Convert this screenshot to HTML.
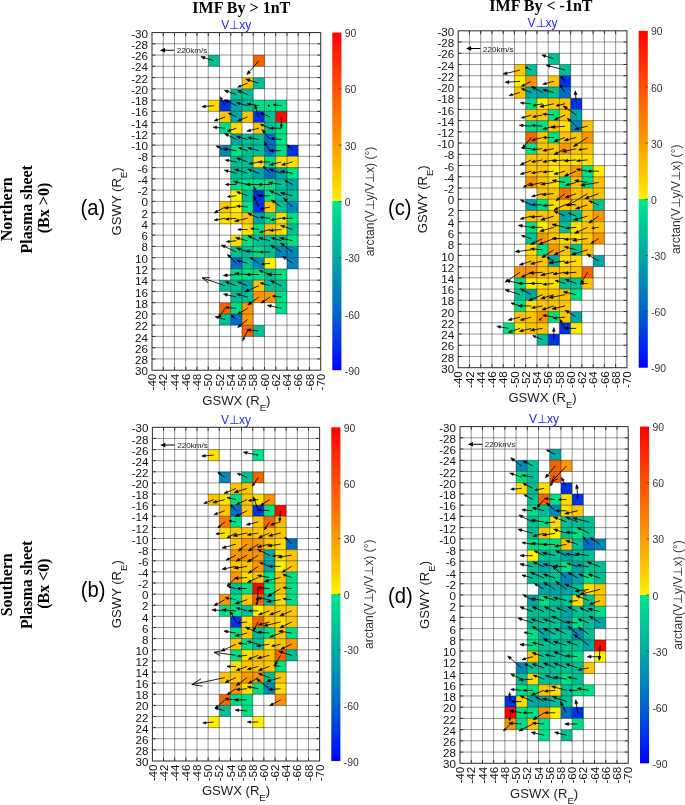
<!DOCTYPE html><html><head><meta charset="utf-8"><style>html,body{margin:0;padding:0;background:#fff;}svg{display:block;filter:blur(0.3px);}</style></head><body>
<svg width="685" height="805" viewBox="0 0 685 805" font-family='"Liberation Sans", sans-serif'>
<rect width="685" height="805" fill="#fff"/>
<rect x="208.23" y="55.06" width="11.3" height="11.3" fill="#00c196"/>
<rect x="253.22" y="55.06" width="11.3" height="11.3" fill="#f56400"/>
<rect x="241.97" y="77.57" width="11.3" height="11.3" fill="#fdc500"/>
<rect x="253.22" y="77.57" width="11.3" height="11.3" fill="#00c196"/>
<rect x="230.73" y="88.82" width="11.3" height="11.3" fill="#00c196"/>
<rect x="241.97" y="88.82" width="11.3" height="11.3" fill="#00c196"/>
<rect x="208.23" y="100.08" width="11.3" height="11.3" fill="#ffde00"/>
<rect x="219.48" y="100.08" width="11.3" height="11.3" fill="#0032e6"/>
<rect x="230.73" y="100.08" width="11.3" height="11.3" fill="#00a5a5"/>
<rect x="241.97" y="100.08" width="11.3" height="11.3" fill="#00c196"/>
<rect x="253.22" y="100.08" width="11.3" height="11.3" fill="#00e187"/>
<rect x="264.47" y="100.08" width="11.3" height="11.3" fill="#00e187"/>
<rect x="275.71" y="100.08" width="11.3" height="11.3" fill="#00e187"/>
<rect x="219.48" y="111.33" width="11.3" height="11.3" fill="#fdc500"/>
<rect x="230.73" y="111.33" width="11.3" height="11.3" fill="#00a5a5"/>
<rect x="241.97" y="111.33" width="11.3" height="11.3" fill="#fdc500"/>
<rect x="253.22" y="111.33" width="11.3" height="11.3" fill="#0032e6"/>
<rect x="264.47" y="111.33" width="11.3" height="11.3" fill="#00c196"/>
<rect x="275.71" y="111.33" width="11.3" height="11.3" fill="#fa0a00"/>
<rect x="219.48" y="122.59" width="11.3" height="11.3" fill="#00e187"/>
<rect x="230.73" y="122.59" width="11.3" height="11.3" fill="#ffde00"/>
<rect x="253.22" y="122.59" width="11.3" height="11.3" fill="#fdc500"/>
<rect x="264.47" y="122.59" width="11.3" height="11.3" fill="#00c196"/>
<rect x="275.71" y="122.59" width="11.3" height="11.3" fill="#00e187"/>
<rect x="230.73" y="133.84" width="11.3" height="11.3" fill="#00a5a5"/>
<rect x="241.97" y="133.84" width="11.3" height="11.3" fill="#00c196"/>
<rect x="253.22" y="133.84" width="11.3" height="11.3" fill="#00c196"/>
<rect x="264.47" y="133.84" width="11.3" height="11.3" fill="#006ec8"/>
<rect x="275.71" y="133.84" width="11.3" height="11.3" fill="#00e187"/>
<rect x="219.48" y="145.1" width="11.3" height="11.3" fill="#0088b8"/>
<rect x="230.73" y="145.1" width="11.3" height="11.3" fill="#00e187"/>
<rect x="241.97" y="145.1" width="11.3" height="11.3" fill="#00c196"/>
<rect x="253.22" y="145.1" width="11.3" height="11.3" fill="#00c196"/>
<rect x="264.47" y="145.1" width="11.3" height="11.3" fill="#006ec8"/>
<rect x="275.71" y="145.1" width="11.3" height="11.3" fill="#00e187"/>
<rect x="286.96" y="145.1" width="11.3" height="11.3" fill="#0032e6"/>
<rect x="230.73" y="156.35" width="11.3" height="11.3" fill="#00c196"/>
<rect x="241.97" y="156.35" width="11.3" height="11.3" fill="#00c196"/>
<rect x="253.22" y="156.35" width="11.3" height="11.3" fill="#ffde00"/>
<rect x="264.47" y="156.35" width="11.3" height="11.3" fill="#00e187"/>
<rect x="275.71" y="156.35" width="11.3" height="11.3" fill="#ffde00"/>
<rect x="286.96" y="156.35" width="11.3" height="11.3" fill="#ffde00"/>
<rect x="230.73" y="167.61" width="11.3" height="11.3" fill="#00c196"/>
<rect x="241.97" y="167.61" width="11.3" height="11.3" fill="#00c196"/>
<rect x="253.22" y="167.61" width="11.3" height="11.3" fill="#00a5a5"/>
<rect x="264.47" y="167.61" width="11.3" height="11.3" fill="#006ec8"/>
<rect x="275.71" y="167.61" width="11.3" height="11.3" fill="#00a5a5"/>
<rect x="286.96" y="167.61" width="11.3" height="11.3" fill="#00e187"/>
<rect x="230.73" y="178.87" width="11.3" height="11.3" fill="#00e187"/>
<rect x="241.97" y="178.87" width="11.3" height="11.3" fill="#00e187"/>
<rect x="253.22" y="178.87" width="11.3" height="11.3" fill="#00e187"/>
<rect x="264.47" y="178.87" width="11.3" height="11.3" fill="#00e187"/>
<rect x="275.71" y="178.87" width="11.3" height="11.3" fill="#00c196"/>
<rect x="286.96" y="178.87" width="11.3" height="11.3" fill="#00a5a5"/>
<rect x="230.73" y="190.12" width="11.3" height="11.3" fill="#fff000"/>
<rect x="241.97" y="190.12" width="11.3" height="11.3" fill="#00c196"/>
<rect x="253.22" y="190.12" width="11.3" height="11.3" fill="#0032e6"/>
<rect x="264.47" y="190.12" width="11.3" height="11.3" fill="#00e187"/>
<rect x="275.71" y="190.12" width="11.3" height="11.3" fill="#00c196"/>
<rect x="286.96" y="190.12" width="11.3" height="11.3" fill="#00c196"/>
<rect x="219.48" y="201.38" width="11.3" height="11.3" fill="#fdc500"/>
<rect x="230.73" y="201.38" width="11.3" height="11.3" fill="#fff000"/>
<rect x="241.97" y="201.38" width="11.3" height="11.3" fill="#00e187"/>
<rect x="253.22" y="201.38" width="11.3" height="11.3" fill="#0032e6"/>
<rect x="264.47" y="201.38" width="11.3" height="11.3" fill="#fdc500"/>
<rect x="275.71" y="201.38" width="11.3" height="11.3" fill="#00c196"/>
<rect x="286.96" y="201.38" width="11.3" height="11.3" fill="#0088b8"/>
<rect x="219.48" y="212.63" width="11.3" height="11.3" fill="#ffde00"/>
<rect x="230.73" y="212.63" width="11.3" height="11.3" fill="#ffde00"/>
<rect x="241.97" y="212.63" width="11.3" height="11.3" fill="#fdc500"/>
<rect x="253.22" y="212.63" width="11.3" height="11.3" fill="#00a5a5"/>
<rect x="264.47" y="212.63" width="11.3" height="11.3" fill="#00e187"/>
<rect x="275.71" y="212.63" width="11.3" height="11.3" fill="#ffde00"/>
<rect x="286.96" y="212.63" width="11.3" height="11.3" fill="#00e187"/>
<rect x="241.97" y="223.88" width="11.3" height="11.3" fill="#ffde00"/>
<rect x="253.22" y="223.88" width="11.3" height="11.3" fill="#00e187"/>
<rect x="264.47" y="223.88" width="11.3" height="11.3" fill="#fdc500"/>
<rect x="275.71" y="223.88" width="11.3" height="11.3" fill="#ffde00"/>
<rect x="286.96" y="223.88" width="11.3" height="11.3" fill="#00c196"/>
<rect x="230.73" y="235.14" width="11.3" height="11.3" fill="#ffde00"/>
<rect x="241.97" y="235.14" width="11.3" height="11.3" fill="#00e187"/>
<rect x="253.22" y="235.14" width="11.3" height="11.3" fill="#00c196"/>
<rect x="264.47" y="235.14" width="11.3" height="11.3" fill="#00c196"/>
<rect x="275.71" y="235.14" width="11.3" height="11.3" fill="#00c196"/>
<rect x="286.96" y="235.14" width="11.3" height="11.3" fill="#00e187"/>
<rect x="230.73" y="246.39" width="11.3" height="11.3" fill="#00c196"/>
<rect x="241.97" y="246.39" width="11.3" height="11.3" fill="#00c196"/>
<rect x="253.22" y="246.39" width="11.3" height="11.3" fill="#00e187"/>
<rect x="264.47" y="246.39" width="11.3" height="11.3" fill="#00c196"/>
<rect x="275.71" y="246.39" width="11.3" height="11.3" fill="#0088b8"/>
<rect x="286.96" y="246.39" width="11.3" height="11.3" fill="#0088b8"/>
<rect x="230.73" y="257.65" width="11.3" height="11.3" fill="#006ec8"/>
<rect x="241.97" y="257.65" width="11.3" height="11.3" fill="#00c196"/>
<rect x="253.22" y="257.65" width="11.3" height="11.3" fill="#0088b8"/>
<rect x="264.47" y="257.65" width="11.3" height="11.3" fill="#fff000"/>
<rect x="286.96" y="257.65" width="11.3" height="11.3" fill="#0088b8"/>
<rect x="230.73" y="268.9" width="11.3" height="11.3" fill="#00e187"/>
<rect x="241.97" y="268.9" width="11.3" height="11.3" fill="#00e187"/>
<rect x="253.22" y="268.9" width="11.3" height="11.3" fill="#00e187"/>
<rect x="264.47" y="268.9" width="11.3" height="11.3" fill="#00c196"/>
<rect x="275.71" y="268.9" width="11.3" height="11.3" fill="#00e187"/>
<rect x="219.48" y="280.16" width="11.3" height="11.3" fill="#00c196"/>
<rect x="230.73" y="280.16" width="11.3" height="11.3" fill="#00c196"/>
<rect x="241.97" y="280.16" width="11.3" height="11.3" fill="#00a5a5"/>
<rect x="253.22" y="280.16" width="11.3" height="11.3" fill="#fdc500"/>
<rect x="264.47" y="280.16" width="11.3" height="11.3" fill="#00c196"/>
<rect x="275.71" y="280.16" width="11.3" height="11.3" fill="#00c196"/>
<rect x="230.73" y="291.41" width="11.3" height="11.3" fill="#00c196"/>
<rect x="241.97" y="291.41" width="11.3" height="11.3" fill="#00c196"/>
<rect x="253.22" y="291.41" width="11.3" height="11.3" fill="#fa9600"/>
<rect x="264.47" y="291.41" width="11.3" height="11.3" fill="#fa9600"/>
<rect x="275.71" y="291.41" width="11.3" height="11.3" fill="#00e187"/>
<rect x="219.48" y="302.67" width="11.3" height="11.3" fill="#f56400"/>
<rect x="230.73" y="302.67" width="11.3" height="11.3" fill="#00e187"/>
<rect x="241.97" y="302.67" width="11.3" height="11.3" fill="#fa9600"/>
<rect x="275.71" y="302.67" width="11.3" height="11.3" fill="#00e187"/>
<rect x="219.48" y="313.93" width="11.3" height="11.3" fill="#00c196"/>
<rect x="230.73" y="313.93" width="11.3" height="11.3" fill="#006ec8"/>
<rect x="241.97" y="313.93" width="11.3" height="11.3" fill="#fa9600"/>
<rect x="241.97" y="325.18" width="11.3" height="11.3" fill="#f56400"/>
<rect x="253.22" y="325.18" width="11.3" height="11.3" fill="#00c196"/>
<path d="M163.25 32.55V370.2M174.49 32.55V370.2M185.74 32.55V370.2M196.99 32.55V370.2M208.23 32.55V370.2M219.48 32.55V370.2M230.73 32.55V370.2M241.97 32.55V370.2M253.22 32.55V370.2M264.47 32.55V370.2M275.71 32.55V370.2M286.96 32.55V370.2M298.21 32.55V370.2M309.45 32.55V370.2M152 43.8H320.7M152 55.06H320.7M152 66.31H320.7M152 77.57H320.7M152 88.82H320.7M152 100.08H320.7M152 111.33H320.7M152 122.59H320.7M152 133.84H320.7M152 145.1H320.7M152 156.35H320.7M152 167.61H320.7M152 178.87H320.7M152 190.12H320.7M152 201.38H320.7M152 212.63H320.7M152 223.88H320.7M152 235.14H320.7M152 246.39H320.7M152 257.65H320.7M152 268.9H320.7M152 280.16H320.7M152 291.41H320.7M152 302.67H320.7M152 313.93H320.7M152 325.18H320.7M152 336.44H320.7M152 347.69H320.7M152 358.94H320.7" stroke="rgba(0,0,0,0.42)" stroke-width="1" fill="none"/>
<path d="M163.25 370.2v-3.4M163.25 32.55v3.4M174.49 370.2v-3.4M174.49 32.55v3.4M185.74 370.2v-3.4M185.74 32.55v3.4M196.99 370.2v-3.4M196.99 32.55v3.4M208.23 370.2v-3.4M208.23 32.55v3.4M219.48 370.2v-3.4M219.48 32.55v3.4M230.73 370.2v-3.4M230.73 32.55v3.4M241.97 370.2v-3.4M241.97 32.55v3.4M253.22 370.2v-3.4M253.22 32.55v3.4M264.47 370.2v-3.4M264.47 32.55v3.4M275.71 370.2v-3.4M275.71 32.55v3.4M286.96 370.2v-3.4M286.96 32.55v3.4M298.21 370.2v-3.4M298.21 32.55v3.4M309.45 370.2v-3.4M309.45 32.55v3.4M152 43.8h3.4M320.7 43.8h-3.4M152 55.06h3.4M320.7 55.06h-3.4M152 66.31h3.4M320.7 66.31h-3.4M152 77.57h3.4M320.7 77.57h-3.4M152 88.82h3.4M320.7 88.82h-3.4M152 100.08h3.4M320.7 100.08h-3.4M152 111.33h3.4M320.7 111.33h-3.4M152 122.59h3.4M320.7 122.59h-3.4M152 133.84h3.4M320.7 133.84h-3.4M152 145.1h3.4M320.7 145.1h-3.4M152 156.35h3.4M320.7 156.35h-3.4M152 167.61h3.4M320.7 167.61h-3.4M152 178.87h3.4M320.7 178.87h-3.4M152 190.12h3.4M320.7 190.12h-3.4M152 201.38h3.4M320.7 201.38h-3.4M152 212.63h3.4M320.7 212.63h-3.4M152 223.88h3.4M320.7 223.88h-3.4M152 235.14h3.4M320.7 235.14h-3.4M152 246.39h3.4M320.7 246.39h-3.4M152 257.65h3.4M320.7 257.65h-3.4M152 268.9h3.4M320.7 268.9h-3.4M152 280.16h3.4M320.7 280.16h-3.4M152 291.41h3.4M320.7 291.41h-3.4M152 302.67h3.4M320.7 302.67h-3.4M152 313.93h3.4M320.7 313.93h-3.4M152 325.18h3.4M320.7 325.18h-3.4M152 336.44h3.4M320.7 336.44h-3.4M152 347.69h3.4M320.7 347.69h-3.4M152 358.94h3.4M320.7 358.94h-3.4" stroke="#333" stroke-width="1" fill="none"/>
<rect x="152" y="32.55" width="168.7" height="337.65" fill="none" stroke="#333" stroke-width="1.05"/>
<path d="M213.86 60.69L204.58 57.83" stroke="#000" stroke-width="0.85"/>
<path d="M205.01 56.45L200.86 56.69L204.16 59.22Z" stroke="#000" stroke-width="0.6" fill="#000" stroke-linejoin="round"/>
<path d="M258.84 60.69L249.38 71.73" stroke="#000" stroke-width="0.85"/>
<path d="M248.28 70.78L246.84 74.69L250.48 72.67Z" stroke="#000" stroke-width="0.6" fill="#000" stroke-linejoin="round"/>
<path d="M247.6 83.2L240.6 86" stroke="#000" stroke-width="0.85"/>
<path d="M240.16 84.9L237.6 87.2L241.04 87.1Z" stroke="#000" stroke-width="0.6" fill="#000" stroke-linejoin="round"/>
<path d="M258.84 83.2L249.57 80.34" stroke="#000" stroke-width="0.85"/>
<path d="M250 78.96L245.84 79.2L249.14 81.73Z" stroke="#000" stroke-width="0.6" fill="#000" stroke-linejoin="round"/>
<path d="M236.35 94.45L227.95 91.65" stroke="#000" stroke-width="0.85"/>
<path d="M228.39 90.33L224.35 90.45L227.51 92.97Z" stroke="#000" stroke-width="0.6" fill="#000" stroke-linejoin="round"/>
<path d="M247.6 94.45L240.6 91.65" stroke="#000" stroke-width="0.85"/>
<path d="M241.04 90.55L237.6 90.45L240.16 92.75Z" stroke="#000" stroke-width="0.6" fill="#000" stroke-linejoin="round"/>
<path d="M213.86 105.71L205.46 106.41" stroke="#000" stroke-width="0.85"/>
<path d="M205.35 105.09L201.86 106.71L205.57 107.73Z" stroke="#000" stroke-width="0.6" fill="#000" stroke-linejoin="round"/>
<path d="M225.1 105.71L221.6 99.41" stroke="#000" stroke-width="0.85"/>
<path d="M222.59 98.86L220.1 96.71L220.61 99.96Z" stroke="#000" stroke-width="0.6" fill="#000" stroke-linejoin="round"/>
<path d="M236.35 105.71L227.84 101.45" stroke="#000" stroke-width="0.85"/>
<path d="M228.49 100.15L224.35 99.71L227.19 102.75Z" stroke="#000" stroke-width="0.6" fill="#000" stroke-linejoin="round"/>
<path d="M247.6 105.71L239.9 103.61" stroke="#000" stroke-width="0.85"/>
<path d="M240.23 102.4L236.6 102.71L239.57 104.82Z" stroke="#000" stroke-width="0.6" fill="#000" stroke-linejoin="round"/>
<path d="M258.84 105.71L250.44 104.31" stroke="#000" stroke-width="0.85"/>
<path d="M250.66 102.99L246.84 103.71L250.22 105.63Z" stroke="#000" stroke-width="0.6" fill="#000" stroke-linejoin="round"/>
<path d="M270.09 105.71L268.69 105.71" stroke="#000" stroke-width="0.85"/>
<path d="M268.69 104.61L268.09 105.71L268.69 106.81Z" stroke="#000" stroke-width="0.6" fill="#000" stroke-linejoin="round"/>
<path d="M281.34 105.71L275.74 105.01" stroke="#000" stroke-width="0.85"/>
<path d="M275.87 103.92L273.34 104.71L275.6 106.1Z" stroke="#000" stroke-width="0.6" fill="#000" stroke-linejoin="round"/>
<path d="M225.1 116.96L217.4 119.76" stroke="#000" stroke-width="0.85"/>
<path d="M216.96 118.55L214.1 120.96L217.84 120.97Z" stroke="#000" stroke-width="0.6" fill="#000" stroke-linejoin="round"/>
<path d="M236.35 116.96L230.75 114.16" stroke="#000" stroke-width="0.85"/>
<path d="M231.24 113.18L228.35 112.96L230.26 115.15Z" stroke="#000" stroke-width="0.6" fill="#000" stroke-linejoin="round"/>
<path d="M247.6 116.96L240.6 119.76" stroke="#000" stroke-width="0.85"/>
<path d="M240.16 118.66L237.6 120.96L241.04 120.86Z" stroke="#000" stroke-width="0.6" fill="#000" stroke-linejoin="round"/>
<path d="M258.84 116.96L256.04 108.56" stroke="#000" stroke-width="0.85"/>
<path d="M257.36 108.12L254.84 104.96L254.72 109Z" stroke="#000" stroke-width="0.6" fill="#000" stroke-linejoin="round"/>
<path d="M270.09 116.96L263.09 114.16" stroke="#000" stroke-width="0.85"/>
<path d="M263.53 113.06L260.09 112.96L262.65 115.26Z" stroke="#000" stroke-width="0.6" fill="#000" stroke-linejoin="round"/>
<path d="M281.34 116.96L281.34 124.66" stroke="#000" stroke-width="0.85"/>
<path d="M280.13 124.66L281.34 127.96L282.55 124.66Z" stroke="#000" stroke-width="0.6" fill="#000" stroke-linejoin="round"/>
<path d="M225.1 128.22L216.7 127.52" stroke="#000" stroke-width="0.85"/>
<path d="M216.81 126.2L213.1 127.22L216.59 128.84Z" stroke="#000" stroke-width="0.6" fill="#000" stroke-linejoin="round"/>
<path d="M236.35 128.22L230.05 130.32" stroke="#000" stroke-width="0.85"/>
<path d="M229.7 129.27L227.35 131.22L230.4 131.36Z" stroke="#000" stroke-width="0.6" fill="#000" stroke-linejoin="round"/>
<path d="M258.84 128.22L250.44 130.32" stroke="#000" stroke-width="0.85"/>
<path d="M250.11 129L246.84 131.22L250.77 131.64Z" stroke="#000" stroke-width="0.6" fill="#000" stroke-linejoin="round"/>
<path d="M270.09 128.22L263.09 125.42" stroke="#000" stroke-width="0.85"/>
<path d="M263.53 124.32L260.09 124.22L262.65 126.52Z" stroke="#000" stroke-width="0.6" fill="#000" stroke-linejoin="round"/>
<path d="M281.34 128.22L272.94 128.22" stroke="#000" stroke-width="0.85"/>
<path d="M272.94 126.9L269.34 128.22L272.94 129.54Z" stroke="#000" stroke-width="0.6" fill="#000" stroke-linejoin="round"/>
<path d="M236.35 139.47L227.84 135.22" stroke="#000" stroke-width="0.85"/>
<path d="M228.49 133.92L224.35 133.47L227.19 136.51Z" stroke="#000" stroke-width="0.6" fill="#000" stroke-linejoin="round"/>
<path d="M247.6 139.47L239.9 137.37" stroke="#000" stroke-width="0.85"/>
<path d="M240.23 136.16L236.6 136.47L239.57 138.58Z" stroke="#000" stroke-width="0.6" fill="#000" stroke-linejoin="round"/>
<path d="M258.84 139.47L251.14 138.07" stroke="#000" stroke-width="0.85"/>
<path d="M251.36 136.86L247.84 137.47L250.92 139.28Z" stroke="#000" stroke-width="0.6" fill="#000" stroke-linejoin="round"/>
<path d="M270.09 139.47L264.49 132.47" stroke="#000" stroke-width="0.85"/>
<path d="M265.59 131.59L262.09 129.47L263.39 133.35Z" stroke="#000" stroke-width="0.6" fill="#000" stroke-linejoin="round"/>
<path d="M281.34 139.47L273.64 138.77" stroke="#000" stroke-width="0.85"/>
<path d="M273.75 137.56L270.34 138.47L273.53 139.98Z" stroke="#000" stroke-width="0.6" fill="#000" stroke-linejoin="round"/>
<path d="M225.1 150.73L218.8 147.23" stroke="#000" stroke-width="0.85"/>
<path d="M219.35 146.24L216.1 145.73L218.25 148.22Z" stroke="#000" stroke-width="0.6" fill="#000" stroke-linejoin="round"/>
<path d="M236.35 150.73L227.2 149.32" stroke="#000" stroke-width="0.85"/>
<path d="M227.42 147.89L223.35 148.73L226.98 150.75Z" stroke="#000" stroke-width="0.6" fill="#000" stroke-linejoin="round"/>
<path d="M247.6 150.73L241.3 148.63" stroke="#000" stroke-width="0.85"/>
<path d="M241.64 147.58L238.6 147.73L240.95 149.67Z" stroke="#000" stroke-width="0.6" fill="#000" stroke-linejoin="round"/>
<path d="M258.84 150.73L251.14 148.63" stroke="#000" stroke-width="0.85"/>
<path d="M251.47 147.42L247.84 147.73L250.81 149.84Z" stroke="#000" stroke-width="0.6" fill="#000" stroke-linejoin="round"/>
<path d="M270.09 150.73L265.89 144.43" stroke="#000" stroke-width="0.85"/>
<path d="M266.88 143.77L264.09 141.73L264.9 145.09Z" stroke="#000" stroke-width="0.6" fill="#000" stroke-linejoin="round"/>
<path d="M281.34 150.73L272.94 150.73" stroke="#000" stroke-width="0.85"/>
<path d="M272.94 149.41L269.34 150.73L272.94 152.05Z" stroke="#000" stroke-width="0.6" fill="#000" stroke-linejoin="round"/>
<path d="M292.58 150.73L289.08 146.53" stroke="#000" stroke-width="0.85"/>
<path d="M289.93 145.82L287.58 144.73L288.24 147.23Z" stroke="#000" stroke-width="0.6" fill="#000" stroke-linejoin="round"/>
<path d="M236.35 161.98L228.65 160.58" stroke="#000" stroke-width="0.85"/>
<path d="M228.87 159.37L225.35 159.98L228.43 161.79Z" stroke="#000" stroke-width="0.6" fill="#000" stroke-linejoin="round"/>
<path d="M247.6 161.98L239.9 159.18" stroke="#000" stroke-width="0.85"/>
<path d="M240.34 157.97L236.6 157.98L239.46 160.39Z" stroke="#000" stroke-width="0.6" fill="#000" stroke-linejoin="round"/>
<path d="M258.84 161.98L251.84 163.38" stroke="#000" stroke-width="0.85"/>
<path d="M251.62 162.28L248.84 163.98L252.06 164.48Z" stroke="#000" stroke-width="0.6" fill="#000" stroke-linejoin="round"/>
<path d="M270.09 161.98L261.69 161.98" stroke="#000" stroke-width="0.85"/>
<path d="M261.69 160.66L258.09 161.98L261.69 163.3Z" stroke="#000" stroke-width="0.6" fill="#000" stroke-linejoin="round"/>
<path d="M281.34 161.98L272.94 164.08" stroke="#000" stroke-width="0.85"/>
<path d="M272.61 162.76L269.34 164.98L273.27 165.4Z" stroke="#000" stroke-width="0.6" fill="#000" stroke-linejoin="round"/>
<path d="M292.58 161.98L284.88 164.08" stroke="#000" stroke-width="0.85"/>
<path d="M284.55 162.87L281.58 164.98L285.21 165.29Z" stroke="#000" stroke-width="0.6" fill="#000" stroke-linejoin="round"/>
<path d="M236.35 173.24L227.95 171.14" stroke="#000" stroke-width="0.85"/>
<path d="M228.28 169.82L224.35 170.24L227.62 172.46Z" stroke="#000" stroke-width="0.6" fill="#000" stroke-linejoin="round"/>
<path d="M247.6 173.24L238.32 170.38" stroke="#000" stroke-width="0.85"/>
<path d="M238.75 169L234.6 169.24L237.9 171.77Z" stroke="#000" stroke-width="0.6" fill="#000" stroke-linejoin="round"/>
<path d="M258.84 173.24L251.14 170.44" stroke="#000" stroke-width="0.85"/>
<path d="M251.58 169.23L247.84 169.24L250.7 171.65Z" stroke="#000" stroke-width="0.6" fill="#000" stroke-linejoin="round"/>
<path d="M270.09 173.24L265.19 168.34" stroke="#000" stroke-width="0.85"/>
<path d="M265.97 167.56L263.09 166.24L264.41 169.12Z" stroke="#000" stroke-width="0.6" fill="#000" stroke-linejoin="round"/>
<path d="M281.34 173.24L272.94 170.44" stroke="#000" stroke-width="0.85"/>
<path d="M273.38 169.12L269.34 169.24L272.5 171.76Z" stroke="#000" stroke-width="0.6" fill="#000" stroke-linejoin="round"/>
<path d="M292.58 173.24L284.18 171.84" stroke="#000" stroke-width="0.85"/>
<path d="M284.4 170.52L280.58 171.24L283.96 173.16Z" stroke="#000" stroke-width="0.6" fill="#000" stroke-linejoin="round"/>
<path d="M236.35 184.49L228.65 184.49" stroke="#000" stroke-width="0.85"/>
<path d="M228.65 183.28L225.35 184.49L228.65 185.7Z" stroke="#000" stroke-width="0.6" fill="#000" stroke-linejoin="round"/>
<path d="M247.6 184.49L237.41 182.31" stroke="#000" stroke-width="0.85"/>
<path d="M237.71 180.89L233.6 181.49L237.11 183.73Z" stroke="#000" stroke-width="0.6" fill="#000" stroke-linejoin="round"/>
<path d="M258.84 184.49L249.74 184.49" stroke="#000" stroke-width="0.85"/>
<path d="M249.74 183.06L245.84 184.49L249.74 185.92Z" stroke="#000" stroke-width="0.6" fill="#000" stroke-linejoin="round"/>
<path d="M270.09 184.49L261.69 184.49" stroke="#000" stroke-width="0.85"/>
<path d="M261.69 183.17L258.09 184.49L261.69 185.81Z" stroke="#000" stroke-width="0.6" fill="#000" stroke-linejoin="round"/>
<path d="M281.34 184.49L272.19 183.09" stroke="#000" stroke-width="0.85"/>
<path d="M272.41 181.66L268.34 182.49L271.97 184.52Z" stroke="#000" stroke-width="0.6" fill="#000" stroke-linejoin="round"/>
<path d="M292.58 184.49L286.98 181.69" stroke="#000" stroke-width="0.85"/>
<path d="M287.48 180.71L284.58 180.49L286.49 182.68Z" stroke="#000" stroke-width="0.6" fill="#000" stroke-linejoin="round"/>
<path d="M236.35 195.75L230.05 196.45" stroke="#000" stroke-width="0.85"/>
<path d="M229.93 195.35L227.35 196.75L230.17 197.54Z" stroke="#000" stroke-width="0.6" fill="#000" stroke-linejoin="round"/>
<path d="M247.6 195.75L239.9 192.95" stroke="#000" stroke-width="0.85"/>
<path d="M240.34 191.74L236.6 191.75L239.46 194.16Z" stroke="#000" stroke-width="0.6" fill="#000" stroke-linejoin="round"/>
<path d="M258.84 195.75L255.34 189.45" stroke="#000" stroke-width="0.85"/>
<path d="M256.33 188.9L253.84 186.75L254.35 190Z" stroke="#000" stroke-width="0.6" fill="#000" stroke-linejoin="round"/>
<path d="M270.09 195.75L261.69 195.75" stroke="#000" stroke-width="0.85"/>
<path d="M261.69 194.43L258.09 195.75L261.69 197.07Z" stroke="#000" stroke-width="0.6" fill="#000" stroke-linejoin="round"/>
<path d="M281.34 195.75L272.94 192.25" stroke="#000" stroke-width="0.85"/>
<path d="M273.49 190.93L269.34 190.75L272.39 193.57Z" stroke="#000" stroke-width="0.6" fill="#000" stroke-linejoin="round"/>
<path d="M292.58 195.75L284.18 193.65" stroke="#000" stroke-width="0.85"/>
<path d="M284.51 192.33L280.58 192.75L283.85 194.97Z" stroke="#000" stroke-width="0.6" fill="#000" stroke-linejoin="round"/>
<path d="M225.1 207L217.4 211.2" stroke="#000" stroke-width="0.85"/>
<path d="M216.74 209.99L214.1 213L218.06 212.41Z" stroke="#000" stroke-width="0.6" fill="#000" stroke-linejoin="round"/>
<path d="M236.35 207L227.95 207.7" stroke="#000" stroke-width="0.85"/>
<path d="M227.84 206.38L224.35 208L228.06 209.02Z" stroke="#000" stroke-width="0.6" fill="#000" stroke-linejoin="round"/>
<path d="M247.6 207L239.9 206.3" stroke="#000" stroke-width="0.85"/>
<path d="M240.01 205.09L236.6 206L239.79 207.51Z" stroke="#000" stroke-width="0.6" fill="#000" stroke-linejoin="round"/>
<path d="M258.84 207L255.34 199.3" stroke="#000" stroke-width="0.85"/>
<path d="M256.55 198.75L253.84 196L254.13 199.85Z" stroke="#000" stroke-width="0.6" fill="#000" stroke-linejoin="round"/>
<path d="M270.09 207L263.09 208.4" stroke="#000" stroke-width="0.85"/>
<path d="M262.87 207.3L260.09 209L263.31 209.5Z" stroke="#000" stroke-width="0.6" fill="#000" stroke-linejoin="round"/>
<path d="M281.34 207L274.34 202.1" stroke="#000" stroke-width="0.85"/>
<path d="M275.11 201L271.34 200L273.57 203.2Z" stroke="#000" stroke-width="0.6" fill="#000" stroke-linejoin="round"/>
<path d="M292.58 207L286.28 200.7" stroke="#000" stroke-width="0.85"/>
<path d="M287.27 199.71L283.58 198L285.29 201.69Z" stroke="#000" stroke-width="0.6" fill="#000" stroke-linejoin="round"/>
<path d="M225.1 218.26L217.4 219.66" stroke="#000" stroke-width="0.85"/>
<path d="M217.18 218.45L214.1 220.26L217.62 220.87Z" stroke="#000" stroke-width="0.6" fill="#000" stroke-linejoin="round"/>
<path d="M236.35 218.26L228.65 218.96" stroke="#000" stroke-width="0.85"/>
<path d="M228.54 217.75L225.35 219.26L228.76 220.17Z" stroke="#000" stroke-width="0.6" fill="#000" stroke-linejoin="round"/>
<path d="M247.6 218.26L238.4 220.38" stroke="#000" stroke-width="0.85"/>
<path d="M238.07 218.97L234.6 221.26L238.72 221.79Z" stroke="#000" stroke-width="0.6" fill="#000" stroke-linejoin="round"/>
<path d="M258.84 218.26L251.14 214.76" stroke="#000" stroke-width="0.85"/>
<path d="M251.69 213.55L247.84 213.26L250.59 215.97Z" stroke="#000" stroke-width="0.6" fill="#000" stroke-linejoin="round"/>
<path d="M270.09 218.26L263.09 217.56" stroke="#000" stroke-width="0.85"/>
<path d="M263.2 216.46L260.09 217.26L262.98 218.66Z" stroke="#000" stroke-width="0.6" fill="#000" stroke-linejoin="round"/>
<path d="M281.34 218.26L273.64 219.66" stroke="#000" stroke-width="0.85"/>
<path d="M273.42 218.45L270.34 220.26L273.86 220.87Z" stroke="#000" stroke-width="0.6" fill="#000" stroke-linejoin="round"/>
<path d="M292.58 218.26L284.88 218.26" stroke="#000" stroke-width="0.85"/>
<path d="M284.88 217.05L281.58 218.26L284.88 219.47Z" stroke="#000" stroke-width="0.6" fill="#000" stroke-linejoin="round"/>
<path d="M247.6 229.51L240.6 229.51" stroke="#000" stroke-width="0.85"/>
<path d="M240.6 228.41L237.6 229.51L240.6 230.61Z" stroke="#000" stroke-width="0.6" fill="#000" stroke-linejoin="round"/>
<path d="M258.84 229.51L253.24 228.81" stroke="#000" stroke-width="0.85"/>
<path d="M253.38 227.72L250.84 228.51L253.11 229.9Z" stroke="#000" stroke-width="0.6" fill="#000" stroke-linejoin="round"/>
<path d="M270.09 229.51L262.39 231.61" stroke="#000" stroke-width="0.85"/>
<path d="M262.06 230.4L259.09 232.51L262.72 232.82Z" stroke="#000" stroke-width="0.6" fill="#000" stroke-linejoin="round"/>
<path d="M281.34 229.51L272.94 230.21" stroke="#000" stroke-width="0.85"/>
<path d="M272.83 228.89L269.34 230.51L273.05 231.53Z" stroke="#000" stroke-width="0.6" fill="#000" stroke-linejoin="round"/>
<path d="M292.58 229.51L284.18 226.71" stroke="#000" stroke-width="0.85"/>
<path d="M284.62 225.39L280.58 225.51L283.74 228.03Z" stroke="#000" stroke-width="0.6" fill="#000" stroke-linejoin="round"/>
<path d="M236.35 240.77L229.35 241.47" stroke="#000" stroke-width="0.85"/>
<path d="M229.24 240.37L226.35 241.77L229.46 242.57Z" stroke="#000" stroke-width="0.6" fill="#000" stroke-linejoin="round"/>
<path d="M247.6 240.77L239.2 238.67" stroke="#000" stroke-width="0.85"/>
<path d="M239.53 237.35L235.6 237.77L238.87 239.99Z" stroke="#000" stroke-width="0.6" fill="#000" stroke-linejoin="round"/>
<path d="M258.84 240.77L251.14 237.27" stroke="#000" stroke-width="0.85"/>
<path d="M251.69 236.06L247.84 235.77L250.59 238.48Z" stroke="#000" stroke-width="0.6" fill="#000" stroke-linejoin="round"/>
<path d="M270.09 240.77L262.39 238.67" stroke="#000" stroke-width="0.85"/>
<path d="M262.72 237.46L259.09 237.77L262.06 239.88Z" stroke="#000" stroke-width="0.6" fill="#000" stroke-linejoin="round"/>
<path d="M281.34 240.77L274.34 238.67" stroke="#000" stroke-width="0.85"/>
<path d="M274.67 237.57L271.34 237.77L274.01 239.77Z" stroke="#000" stroke-width="0.6" fill="#000" stroke-linejoin="round"/>
<path d="M292.58 240.77L283.38 238.64" stroke="#000" stroke-width="0.85"/>
<path d="M283.71 237.23L279.58 237.77L283.06 240.06Z" stroke="#000" stroke-width="0.6" fill="#000" stroke-linejoin="round"/>
<path d="M236.35 252.02L224.88 246.67" stroke="#000" stroke-width="0.85"/>
<path d="M225.5 245.36L221.35 245.02L224.27 247.99Z" stroke="#000" stroke-width="0.6" fill="#000" stroke-linejoin="round"/>
<path d="M247.6 252.02L239.9 249.22" stroke="#000" stroke-width="0.85"/>
<path d="M240.34 248.01L236.6 248.02L239.46 250.43Z" stroke="#000" stroke-width="0.6" fill="#000" stroke-linejoin="round"/>
<path d="M258.84 252.02L249.73 251.32" stroke="#000" stroke-width="0.85"/>
<path d="M249.84 249.89L245.84 251.02L249.62 252.75Z" stroke="#000" stroke-width="0.6" fill="#000" stroke-linejoin="round"/>
<path d="M270.09 252.02L262.39 252.02" stroke="#000" stroke-width="0.85"/>
<path d="M262.39 250.81L259.09 252.02L262.39 253.23Z" stroke="#000" stroke-width="0.6" fill="#000" stroke-linejoin="round"/>
<path d="M281.34 252.02L273.63 247.12" stroke="#000" stroke-width="0.85"/>
<path d="M274.4 245.91L270.34 245.02L272.86 248.33Z" stroke="#000" stroke-width="0.6" fill="#000" stroke-linejoin="round"/>
<path d="M292.58 252.02L283.7 245.36" stroke="#000" stroke-width="0.85"/>
<path d="M284.57 244.2L280.58 243.02L282.83 246.52Z" stroke="#000" stroke-width="0.6" fill="#000" stroke-linejoin="round"/>
<path d="M236.35 263.28L230.05 256.98" stroke="#000" stroke-width="0.85"/>
<path d="M231.04 255.99L227.35 254.28L229.06 257.97Z" stroke="#000" stroke-width="0.6" fill="#000" stroke-linejoin="round"/>
<path d="M247.6 263.28L239.9 261.18" stroke="#000" stroke-width="0.85"/>
<path d="M240.23 259.97L236.6 260.28L239.57 262.39Z" stroke="#000" stroke-width="0.6" fill="#000" stroke-linejoin="round"/>
<path d="M258.84 263.28L252.54 259.08" stroke="#000" stroke-width="0.85"/>
<path d="M253.2 258.09L249.84 257.28L251.88 260.07Z" stroke="#000" stroke-width="0.6" fill="#000" stroke-linejoin="round"/>
<path d="M270.09 263.28L263.79 263.98" stroke="#000" stroke-width="0.85"/>
<path d="M263.67 262.88L261.09 264.28L263.91 265.07Z" stroke="#000" stroke-width="0.6" fill="#000" stroke-linejoin="round"/>
<path d="M292.58 263.28L285.58 258.38" stroke="#000" stroke-width="0.85"/>
<path d="M286.35 257.28L282.58 256.28L284.81 259.48Z" stroke="#000" stroke-width="0.6" fill="#000" stroke-linejoin="round"/>
<path d="M236.35 274.53L227.24 275.23" stroke="#000" stroke-width="0.85"/>
<path d="M227.13 273.8L223.35 275.53L227.35 276.66Z" stroke="#000" stroke-width="0.6" fill="#000" stroke-linejoin="round"/>
<path d="M247.6 274.53L238.49 273.83" stroke="#000" stroke-width="0.85"/>
<path d="M238.6 272.4L234.6 273.53L238.38 275.26Z" stroke="#000" stroke-width="0.6" fill="#000" stroke-linejoin="round"/>
<path d="M258.84 274.53L249.74 274.53" stroke="#000" stroke-width="0.85"/>
<path d="M249.74 273.1L245.84 274.53L249.74 275.96Z" stroke="#000" stroke-width="0.6" fill="#000" stroke-linejoin="round"/>
<path d="M270.09 274.53L262.39 271.73" stroke="#000" stroke-width="0.85"/>
<path d="M262.83 270.52L259.09 270.53L261.95 272.94Z" stroke="#000" stroke-width="0.6" fill="#000" stroke-linejoin="round"/>
<path d="M281.34 274.53L271.24 274.53" stroke="#000" stroke-width="0.85"/>
<path d="M271.24 273.08L267.34 274.53L271.24 275.98Z" stroke="#000" stroke-width="0.6" fill="#000" stroke-linejoin="round"/>
<path d="M225.1 285.79L202.1 277.79M209.88 277.66L202.1 277.79L208.12 282.72" stroke="#000" stroke-width="0.85" fill="none"/>
<path d="M236.35 285.79L228.65 282.99" stroke="#000" stroke-width="0.85"/>
<path d="M229.09 281.78L225.35 281.79L228.21 284.2Z" stroke="#000" stroke-width="0.6" fill="#000" stroke-linejoin="round"/>
<path d="M247.6 285.79L240.6 282.99" stroke="#000" stroke-width="0.85"/>
<path d="M241.04 281.89L237.6 281.79L240.16 284.09Z" stroke="#000" stroke-width="0.6" fill="#000" stroke-linejoin="round"/>
<path d="M258.84 285.79L248.43 290.25" stroke="#000" stroke-width="0.85"/>
<path d="M247.86 288.92L244.84 291.79L249 291.58Z" stroke="#000" stroke-width="0.6" fill="#000" stroke-linejoin="round"/>
<path d="M270.09 285.79L263.09 283.69" stroke="#000" stroke-width="0.85"/>
<path d="M263.42 282.59L260.09 282.79L262.76 284.79Z" stroke="#000" stroke-width="0.6" fill="#000" stroke-linejoin="round"/>
<path d="M281.34 285.79L273.64 282.29" stroke="#000" stroke-width="0.85"/>
<path d="M274.19 281.08L270.34 280.79L273.09 283.5Z" stroke="#000" stroke-width="0.6" fill="#000" stroke-linejoin="round"/>
<path d="M236.35 297.04L227.15 294.92" stroke="#000" stroke-width="0.85"/>
<path d="M227.48 293.51L223.35 294.04L226.82 296.33Z" stroke="#000" stroke-width="0.6" fill="#000" stroke-linejoin="round"/>
<path d="M247.6 297.04L239.9 294.94" stroke="#000" stroke-width="0.85"/>
<path d="M240.23 293.73L236.6 294.04L239.57 296.15Z" stroke="#000" stroke-width="0.6" fill="#000" stroke-linejoin="round"/>
<path d="M258.84 297.04L251 302.75" stroke="#000" stroke-width="0.85"/>
<path d="M250.14 301.58L247.84 305.04L251.85 303.92Z" stroke="#000" stroke-width="0.6" fill="#000" stroke-linejoin="round"/>
<path d="M270.09 297.04L263.79 301.24" stroke="#000" stroke-width="0.85"/>
<path d="M263.13 300.25L261.09 303.04L264.45 302.23Z" stroke="#000" stroke-width="0.6" fill="#000" stroke-linejoin="round"/>
<path d="M281.34 297.04L275.04 296.34" stroke="#000" stroke-width="0.85"/>
<path d="M275.16 295.25L272.34 296.04L274.92 297.44Z" stroke="#000" stroke-width="0.6" fill="#000" stroke-linejoin="round"/>
<path d="M225.1 308.3L220.2 315.3" stroke="#000" stroke-width="0.85"/>
<path d="M219.1 314.53L218.1 318.3L221.3 316.07Z" stroke="#000" stroke-width="0.6" fill="#000" stroke-linejoin="round"/>
<path d="M236.35 308.3L228.65 307.6" stroke="#000" stroke-width="0.85"/>
<path d="M228.76 306.39L225.35 307.3L228.54 308.81Z" stroke="#000" stroke-width="0.6" fill="#000" stroke-linejoin="round"/>
<path d="M247.6 308.3L240.6 312.5" stroke="#000" stroke-width="0.85"/>
<path d="M239.94 311.4L237.6 314.3L241.26 313.6Z" stroke="#000" stroke-width="0.6" fill="#000" stroke-linejoin="round"/>
<path d="M281.34 308.3L271.15 306.11" stroke="#000" stroke-width="0.85"/>
<path d="M271.45 304.7L267.34 305.3L270.85 307.53Z" stroke="#000" stroke-width="0.6" fill="#000" stroke-linejoin="round"/>
<path d="M225.1 319.55L218.1 317.45" stroke="#000" stroke-width="0.85"/>
<path d="M218.43 316.35L215.1 316.55L217.77 318.55Z" stroke="#000" stroke-width="0.6" fill="#000" stroke-linejoin="round"/>
<path d="M236.35 319.55L232.85 316.75" stroke="#000" stroke-width="0.85"/>
<path d="M233.54 315.89L231.35 315.55L232.16 317.61Z" stroke="#000" stroke-width="0.6" fill="#000" stroke-linejoin="round"/>
<path d="M247.6 319.55L240.6 325.15" stroke="#000" stroke-width="0.85"/>
<path d="M239.72 324.05L237.6 327.55L241.48 326.25Z" stroke="#000" stroke-width="0.6" fill="#000" stroke-linejoin="round"/>
<path d="M247.6 330.81L244.1 337.81" stroke="#000" stroke-width="0.85"/>
<path d="M243 337.26L242.6 340.81L245.2 338.36Z" stroke="#000" stroke-width="0.6" fill="#000" stroke-linejoin="round"/>
<path d="M258.84 330.81L250.44 330.11" stroke="#000" stroke-width="0.85"/>
<path d="M250.55 328.79L246.84 329.81L250.33 331.43Z" stroke="#000" stroke-width="0.6" fill="#000" stroke-linejoin="round"/>
<line x1="164" y1="50.25" x2="174.2" y2="50.25" stroke="#000" stroke-width="1"/>
<polygon points="159.8,50.25 165,48.05 165,52.45" fill="#000"/>
<text x="176.8" y="53.25" font-size="8.1" fill="#222">220km/s</text>
<text x="148" y="37.65" font-size="11.6" text-anchor="end" fill="#111">-30</text>
<text x="148" y="48.9" font-size="11.6" text-anchor="end" fill="#111">-28</text>
<text x="148" y="60.16" font-size="11.6" text-anchor="end" fill="#111">-26</text>
<text x="148" y="71.41" font-size="11.6" text-anchor="end" fill="#111">-24</text>
<text x="148" y="82.67" font-size="11.6" text-anchor="end" fill="#111">-22</text>
<text x="148" y="93.92" font-size="11.6" text-anchor="end" fill="#111">-20</text>
<text x="148" y="105.18" font-size="11.6" text-anchor="end" fill="#111">-18</text>
<text x="148" y="116.43" font-size="11.6" text-anchor="end" fill="#111">-16</text>
<text x="148" y="127.69" font-size="11.6" text-anchor="end" fill="#111">-14</text>
<text x="148" y="138.94" font-size="11.6" text-anchor="end" fill="#111">-12</text>
<text x="148" y="150.2" font-size="11.6" text-anchor="end" fill="#111">-10</text>
<text x="148" y="161.45" font-size="11.6" text-anchor="end" fill="#111">-8</text>
<text x="148" y="172.71" font-size="11.6" text-anchor="end" fill="#111">-6</text>
<text x="148" y="183.97" font-size="11.6" text-anchor="end" fill="#111">-4</text>
<text x="148" y="195.22" font-size="11.6" text-anchor="end" fill="#111">-2</text>
<text x="148" y="206.47" font-size="11.6" text-anchor="end" fill="#111">0</text>
<text x="148" y="217.73" font-size="11.6" text-anchor="end" fill="#111">2</text>
<text x="148" y="228.98" font-size="11.6" text-anchor="end" fill="#111">4</text>
<text x="148" y="240.24" font-size="11.6" text-anchor="end" fill="#111">6</text>
<text x="148" y="251.49" font-size="11.6" text-anchor="end" fill="#111">8</text>
<text x="148" y="262.75" font-size="11.6" text-anchor="end" fill="#111">10</text>
<text x="148" y="274" font-size="11.6" text-anchor="end" fill="#111">12</text>
<text x="148" y="285.26" font-size="11.6" text-anchor="end" fill="#111">14</text>
<text x="148" y="296.51" font-size="11.6" text-anchor="end" fill="#111">16</text>
<text x="148" y="307.77" font-size="11.6" text-anchor="end" fill="#111">18</text>
<text x="148" y="319.03" font-size="11.6" text-anchor="end" fill="#111">20</text>
<text x="148" y="330.28" font-size="11.6" text-anchor="end" fill="#111">22</text>
<text x="148" y="341.54" font-size="11.6" text-anchor="end" fill="#111">24</text>
<text x="148" y="352.79" font-size="11.6" text-anchor="end" fill="#111">26</text>
<text x="148" y="364.05" font-size="11.6" text-anchor="end" fill="#111">28</text>
<text x="148" y="375.3" font-size="11.6" text-anchor="end" fill="#111">30</text>
<text transform="translate(156.1,373.7) rotate(-90)" font-size="11.6" text-anchor="end" fill="#111">-40</text>
<text transform="translate(167.35,373.7) rotate(-90)" font-size="11.6" text-anchor="end" fill="#111">-42</text>
<text transform="translate(178.59,373.7) rotate(-90)" font-size="11.6" text-anchor="end" fill="#111">-44</text>
<text transform="translate(189.84,373.7) rotate(-90)" font-size="11.6" text-anchor="end" fill="#111">-46</text>
<text transform="translate(201.09,373.7) rotate(-90)" font-size="11.6" text-anchor="end" fill="#111">-48</text>
<text transform="translate(212.33,373.7) rotate(-90)" font-size="11.6" text-anchor="end" fill="#111">-50</text>
<text transform="translate(223.58,373.7) rotate(-90)" font-size="11.6" text-anchor="end" fill="#111">-52</text>
<text transform="translate(234.83,373.7) rotate(-90)" font-size="11.6" text-anchor="end" fill="#111">-54</text>
<text transform="translate(246.07,373.7) rotate(-90)" font-size="11.6" text-anchor="end" fill="#111">-56</text>
<text transform="translate(257.32,373.7) rotate(-90)" font-size="11.6" text-anchor="end" fill="#111">-58</text>
<text transform="translate(268.57,373.7) rotate(-90)" font-size="11.6" text-anchor="end" fill="#111">-60</text>
<text transform="translate(279.81,373.7) rotate(-90)" font-size="11.6" text-anchor="end" fill="#111">-62</text>
<text transform="translate(291.06,373.7) rotate(-90)" font-size="11.6" text-anchor="end" fill="#111">-64</text>
<text transform="translate(302.31,373.7) rotate(-90)" font-size="11.6" text-anchor="end" fill="#111">-66</text>
<text transform="translate(313.55,373.7) rotate(-90)" font-size="11.6" text-anchor="end" fill="#111">-68</text>
<text transform="translate(324.8,373.7) rotate(-90)" font-size="11.6" text-anchor="end" fill="#111">-70</text>
<text x="236.35" y="404.6" font-size="13.1" text-anchor="middle" fill="#1a1a1a">GSWX (R<tspan font-size="9.6" dy="6">E</tspan><tspan dy="-6">)</tspan></text>
<text transform="translate(121,201.38) rotate(-90)" font-size="13.1" text-anchor="middle" fill="#1a1a1a">GSWY (R<tspan font-size="9.6" dy="6">E</tspan><tspan dy="-6">)</tspan></text>
<linearGradient id="cga" x1="0" y1="0" x2="0" y2="1">
<stop offset="0" stop-color="#ff0000"/>
<stop offset="0.17" stop-color="#ff5200"/>
<stop offset="0.33" stop-color="#fa9c00"/>
<stop offset="0.44" stop-color="#fdd000"/>
<stop offset="0.4999" stop-color="#fff200"/>
<stop offset="0.5001" stop-color="#00e68a"/>
<stop offset="0.67" stop-color="#00a8a4"/>
<stop offset="0.83" stop-color="#0066cc"/>
<stop offset="1" stop-color="#0000ff"/>
</linearGradient>
<rect x="332.3" y="32.55" width="9.1" height="337.65" fill="url(#cga)"/>
<text x="344.7" y="37.15" font-size="10.4" fill="#333">90</text>
<line x1="338.9" y1="88.82" x2="341.4" y2="88.82" stroke="#444" stroke-width="0.8"/>
<text x="344.7" y="93.42" font-size="10.4" fill="#333">60</text>
<line x1="338.9" y1="145.1" x2="341.4" y2="145.1" stroke="#444" stroke-width="0.8"/>
<text x="344.7" y="149.7" font-size="10.4" fill="#333">30</text>
<line x1="338.9" y1="201.38" x2="341.4" y2="201.38" stroke="#444" stroke-width="0.8"/>
<text x="344.7" y="205.97" font-size="10.4" fill="#333">0</text>
<line x1="338.9" y1="257.65" x2="341.4" y2="257.65" stroke="#444" stroke-width="0.8"/>
<text x="344.7" y="262.25" font-size="10.4" fill="#333">-30</text>
<line x1="338.9" y1="313.93" x2="341.4" y2="313.93" stroke="#444" stroke-width="0.8"/>
<text x="344.7" y="318.53" font-size="10.4" fill="#333">-60</text>
<text x="344.7" y="374.8" font-size="10.4" fill="#333">-90</text>
<text transform="translate(373.9,201.38) rotate(-90)" font-size="12.1" text-anchor="middle" fill="#333">arctan(V⊥y/V⊥x) (°)</text>
<text x="236.35" y="28.95" font-size="12" text-anchor="middle" fill="#1e1eff">V⊥xy</text>
<rect x="548.17" y="53.26" width="11.3" height="11.28" fill="#00c196"/>
<rect x="514.43" y="64.49" width="11.3" height="11.28" fill="#fdc500"/>
<rect x="525.68" y="64.49" width="11.3" height="11.28" fill="#00c196"/>
<rect x="559.42" y="64.49" width="11.3" height="11.28" fill="#00c196"/>
<rect x="514.43" y="75.72" width="11.3" height="11.28" fill="#fff000"/>
<rect x="525.68" y="75.72" width="11.3" height="11.28" fill="#fa9600"/>
<rect x="548.17" y="75.72" width="11.3" height="11.28" fill="#fdc500"/>
<rect x="559.42" y="75.72" width="11.3" height="11.28" fill="#0032e6"/>
<rect x="514.43" y="86.95" width="11.3" height="11.28" fill="#fdc500"/>
<rect x="525.68" y="86.95" width="11.3" height="11.28" fill="#00a5a5"/>
<rect x="536.93" y="86.95" width="11.3" height="11.28" fill="#00a5a5"/>
<rect x="548.17" y="86.95" width="11.3" height="11.28" fill="#00c196"/>
<rect x="559.42" y="86.95" width="11.3" height="11.28" fill="#006ec8"/>
<rect x="525.68" y="98.18" width="11.3" height="11.28" fill="#00e187"/>
<rect x="536.93" y="98.18" width="11.3" height="11.28" fill="#fff000"/>
<rect x="548.17" y="98.18" width="11.3" height="11.28" fill="#fdc500"/>
<rect x="559.42" y="98.18" width="11.3" height="11.28" fill="#fdc500"/>
<rect x="570.67" y="98.18" width="11.3" height="11.28" fill="#0032e6"/>
<rect x="525.68" y="109.41" width="11.3" height="11.28" fill="#fdc500"/>
<rect x="536.93" y="109.41" width="11.3" height="11.28" fill="#fdc500"/>
<rect x="548.17" y="109.41" width="11.3" height="11.28" fill="#00e187"/>
<rect x="559.42" y="109.41" width="11.3" height="11.28" fill="#fdc500"/>
<rect x="570.67" y="109.41" width="11.3" height="11.28" fill="#00a5a5"/>
<rect x="525.68" y="120.64" width="11.3" height="11.28" fill="#00e187"/>
<rect x="536.93" y="120.64" width="11.3" height="11.28" fill="#00e187"/>
<rect x="548.17" y="120.64" width="11.3" height="11.28" fill="#fdc500"/>
<rect x="559.42" y="120.64" width="11.3" height="11.28" fill="#ffde00"/>
<rect x="570.67" y="120.64" width="11.3" height="11.28" fill="#0088b8"/>
<rect x="581.91" y="120.64" width="11.3" height="11.28" fill="#fdc500"/>
<rect x="525.68" y="131.87" width="11.3" height="11.28" fill="#f56400"/>
<rect x="536.93" y="131.87" width="11.3" height="11.28" fill="#fdc500"/>
<rect x="548.17" y="131.87" width="11.3" height="11.28" fill="#00e187"/>
<rect x="559.42" y="131.87" width="11.3" height="11.28" fill="#fdc500"/>
<rect x="570.67" y="131.87" width="11.3" height="11.28" fill="#fdc500"/>
<rect x="581.91" y="131.87" width="11.3" height="11.28" fill="#fa9600"/>
<rect x="525.68" y="143.1" width="11.3" height="11.28" fill="#00e187"/>
<rect x="536.93" y="143.1" width="11.3" height="11.28" fill="#fdc500"/>
<rect x="548.17" y="143.1" width="11.3" height="11.28" fill="#fdc500"/>
<rect x="559.42" y="143.1" width="11.3" height="11.28" fill="#fa9600"/>
<rect x="570.67" y="143.1" width="11.3" height="11.28" fill="#fdc500"/>
<rect x="581.91" y="143.1" width="11.3" height="11.28" fill="#fdc500"/>
<rect x="525.68" y="154.33" width="11.3" height="11.28" fill="#fdc500"/>
<rect x="536.93" y="154.33" width="11.3" height="11.28" fill="#fdc500"/>
<rect x="548.17" y="154.33" width="11.3" height="11.28" fill="#ffde00"/>
<rect x="559.42" y="154.33" width="11.3" height="11.28" fill="#ffde00"/>
<rect x="570.67" y="154.33" width="11.3" height="11.28" fill="#ffde00"/>
<rect x="581.91" y="154.33" width="11.3" height="11.28" fill="#ffde00"/>
<rect x="525.68" y="165.56" width="11.3" height="11.28" fill="#fdc500"/>
<rect x="536.93" y="165.56" width="11.3" height="11.28" fill="#fdc500"/>
<rect x="548.17" y="165.56" width="11.3" height="11.28" fill="#fff000"/>
<rect x="559.42" y="165.56" width="11.3" height="11.28" fill="#fdc500"/>
<rect x="570.67" y="165.56" width="11.3" height="11.28" fill="#fa9600"/>
<rect x="581.91" y="165.56" width="11.3" height="11.28" fill="#00e187"/>
<rect x="593.16" y="165.56" width="11.3" height="11.28" fill="#fff000"/>
<rect x="525.68" y="176.79" width="11.3" height="11.28" fill="#fa9600"/>
<rect x="536.93" y="176.79" width="11.3" height="11.28" fill="#fdc500"/>
<rect x="548.17" y="176.79" width="11.3" height="11.28" fill="#ffde00"/>
<rect x="559.42" y="176.79" width="11.3" height="11.28" fill="#00e187"/>
<rect x="570.67" y="176.79" width="11.3" height="11.28" fill="#fdc500"/>
<rect x="581.91" y="176.79" width="11.3" height="11.28" fill="#00e187"/>
<rect x="593.16" y="176.79" width="11.3" height="11.28" fill="#fdc500"/>
<rect x="536.93" y="188.02" width="11.3" height="11.28" fill="#fdc500"/>
<rect x="548.17" y="188.02" width="11.3" height="11.28" fill="#fdc500"/>
<rect x="559.42" y="188.02" width="11.3" height="11.28" fill="#f57800"/>
<rect x="570.67" y="188.02" width="11.3" height="11.28" fill="#fdc500"/>
<rect x="581.91" y="188.02" width="11.3" height="11.28" fill="#fdc500"/>
<rect x="593.16" y="188.02" width="11.3" height="11.28" fill="#fdc500"/>
<rect x="525.68" y="199.25" width="11.3" height="11.28" fill="#00a5a5"/>
<rect x="536.93" y="199.25" width="11.3" height="11.28" fill="#00e187"/>
<rect x="548.17" y="199.25" width="11.3" height="11.28" fill="#ffde00"/>
<rect x="559.42" y="199.25" width="11.3" height="11.28" fill="#fdc500"/>
<rect x="570.67" y="199.25" width="11.3" height="11.28" fill="#fdc500"/>
<rect x="581.91" y="199.25" width="11.3" height="11.28" fill="#fdc500"/>
<rect x="593.16" y="199.25" width="11.3" height="11.28" fill="#00c196"/>
<rect x="525.68" y="210.48" width="11.3" height="11.28" fill="#fdc500"/>
<rect x="536.93" y="210.48" width="11.3" height="11.28" fill="#fdc500"/>
<rect x="548.17" y="210.48" width="11.3" height="11.28" fill="#fdc500"/>
<rect x="559.42" y="210.48" width="11.3" height="11.28" fill="#00a5a5"/>
<rect x="570.67" y="210.48" width="11.3" height="11.28" fill="#00c196"/>
<rect x="581.91" y="210.48" width="11.3" height="11.28" fill="#fdc500"/>
<rect x="593.16" y="210.48" width="11.3" height="11.28" fill="#fa9600"/>
<rect x="525.68" y="221.71" width="11.3" height="11.28" fill="#00e187"/>
<rect x="536.93" y="221.71" width="11.3" height="11.28" fill="#fff000"/>
<rect x="548.17" y="221.71" width="11.3" height="11.28" fill="#fdc500"/>
<rect x="559.42" y="221.71" width="11.3" height="11.28" fill="#00c196"/>
<rect x="570.67" y="221.71" width="11.3" height="11.28" fill="#ffde00"/>
<rect x="581.91" y="221.71" width="11.3" height="11.28" fill="#fdc500"/>
<rect x="593.16" y="221.71" width="11.3" height="11.28" fill="#fdc500"/>
<rect x="525.68" y="232.94" width="11.3" height="11.28" fill="#00c196"/>
<rect x="536.93" y="232.94" width="11.3" height="11.28" fill="#fa9600"/>
<rect x="548.17" y="232.94" width="11.3" height="11.28" fill="#fdc500"/>
<rect x="559.42" y="232.94" width="11.3" height="11.28" fill="#ffde00"/>
<rect x="570.67" y="232.94" width="11.3" height="11.28" fill="#ffde00"/>
<rect x="581.91" y="232.94" width="11.3" height="11.28" fill="#fdc500"/>
<rect x="593.16" y="232.94" width="11.3" height="11.28" fill="#fa9600"/>
<rect x="525.68" y="244.17" width="11.3" height="11.28" fill="#ffde00"/>
<rect x="536.93" y="244.17" width="11.3" height="11.28" fill="#00e187"/>
<rect x="548.17" y="244.17" width="11.3" height="11.28" fill="#fa9600"/>
<rect x="559.42" y="244.17" width="11.3" height="11.28" fill="#fdc500"/>
<rect x="570.67" y="244.17" width="11.3" height="11.28" fill="#00c196"/>
<rect x="581.91" y="244.17" width="11.3" height="11.28" fill="#fdc500"/>
<rect x="525.68" y="255.4" width="11.3" height="11.28" fill="#fdc500"/>
<rect x="536.93" y="255.4" width="11.3" height="11.28" fill="#fdc500"/>
<rect x="548.17" y="255.4" width="11.3" height="11.28" fill="#00a5a5"/>
<rect x="559.42" y="255.4" width="11.3" height="11.28" fill="#ffde00"/>
<rect x="570.67" y="255.4" width="11.3" height="11.28" fill="#ffde00"/>
<rect x="593.16" y="255.4" width="11.3" height="11.28" fill="#00a5a5"/>
<rect x="514.43" y="266.63" width="11.3" height="11.28" fill="#fa9600"/>
<rect x="525.68" y="266.63" width="11.3" height="11.28" fill="#fa9600"/>
<rect x="536.93" y="266.63" width="11.3" height="11.28" fill="#fdc500"/>
<rect x="548.17" y="266.63" width="11.3" height="11.28" fill="#fdc500"/>
<rect x="559.42" y="266.63" width="11.3" height="11.28" fill="#fdc500"/>
<rect x="570.67" y="266.63" width="11.3" height="11.28" fill="#fdc500"/>
<rect x="581.91" y="266.63" width="11.3" height="11.28" fill="#f56400"/>
<rect x="514.43" y="277.86" width="11.3" height="11.28" fill="#00e187"/>
<rect x="525.68" y="277.86" width="11.3" height="11.28" fill="#fff000"/>
<rect x="536.93" y="277.86" width="11.3" height="11.28" fill="#ffde00"/>
<rect x="548.17" y="277.86" width="11.3" height="11.28" fill="#ffde00"/>
<rect x="559.42" y="277.86" width="11.3" height="11.28" fill="#00c196"/>
<rect x="570.67" y="277.86" width="11.3" height="11.28" fill="#00c196"/>
<rect x="581.91" y="277.86" width="11.3" height="11.28" fill="#fdc500"/>
<rect x="514.43" y="289.09" width="11.3" height="11.28" fill="#00c196"/>
<rect x="525.68" y="289.09" width="11.3" height="11.28" fill="#00a5a5"/>
<rect x="536.93" y="289.09" width="11.3" height="11.28" fill="#fdc500"/>
<rect x="548.17" y="289.09" width="11.3" height="11.28" fill="#fdc500"/>
<rect x="559.42" y="289.09" width="11.3" height="11.28" fill="#fdc500"/>
<rect x="570.67" y="289.09" width="11.3" height="11.28" fill="#00e187"/>
<rect x="514.43" y="300.32" width="11.3" height="11.28" fill="#00e187"/>
<rect x="525.68" y="300.32" width="11.3" height="11.28" fill="#ffde00"/>
<rect x="536.93" y="300.32" width="11.3" height="11.28" fill="#fdc500"/>
<rect x="548.17" y="300.32" width="11.3" height="11.28" fill="#fdc500"/>
<rect x="559.42" y="300.32" width="11.3" height="11.28" fill="#fdc500"/>
<rect x="514.43" y="311.55" width="11.3" height="11.28" fill="#fdc500"/>
<rect x="525.68" y="311.55" width="11.3" height="11.28" fill="#fdc500"/>
<rect x="536.93" y="311.55" width="11.3" height="11.28" fill="#fa9600"/>
<rect x="548.17" y="311.55" width="11.3" height="11.28" fill="#00e187"/>
<rect x="559.42" y="311.55" width="11.3" height="11.28" fill="#fdc500"/>
<rect x="570.67" y="311.55" width="11.3" height="11.28" fill="#00a5a5"/>
<rect x="503.19" y="322.78" width="11.3" height="11.28" fill="#00e187"/>
<rect x="514.43" y="322.78" width="11.3" height="11.28" fill="#ffde00"/>
<rect x="525.68" y="322.78" width="11.3" height="11.28" fill="#fdc500"/>
<rect x="536.93" y="322.78" width="11.3" height="11.28" fill="#fdc500"/>
<rect x="559.42" y="322.78" width="11.3" height="11.28" fill="#0032e6"/>
<rect x="570.67" y="322.78" width="11.3" height="11.28" fill="#fff000"/>
<rect x="536.93" y="334.01" width="11.3" height="11.28" fill="#00c196"/>
<rect x="548.17" y="334.01" width="11.3" height="11.28" fill="#0032e6"/>
<path d="M469.45 30.8V367.7M480.69 30.8V367.7M491.94 30.8V367.7M503.19 30.8V367.7M514.43 30.8V367.7M525.68 30.8V367.7M536.93 30.8V367.7M548.17 30.8V367.7M559.42 30.8V367.7M570.67 30.8V367.7M581.91 30.8V367.7M593.16 30.8V367.7M604.41 30.8V367.7M615.65 30.8V367.7M458.2 42.03H626.9M458.2 53.26H626.9M458.2 64.49H626.9M458.2 75.72H626.9M458.2 86.95H626.9M458.2 98.18H626.9M458.2 109.41H626.9M458.2 120.64H626.9M458.2 131.87H626.9M458.2 143.1H626.9M458.2 154.33H626.9M458.2 165.56H626.9M458.2 176.79H626.9M458.2 188.02H626.9M458.2 199.25H626.9M458.2 210.48H626.9M458.2 221.71H626.9M458.2 232.94H626.9M458.2 244.17H626.9M458.2 255.4H626.9M458.2 266.63H626.9M458.2 277.86H626.9M458.2 289.09H626.9M458.2 300.32H626.9M458.2 311.55H626.9M458.2 322.78H626.9M458.2 334.01H626.9M458.2 345.24H626.9M458.2 356.47H626.9" stroke="rgba(0,0,0,0.42)" stroke-width="1" fill="none"/>
<path d="M469.45 367.7v-3.4M469.45 30.8v3.4M480.69 367.7v-3.4M480.69 30.8v3.4M491.94 367.7v-3.4M491.94 30.8v3.4M503.19 367.7v-3.4M503.19 30.8v3.4M514.43 367.7v-3.4M514.43 30.8v3.4M525.68 367.7v-3.4M525.68 30.8v3.4M536.93 367.7v-3.4M536.93 30.8v3.4M548.17 367.7v-3.4M548.17 30.8v3.4M559.42 367.7v-3.4M559.42 30.8v3.4M570.67 367.7v-3.4M570.67 30.8v3.4M581.91 367.7v-3.4M581.91 30.8v3.4M593.16 367.7v-3.4M593.16 30.8v3.4M604.41 367.7v-3.4M604.41 30.8v3.4M615.65 367.7v-3.4M615.65 30.8v3.4M458.2 42.03h3.4M626.9 42.03h-3.4M458.2 53.26h3.4M626.9 53.26h-3.4M458.2 64.49h3.4M626.9 64.49h-3.4M458.2 75.72h3.4M626.9 75.72h-3.4M458.2 86.95h3.4M626.9 86.95h-3.4M458.2 98.18h3.4M626.9 98.18h-3.4M458.2 109.41h3.4M626.9 109.41h-3.4M458.2 120.64h3.4M626.9 120.64h-3.4M458.2 131.87h3.4M626.9 131.87h-3.4M458.2 143.1h3.4M626.9 143.1h-3.4M458.2 154.33h3.4M626.9 154.33h-3.4M458.2 165.56h3.4M626.9 165.56h-3.4M458.2 176.79h3.4M626.9 176.79h-3.4M458.2 188.02h3.4M626.9 188.02h-3.4M458.2 199.25h3.4M626.9 199.25h-3.4M458.2 210.48h3.4M626.9 210.48h-3.4M458.2 221.71h3.4M626.9 221.71h-3.4M458.2 232.94h3.4M626.9 232.94h-3.4M458.2 244.17h3.4M626.9 244.17h-3.4M458.2 255.4h3.4M626.9 255.4h-3.4M458.2 266.63h3.4M626.9 266.63h-3.4M458.2 277.86h3.4M626.9 277.86h-3.4M458.2 289.09h3.4M626.9 289.09h-3.4M458.2 300.32h3.4M626.9 300.32h-3.4M458.2 311.55h3.4M626.9 311.55h-3.4M458.2 322.78h3.4M626.9 322.78h-3.4M458.2 334.01h3.4M626.9 334.01h-3.4M458.2 345.24h3.4M626.9 345.24h-3.4M458.2 356.47h3.4M626.9 356.47h-3.4" stroke="#333" stroke-width="1" fill="none"/>
<rect x="458.2" y="30.8" width="168.7" height="336.9" fill="none" stroke="#333" stroke-width="1.05"/>
<path d="M553.8 58.88L545.4 56.08" stroke="#000" stroke-width="0.85"/>
<path d="M545.84 54.76L541.8 54.88L544.96 57.4Z" stroke="#000" stroke-width="0.6" fill="#000" stroke-linejoin="round"/>
<path d="M520.06 70.1L506.85 73.21" stroke="#000" stroke-width="0.85"/>
<path d="M506.52 71.8L503.06 74.1L507.19 74.62Z" stroke="#000" stroke-width="0.6" fill="#000" stroke-linejoin="round"/>
<path d="M531.3 70.1L527.1 68" stroke="#000" stroke-width="0.85"/>
<path d="M527.6 67.02L525.3 67.1L526.61 68.99Z" stroke="#000" stroke-width="0.6" fill="#000" stroke-linejoin="round"/>
<path d="M565.04 70.1L549.81 66.1" stroke="#000" stroke-width="0.85"/>
<path d="M550.18 64.7L546.04 65.1L549.45 67.5Z" stroke="#000" stroke-width="0.6" fill="#000" stroke-linejoin="round"/>
<path d="M520.06 81.33L508.95 82.08" stroke="#000" stroke-width="0.85"/>
<path d="M508.85 80.63L505.06 82.33L509.04 83.52Z" stroke="#000" stroke-width="0.6" fill="#000" stroke-linejoin="round"/>
<path d="M531.3 81.33L524.3 84.83" stroke="#000" stroke-width="0.85"/>
<path d="M523.75 83.73L521.3 86.33L524.85 85.93Z" stroke="#000" stroke-width="0.6" fill="#000" stroke-linejoin="round"/>
<path d="M553.8 81.33L546.1 83.43" stroke="#000" stroke-width="0.85"/>
<path d="M545.77 82.22L542.8 84.33L546.43 84.64Z" stroke="#000" stroke-width="0.6" fill="#000" stroke-linejoin="round"/>
<path d="M565.04 81.33L562.24 77.83" stroke="#000" stroke-width="0.85"/>
<path d="M563.1 77.15L561.04 76.33L561.38 78.52Z" stroke="#000" stroke-width="0.6" fill="#000" stroke-linejoin="round"/>
<path d="M520.06 92.56L512.36 94.66" stroke="#000" stroke-width="0.85"/>
<path d="M512.03 93.45L509.06 95.56L512.69 95.87Z" stroke="#000" stroke-width="0.6" fill="#000" stroke-linejoin="round"/>
<path d="M531.3 92.56L524.3 89.77" stroke="#000" stroke-width="0.85"/>
<path d="M524.74 88.67L521.3 88.56L523.86 90.86Z" stroke="#000" stroke-width="0.6" fill="#000" stroke-linejoin="round"/>
<path d="M542.55 92.56L534.85 88.36" stroke="#000" stroke-width="0.85"/>
<path d="M535.51 87.16L531.55 86.56L534.19 89.57Z" stroke="#000" stroke-width="0.6" fill="#000" stroke-linejoin="round"/>
<path d="M553.8 92.56L546.1 90.47" stroke="#000" stroke-width="0.85"/>
<path d="M546.43 89.26L542.8 89.56L545.77 91.67Z" stroke="#000" stroke-width="0.6" fill="#000" stroke-linejoin="round"/>
<path d="M565.04 92.56L561.54 86.97" stroke="#000" stroke-width="0.85"/>
<path d="M562.48 86.38L560.04 84.56L560.61 87.55Z" stroke="#000" stroke-width="0.6" fill="#000" stroke-linejoin="round"/>
<path d="M531.3 103.79L523.6 103.09" stroke="#000" stroke-width="0.85"/>
<path d="M523.71 101.88L520.3 102.79L523.49 104.3Z" stroke="#000" stroke-width="0.6" fill="#000" stroke-linejoin="round"/>
<path d="M542.55 103.79L535.55 105.19" stroke="#000" stroke-width="0.85"/>
<path d="M535.33 104.09L532.55 105.79L535.77 106.29Z" stroke="#000" stroke-width="0.6" fill="#000" stroke-linejoin="round"/>
<path d="M553.8 103.79L543.61 105.98" stroke="#000" stroke-width="0.85"/>
<path d="M543.31 104.56L539.8 106.79L543.91 107.4Z" stroke="#000" stroke-width="0.6" fill="#000" stroke-linejoin="round"/>
<path d="M565.04 103.79L558.74 105.19" stroke="#000" stroke-width="0.85"/>
<path d="M558.5 104.12L556.04 105.79L558.98 106.27Z" stroke="#000" stroke-width="0.6" fill="#000" stroke-linejoin="round"/>
<path d="M576.29 103.79L575.59 94.68" stroke="#000" stroke-width="0.85"/>
<path d="M577.02 94.57L575.29 90.79L574.16 94.79Z" stroke="#000" stroke-width="0.6" fill="#000" stroke-linejoin="round"/>
<path d="M531.3 115.02L524.3 117.12" stroke="#000" stroke-width="0.85"/>
<path d="M523.97 116.02L521.3 118.02L524.63 118.22Z" stroke="#000" stroke-width="0.6" fill="#000" stroke-linejoin="round"/>
<path d="M542.55 115.02L535.55 116.42" stroke="#000" stroke-width="0.85"/>
<path d="M535.33 115.33L532.55 117.02L535.77 117.52Z" stroke="#000" stroke-width="0.6" fill="#000" stroke-linejoin="round"/>
<path d="M553.8 115.02L546.1 114.32" stroke="#000" stroke-width="0.85"/>
<path d="M546.21 113.11L542.8 114.02L545.99 115.53Z" stroke="#000" stroke-width="0.6" fill="#000" stroke-linejoin="round"/>
<path d="M565.04 115.02L557.34 118.52" stroke="#000" stroke-width="0.85"/>
<path d="M556.79 117.31L554.04 120.02L557.89 119.73Z" stroke="#000" stroke-width="0.6" fill="#000" stroke-linejoin="round"/>
<path d="M576.29 115.02L566.5 108.24" stroke="#000" stroke-width="0.85"/>
<path d="M567.32 107.05L563.29 106.02L565.67 109.44Z" stroke="#000" stroke-width="0.6" fill="#000" stroke-linejoin="round"/>
<path d="M531.3 126.25L522.9 125.55" stroke="#000" stroke-width="0.85"/>
<path d="M523.01 124.23L519.3 125.25L522.79 126.87Z" stroke="#000" stroke-width="0.6" fill="#000" stroke-linejoin="round"/>
<path d="M542.55 126.25L534.85 125.55" stroke="#000" stroke-width="0.85"/>
<path d="M534.96 124.34L531.55 125.25L534.74 126.76Z" stroke="#000" stroke-width="0.6" fill="#000" stroke-linejoin="round"/>
<path d="M553.8 126.25L546.1 128.35" stroke="#000" stroke-width="0.85"/>
<path d="M545.77 127.14L542.8 129.25L546.43 129.56Z" stroke="#000" stroke-width="0.6" fill="#000" stroke-linejoin="round"/>
<path d="M565.04 126.25L554.93 126.98" stroke="#000" stroke-width="0.85"/>
<path d="M554.83 125.53L551.04 127.25L555.04 128.42Z" stroke="#000" stroke-width="0.6" fill="#000" stroke-linejoin="round"/>
<path d="M576.29 126.25L569.99 120.65" stroke="#000" stroke-width="0.85"/>
<path d="M570.87 119.66L567.29 118.25L569.11 121.64Z" stroke="#000" stroke-width="0.6" fill="#000" stroke-linejoin="round"/>
<path d="M587.54 126.25L578.34 128.38" stroke="#000" stroke-width="0.85"/>
<path d="M578.01 126.97L574.54 129.25L578.66 129.79Z" stroke="#000" stroke-width="0.6" fill="#000" stroke-linejoin="round"/>
<path d="M531.3 137.48L524.77 145.47" stroke="#000" stroke-width="0.85"/>
<path d="M523.65 144.55L522.3 148.48L525.9 146.38Z" stroke="#000" stroke-width="0.6" fill="#000" stroke-linejoin="round"/>
<path d="M542.55 137.48L534.85 139.58" stroke="#000" stroke-width="0.85"/>
<path d="M534.52 138.37L531.55 140.48L535.18 140.79Z" stroke="#000" stroke-width="0.6" fill="#000" stroke-linejoin="round"/>
<path d="M553.8 137.48L546.1 137.48" stroke="#000" stroke-width="0.85"/>
<path d="M546.1 136.27L542.8 137.48L546.1 138.69Z" stroke="#000" stroke-width="0.6" fill="#000" stroke-linejoin="round"/>
<path d="M565.04 137.48L557.34 140.28" stroke="#000" stroke-width="0.85"/>
<path d="M556.9 139.07L554.04 141.48L557.78 141.5Z" stroke="#000" stroke-width="0.6" fill="#000" stroke-linejoin="round"/>
<path d="M576.29 137.48L567.89 139.58" stroke="#000" stroke-width="0.85"/>
<path d="M567.56 138.26L564.29 140.48L568.22 140.9Z" stroke="#000" stroke-width="0.6" fill="#000" stroke-linejoin="round"/>
<path d="M587.54 137.48L576.82 144.38" stroke="#000" stroke-width="0.85"/>
<path d="M576.03 143.16L573.54 146.48L577.6 145.6Z" stroke="#000" stroke-width="0.6" fill="#000" stroke-linejoin="round"/>
<path d="M531.3 148.72L524.3 148.02" stroke="#000" stroke-width="0.85"/>
<path d="M524.41 146.92L521.3 147.72L524.19 149.12Z" stroke="#000" stroke-width="0.6" fill="#000" stroke-linejoin="round"/>
<path d="M542.55 148.72L534.85 149.41" stroke="#000" stroke-width="0.85"/>
<path d="M534.74 148.2L531.55 149.72L534.96 150.62Z" stroke="#000" stroke-width="0.6" fill="#000" stroke-linejoin="round"/>
<path d="M553.8 148.72L546.1 150.12" stroke="#000" stroke-width="0.85"/>
<path d="M545.88 148.91L542.8 150.72L546.32 151.33Z" stroke="#000" stroke-width="0.6" fill="#000" stroke-linejoin="round"/>
<path d="M565.04 148.72L557.34 152.91" stroke="#000" stroke-width="0.85"/>
<path d="M556.68 151.7L554.04 154.72L558 154.12Z" stroke="#000" stroke-width="0.6" fill="#000" stroke-linejoin="round"/>
<path d="M576.29 148.72L566.1 150.9" stroke="#000" stroke-width="0.85"/>
<path d="M565.8 149.48L562.29 151.72L566.41 152.32Z" stroke="#000" stroke-width="0.6" fill="#000" stroke-linejoin="round"/>
<path d="M587.54 148.72L581.24 149.41" stroke="#000" stroke-width="0.85"/>
<path d="M581.12 148.32L578.54 149.72L581.36 150.51Z" stroke="#000" stroke-width="0.6" fill="#000" stroke-linejoin="round"/>
<path d="M531.3 159.94L523.6 163.44" stroke="#000" stroke-width="0.85"/>
<path d="M523.05 162.23L520.3 164.94L524.15 164.66Z" stroke="#000" stroke-width="0.6" fill="#000" stroke-linejoin="round"/>
<path d="M542.55 159.94L534.85 161.34" stroke="#000" stroke-width="0.85"/>
<path d="M534.63 160.13L531.55 161.94L535.07 162.56Z" stroke="#000" stroke-width="0.6" fill="#000" stroke-linejoin="round"/>
<path d="M553.8 159.94L546.1 161.34" stroke="#000" stroke-width="0.85"/>
<path d="M545.88 160.13L542.8 161.94L546.32 162.56Z" stroke="#000" stroke-width="0.6" fill="#000" stroke-linejoin="round"/>
<path d="M565.04 159.94L555.93 160.65" stroke="#000" stroke-width="0.85"/>
<path d="M555.82 159.22L552.04 160.94L556.04 162.08Z" stroke="#000" stroke-width="0.6" fill="#000" stroke-linejoin="round"/>
<path d="M576.29 159.94L567.89 160.64" stroke="#000" stroke-width="0.85"/>
<path d="M567.78 159.32L564.29 160.94L568 161.96Z" stroke="#000" stroke-width="0.6" fill="#000" stroke-linejoin="round"/>
<path d="M587.54 159.94L579.84 160.64" stroke="#000" stroke-width="0.85"/>
<path d="M579.73 159.43L576.54 160.94L579.95 161.85Z" stroke="#000" stroke-width="0.6" fill="#000" stroke-linejoin="round"/>
<path d="M531.3 171.17L523.6 173.27" stroke="#000" stroke-width="0.85"/>
<path d="M523.27 172.06L520.3 174.17L523.93 174.48Z" stroke="#000" stroke-width="0.6" fill="#000" stroke-linejoin="round"/>
<path d="M542.55 171.17L534.85 172.57" stroke="#000" stroke-width="0.85"/>
<path d="M534.63 171.36L531.55 173.17L535.07 173.78Z" stroke="#000" stroke-width="0.6" fill="#000" stroke-linejoin="round"/>
<path d="M553.8 171.17L546.1 171.87" stroke="#000" stroke-width="0.85"/>
<path d="M545.99 170.66L542.8 172.17L546.21 173.08Z" stroke="#000" stroke-width="0.6" fill="#000" stroke-linejoin="round"/>
<path d="M565.04 171.17L557.34 173.27" stroke="#000" stroke-width="0.85"/>
<path d="M557.01 172.06L554.04 174.17L557.67 174.48Z" stroke="#000" stroke-width="0.6" fill="#000" stroke-linejoin="round"/>
<path d="M576.29 171.17L567.89 174.67" stroke="#000" stroke-width="0.85"/>
<path d="M567.34 173.35L564.29 176.17L568.44 175.99Z" stroke="#000" stroke-width="0.6" fill="#000" stroke-linejoin="round"/>
<path d="M587.54 171.17L579.84 169.77" stroke="#000" stroke-width="0.85"/>
<path d="M580.06 168.56L576.54 169.17L579.62 170.98Z" stroke="#000" stroke-width="0.6" fill="#000" stroke-linejoin="round"/>
<path d="M598.78 171.17L591.08 171.17" stroke="#000" stroke-width="0.85"/>
<path d="M591.08 169.96L587.78 171.17L591.08 172.38Z" stroke="#000" stroke-width="0.6" fill="#000" stroke-linejoin="round"/>
<path d="M531.3 182.41L525.7 185.91" stroke="#000" stroke-width="0.85"/>
<path d="M525.12 184.97L523.3 187.41L526.29 186.84Z" stroke="#000" stroke-width="0.6" fill="#000" stroke-linejoin="round"/>
<path d="M542.55 182.41L532.36 184.59" stroke="#000" stroke-width="0.85"/>
<path d="M532.06 183.17L528.55 185.41L532.67 186.01Z" stroke="#000" stroke-width="0.6" fill="#000" stroke-linejoin="round"/>
<path d="M553.8 182.41L544.65 183.81" stroke="#000" stroke-width="0.85"/>
<path d="M544.43 182.38L540.8 184.41L544.87 185.24Z" stroke="#000" stroke-width="0.6" fill="#000" stroke-linejoin="round"/>
<path d="M565.04 182.41L555.9 181" stroke="#000" stroke-width="0.85"/>
<path d="M556.12 179.57L552.04 180.41L555.68 182.43Z" stroke="#000" stroke-width="0.6" fill="#000" stroke-linejoin="round"/>
<path d="M576.29 182.41L568.59 184.5" stroke="#000" stroke-width="0.85"/>
<path d="M568.26 183.29L565.29 185.41L568.92 185.72Z" stroke="#000" stroke-width="0.6" fill="#000" stroke-linejoin="round"/>
<path d="M587.54 182.41L578.39 181" stroke="#000" stroke-width="0.85"/>
<path d="M578.61 179.57L574.54 180.41L578.17 182.43Z" stroke="#000" stroke-width="0.6" fill="#000" stroke-linejoin="round"/>
<path d="M598.78 182.41L584.63 184.76" stroke="#000" stroke-width="0.85"/>
<path d="M584.39 183.33L580.78 185.41L584.87 186.19Z" stroke="#000" stroke-width="0.6" fill="#000" stroke-linejoin="round"/>
<path d="M542.55 193.63L534.85 195.73" stroke="#000" stroke-width="0.85"/>
<path d="M534.52 194.52L531.55 196.63L535.18 196.94Z" stroke="#000" stroke-width="0.6" fill="#000" stroke-linejoin="round"/>
<path d="M553.8 193.63L545.4 194.33" stroke="#000" stroke-width="0.85"/>
<path d="M545.29 193.01L541.8 194.63L545.51 195.65Z" stroke="#000" stroke-width="0.6" fill="#000" stroke-linejoin="round"/>
<path d="M565.04 193.63L558.74 198.53" stroke="#000" stroke-width="0.85"/>
<path d="M557.97 197.54L556.04 200.63L559.51 199.53Z" stroke="#000" stroke-width="0.6" fill="#000" stroke-linejoin="round"/>
<path d="M576.29 193.63L568.59 196.44" stroke="#000" stroke-width="0.85"/>
<path d="M568.15 195.22L565.29 197.63L569.03 197.65Z" stroke="#000" stroke-width="0.6" fill="#000" stroke-linejoin="round"/>
<path d="M587.54 193.63L567.54 205.63M572.22 199.84L567.54 205.63L574.86 204.23" stroke="#000" stroke-width="0.85" fill="none"/>
<path d="M598.78 193.63L588.46 197.32" stroke="#000" stroke-width="0.85"/>
<path d="M587.97 195.96L584.78 198.63L588.94 198.69Z" stroke="#000" stroke-width="0.6" fill="#000" stroke-linejoin="round"/>
<path d="M531.3 204.86L523.6 201.36" stroke="#000" stroke-width="0.85"/>
<path d="M524.15 200.15L520.3 199.86L523.05 202.57Z" stroke="#000" stroke-width="0.6" fill="#000" stroke-linejoin="round"/>
<path d="M542.55 204.86L534.85 204.86" stroke="#000" stroke-width="0.85"/>
<path d="M534.85 203.65L531.55 204.86L534.85 206.07Z" stroke="#000" stroke-width="0.6" fill="#000" stroke-linejoin="round"/>
<path d="M553.8 204.86L546.1 205.56" stroke="#000" stroke-width="0.85"/>
<path d="M545.99 204.35L542.8 205.86L546.21 206.77Z" stroke="#000" stroke-width="0.6" fill="#000" stroke-linejoin="round"/>
<path d="M565.04 204.86L557.34 208.36" stroke="#000" stroke-width="0.85"/>
<path d="M556.79 207.15L554.04 209.86L557.89 209.57Z" stroke="#000" stroke-width="0.6" fill="#000" stroke-linejoin="round"/>
<path d="M576.29 204.86L568.59 204.86" stroke="#000" stroke-width="0.85"/>
<path d="M568.59 203.65L565.29 204.86L568.59 206.07Z" stroke="#000" stroke-width="0.6" fill="#000" stroke-linejoin="round"/>
<path d="M587.54 204.86L579.14 207.66" stroke="#000" stroke-width="0.85"/>
<path d="M578.7 206.34L575.54 208.86L579.58 208.98Z" stroke="#000" stroke-width="0.6" fill="#000" stroke-linejoin="round"/>
<path d="M598.78 204.86L591.78 202.06" stroke="#000" stroke-width="0.85"/>
<path d="M592.22 200.96L588.78 200.86L591.34 203.16Z" stroke="#000" stroke-width="0.6" fill="#000" stroke-linejoin="round"/>
<path d="M531.3 216.09L523.6 218.19" stroke="#000" stroke-width="0.85"/>
<path d="M523.27 216.98L520.3 219.09L523.93 219.41Z" stroke="#000" stroke-width="0.6" fill="#000" stroke-linejoin="round"/>
<path d="M542.55 216.09L534.15 216.79" stroke="#000" stroke-width="0.85"/>
<path d="M534.04 215.47L530.55 217.09L534.26 218.11Z" stroke="#000" stroke-width="0.6" fill="#000" stroke-linejoin="round"/>
<path d="M553.8 216.09L544.52 218.95" stroke="#000" stroke-width="0.85"/>
<path d="M544.1 217.56L540.8 220.09L544.95 220.33Z" stroke="#000" stroke-width="0.6" fill="#000" stroke-linejoin="round"/>
<path d="M565.04 216.09L557.34 212.59" stroke="#000" stroke-width="0.85"/>
<path d="M557.89 211.38L554.04 211.09L556.79 213.81Z" stroke="#000" stroke-width="0.6" fill="#000" stroke-linejoin="round"/>
<path d="M576.29 216.09L570.69 214" stroke="#000" stroke-width="0.85"/>
<path d="M571.08 212.97L568.29 213.09L570.3 215.02Z" stroke="#000" stroke-width="0.6" fill="#000" stroke-linejoin="round"/>
<path d="M587.54 216.09L577.29 219.02" stroke="#000" stroke-width="0.85"/>
<path d="M576.89 217.63L573.54 220.09L577.68 220.42Z" stroke="#000" stroke-width="0.6" fill="#000" stroke-linejoin="round"/>
<path d="M598.78 216.09L591.78 221" stroke="#000" stroke-width="0.85"/>
<path d="M591.01 219.9L588.78 223.09L592.55 222.09Z" stroke="#000" stroke-width="0.6" fill="#000" stroke-linejoin="round"/>
<path d="M531.3 227.32L522.16 225.92" stroke="#000" stroke-width="0.85"/>
<path d="M522.38 224.49L518.3 225.32L521.94 227.35Z" stroke="#000" stroke-width="0.6" fill="#000" stroke-linejoin="round"/>
<path d="M542.55 227.32L534.15 227.32" stroke="#000" stroke-width="0.85"/>
<path d="M534.15 226L530.55 227.32L534.15 228.64Z" stroke="#000" stroke-width="0.6" fill="#000" stroke-linejoin="round"/>
<path d="M553.8 227.32L543.55 230.25" stroke="#000" stroke-width="0.85"/>
<path d="M543.15 228.86L539.8 231.32L543.94 231.65Z" stroke="#000" stroke-width="0.6" fill="#000" stroke-linejoin="round"/>
<path d="M565.04 227.32L555.84 225.2" stroke="#000" stroke-width="0.85"/>
<path d="M556.17 223.79L552.04 224.32L555.52 226.61Z" stroke="#000" stroke-width="0.6" fill="#000" stroke-linejoin="round"/>
<path d="M576.29 227.32L568.59 228.02" stroke="#000" stroke-width="0.85"/>
<path d="M568.48 226.81L565.29 228.32L568.7 229.23Z" stroke="#000" stroke-width="0.6" fill="#000" stroke-linejoin="round"/>
<path d="M587.54 227.32L578.08 231.69" stroke="#000" stroke-width="0.85"/>
<path d="M577.47 230.37L574.54 233.32L578.69 233.01Z" stroke="#000" stroke-width="0.6" fill="#000" stroke-linejoin="round"/>
<path d="M598.78 227.32L593.88 228.02" stroke="#000" stroke-width="0.85"/>
<path d="M593.73 226.94L591.78 228.32L594.04 229.11Z" stroke="#000" stroke-width="0.6" fill="#000" stroke-linejoin="round"/>
<path d="M531.3 238.55L524.3 236.45" stroke="#000" stroke-width="0.85"/>
<path d="M524.63 235.35L521.3 235.55L523.97 237.55Z" stroke="#000" stroke-width="0.6" fill="#000" stroke-linejoin="round"/>
<path d="M542.55 238.55L534.04 242.81" stroke="#000" stroke-width="0.85"/>
<path d="M533.39 241.51L530.55 244.55L534.69 244.11Z" stroke="#000" stroke-width="0.6" fill="#000" stroke-linejoin="round"/>
<path d="M553.8 238.55L542.42 243.11" stroke="#000" stroke-width="0.85"/>
<path d="M541.88 241.76L538.8 244.55L542.96 244.45Z" stroke="#000" stroke-width="0.6" fill="#000" stroke-linejoin="round"/>
<path d="M565.04 238.55L555.94 238.55" stroke="#000" stroke-width="0.85"/>
<path d="M555.94 237.12L552.04 238.55L555.94 239.98Z" stroke="#000" stroke-width="0.6" fill="#000" stroke-linejoin="round"/>
<path d="M576.29 238.55L567.89 239.25" stroke="#000" stroke-width="0.85"/>
<path d="M567.78 237.93L564.29 239.55L568 240.57Z" stroke="#000" stroke-width="0.6" fill="#000" stroke-linejoin="round"/>
<path d="M587.54 238.55L576.4 240.04" stroke="#000" stroke-width="0.85"/>
<path d="M576.21 238.6L572.54 240.55L576.59 241.48Z" stroke="#000" stroke-width="0.6" fill="#000" stroke-linejoin="round"/>
<path d="M598.78 238.55L593.18 242.05" stroke="#000" stroke-width="0.85"/>
<path d="M592.6 241.12L590.78 243.55L593.77 242.99Z" stroke="#000" stroke-width="0.6" fill="#000" stroke-linejoin="round"/>
<path d="M531.3 249.78L519.17 251.3" stroke="#000" stroke-width="0.85"/>
<path d="M518.99 249.86L515.3 251.78L519.35 252.74Z" stroke="#000" stroke-width="0.6" fill="#000" stroke-linejoin="round"/>
<path d="M542.55 249.78L534.15 249.09" stroke="#000" stroke-width="0.85"/>
<path d="M534.26 247.77L530.55 248.78L534.04 250.41Z" stroke="#000" stroke-width="0.6" fill="#000" stroke-linejoin="round"/>
<path d="M553.8 249.78L545.04 255.62" stroke="#000" stroke-width="0.85"/>
<path d="M544.24 254.42L541.8 257.78L545.85 256.83Z" stroke="#000" stroke-width="0.6" fill="#000" stroke-linejoin="round"/>
<path d="M565.04 249.78L557.34 253.28" stroke="#000" stroke-width="0.85"/>
<path d="M556.79 252.07L554.04 254.78L557.89 254.5Z" stroke="#000" stroke-width="0.6" fill="#000" stroke-linejoin="round"/>
<path d="M576.29 249.78L567.89 247.69" stroke="#000" stroke-width="0.85"/>
<path d="M568.22 246.37L564.29 246.78L567.56 249Z" stroke="#000" stroke-width="0.6" fill="#000" stroke-linejoin="round"/>
<path d="M587.54 249.78L575.26 253.62" stroke="#000" stroke-width="0.85"/>
<path d="M574.83 252.24L571.54 254.78L575.69 255.01Z" stroke="#000" stroke-width="0.6" fill="#000" stroke-linejoin="round"/>
<path d="M531.3 261.01L522.9 263.81" stroke="#000" stroke-width="0.85"/>
<path d="M522.46 262.5L519.3 265.01L523.34 265.13Z" stroke="#000" stroke-width="0.6" fill="#000" stroke-linejoin="round"/>
<path d="M542.55 261.01L534.15 263.12" stroke="#000" stroke-width="0.85"/>
<path d="M533.82 261.8L530.55 264.01L534.48 264.44Z" stroke="#000" stroke-width="0.6" fill="#000" stroke-linejoin="round"/>
<path d="M553.8 261.01L548.9 258.21" stroke="#000" stroke-width="0.85"/>
<path d="M549.44 257.26L546.8 257.01L548.35 259.17Z" stroke="#000" stroke-width="0.6" fill="#000" stroke-linejoin="round"/>
<path d="M565.04 261.01L552.91 262.53" stroke="#000" stroke-width="0.85"/>
<path d="M552.73 261.09L549.04 263.01L553.09 263.97Z" stroke="#000" stroke-width="0.6" fill="#000" stroke-linejoin="round"/>
<path d="M576.29 261.01L567.89 262.41" stroke="#000" stroke-width="0.85"/>
<path d="M567.67 261.09L564.29 263.01L568.11 263.73Z" stroke="#000" stroke-width="0.6" fill="#000" stroke-linejoin="round"/>
<path d="M598.78 261.01L590.15 255.98" stroke="#000" stroke-width="0.85"/>
<path d="M590.88 254.73L586.78 254.01L589.42 257.23Z" stroke="#000" stroke-width="0.6" fill="#000" stroke-linejoin="round"/>
<path d="M520.06 272.24L508.3 280.08" stroke="#000" stroke-width="0.85"/>
<path d="M507.5 278.88L505.06 282.24L509.11 281.29Z" stroke="#000" stroke-width="0.6" fill="#000" stroke-linejoin="round"/>
<path d="M531.3 272.24L524.3 275.74" stroke="#000" stroke-width="0.85"/>
<path d="M523.75 274.64L521.3 277.24L524.85 276.84Z" stroke="#000" stroke-width="0.6" fill="#000" stroke-linejoin="round"/>
<path d="M542.55 272.24L533.44 272.95" stroke="#000" stroke-width="0.85"/>
<path d="M533.33 271.52L529.55 273.24L533.55 274.38Z" stroke="#000" stroke-width="0.6" fill="#000" stroke-linejoin="round"/>
<path d="M553.8 272.24L544.6 274.37" stroke="#000" stroke-width="0.85"/>
<path d="M544.27 272.96L540.8 275.24L544.92 275.78Z" stroke="#000" stroke-width="0.6" fill="#000" stroke-linejoin="round"/>
<path d="M565.04 272.24L556.64 273.64" stroke="#000" stroke-width="0.85"/>
<path d="M556.42 272.32L553.04 274.24L556.86 274.96Z" stroke="#000" stroke-width="0.6" fill="#000" stroke-linejoin="round"/>
<path d="M576.29 272.24L567.89 272.94" stroke="#000" stroke-width="0.85"/>
<path d="M567.78 271.62L564.29 273.24L568 274.26Z" stroke="#000" stroke-width="0.6" fill="#000" stroke-linejoin="round"/>
<path d="M587.54 272.24L582.5 280.88" stroke="#000" stroke-width="0.85"/>
<path d="M581.25 280.15L580.54 284.24L583.75 281.61Z" stroke="#000" stroke-width="0.6" fill="#000" stroke-linejoin="round"/>
<path d="M520.06 283.47L509.87 281.29" stroke="#000" stroke-width="0.85"/>
<path d="M510.17 279.87L506.06 280.47L509.57 282.71Z" stroke="#000" stroke-width="0.6" fill="#000" stroke-linejoin="round"/>
<path d="M531.3 283.47L522.2 283.47" stroke="#000" stroke-width="0.85"/>
<path d="M522.2 282.04L518.3 283.47L522.2 284.9Z" stroke="#000" stroke-width="0.6" fill="#000" stroke-linejoin="round"/>
<path d="M542.55 283.47L534.15 283.47" stroke="#000" stroke-width="0.85"/>
<path d="M534.15 282.15L530.55 283.47L534.15 284.79Z" stroke="#000" stroke-width="0.6" fill="#000" stroke-linejoin="round"/>
<path d="M553.8 283.47L546.1 284.17" stroke="#000" stroke-width="0.85"/>
<path d="M545.99 282.96L542.8 284.47L546.21 285.38Z" stroke="#000" stroke-width="0.6" fill="#000" stroke-linejoin="round"/>
<path d="M565.04 283.47L558.04 281.37" stroke="#000" stroke-width="0.85"/>
<path d="M558.37 280.27L555.04 280.47L557.71 282.47Z" stroke="#000" stroke-width="0.6" fill="#000" stroke-linejoin="round"/>
<path d="M576.29 283.47L568.59 280.67" stroke="#000" stroke-width="0.85"/>
<path d="M569.03 279.46L565.29 279.47L568.15 281.88Z" stroke="#000" stroke-width="0.6" fill="#000" stroke-linejoin="round"/>
<path d="M587.54 283.47L583.34 283.47" stroke="#000" stroke-width="0.85"/>
<path d="M583.34 282.37L581.54 283.47L583.34 284.57Z" stroke="#000" stroke-width="0.6" fill="#000" stroke-linejoin="round"/>
<path d="M520.06 294.7L508.76 290.94" stroke="#000" stroke-width="0.85"/>
<path d="M509.22 289.56L505.06 289.7L508.3 292.31Z" stroke="#000" stroke-width="0.6" fill="#000" stroke-linejoin="round"/>
<path d="M531.3 294.7L523.6 290.5" stroke="#000" stroke-width="0.85"/>
<path d="M524.26 289.3L520.3 288.7L522.94 291.71Z" stroke="#000" stroke-width="0.6" fill="#000" stroke-linejoin="round"/>
<path d="M542.55 294.7L532.13 299.17" stroke="#000" stroke-width="0.85"/>
<path d="M531.56 297.84L528.55 300.7L532.71 300.5Z" stroke="#000" stroke-width="0.6" fill="#000" stroke-linejoin="round"/>
<path d="M553.8 294.7L544.52 297.56" stroke="#000" stroke-width="0.85"/>
<path d="M544.1 296.17L540.8 298.7L544.95 298.94Z" stroke="#000" stroke-width="0.6" fill="#000" stroke-linejoin="round"/>
<path d="M565.04 294.7L552.88 296.99" stroke="#000" stroke-width="0.85"/>
<path d="M552.61 295.56L549.04 297.7L553.14 298.41Z" stroke="#000" stroke-width="0.6" fill="#000" stroke-linejoin="round"/>
<path d="M576.29 294.7L567.09 292.58" stroke="#000" stroke-width="0.85"/>
<path d="M567.42 291.17L563.29 291.7L566.76 293.99Z" stroke="#000" stroke-width="0.6" fill="#000" stroke-linejoin="round"/>
<path d="M520.06 305.94L513.76 303.83" stroke="#000" stroke-width="0.85"/>
<path d="M514.1 302.79L511.06 302.94L513.41 304.88Z" stroke="#000" stroke-width="0.6" fill="#000" stroke-linejoin="round"/>
<path d="M531.3 305.94L522.2 305.94" stroke="#000" stroke-width="0.85"/>
<path d="M522.2 304.5L518.3 305.94L522.2 307.37Z" stroke="#000" stroke-width="0.6" fill="#000" stroke-linejoin="round"/>
<path d="M542.55 305.94L534.85 307.33" stroke="#000" stroke-width="0.85"/>
<path d="M534.63 306.12L531.55 307.94L535.07 308.54Z" stroke="#000" stroke-width="0.6" fill="#000" stroke-linejoin="round"/>
<path d="M553.8 305.94L545.4 308.74" stroke="#000" stroke-width="0.85"/>
<path d="M544.96 307.42L541.8 309.94L545.84 310.06Z" stroke="#000" stroke-width="0.6" fill="#000" stroke-linejoin="round"/>
<path d="M565.04 305.94L555.84 308.06" stroke="#000" stroke-width="0.85"/>
<path d="M555.52 306.65L552.04 308.94L556.17 309.47Z" stroke="#000" stroke-width="0.6" fill="#000" stroke-linejoin="round"/>
<path d="M520.06 317.16L511.66 319.26" stroke="#000" stroke-width="0.85"/>
<path d="M511.33 317.94L508.06 320.16L511.99 320.58Z" stroke="#000" stroke-width="0.6" fill="#000" stroke-linejoin="round"/>
<path d="M531.3 317.16L523.6 319.26" stroke="#000" stroke-width="0.85"/>
<path d="M523.27 318.06L520.3 320.16L523.93 320.47Z" stroke="#000" stroke-width="0.6" fill="#000" stroke-linejoin="round"/>
<path d="M542.55 317.16L540.45 319.26" stroke="#000" stroke-width="0.85"/>
<path d="M539.67 318.49L539.55 320.16L541.23 320.04Z" stroke="#000" stroke-width="0.6" fill="#000" stroke-linejoin="round"/>
<path d="M553.8 317.16L546.1 315.76" stroke="#000" stroke-width="0.85"/>
<path d="M546.32 314.56L542.8 315.16L545.88 316.97Z" stroke="#000" stroke-width="0.6" fill="#000" stroke-linejoin="round"/>
<path d="M565.04 317.16L556.64 317.86" stroke="#000" stroke-width="0.85"/>
<path d="M556.53 316.54L553.04 318.16L556.75 319.18Z" stroke="#000" stroke-width="0.6" fill="#000" stroke-linejoin="round"/>
<path d="M576.29 317.16L568.58 312.26" stroke="#000" stroke-width="0.85"/>
<path d="M569.35 311.05L565.29 310.16L567.81 313.47Z" stroke="#000" stroke-width="0.6" fill="#000" stroke-linejoin="round"/>
<path d="M508.81 328.39L500.41 327" stroke="#000" stroke-width="0.85"/>
<path d="M500.63 325.68L496.81 326.39L500.19 328.31Z" stroke="#000" stroke-width="0.6" fill="#000" stroke-linejoin="round"/>
<path d="M520.06 328.39L511.66 331.19" stroke="#000" stroke-width="0.85"/>
<path d="M511.22 329.88L508.06 332.39L512.1 332.51Z" stroke="#000" stroke-width="0.6" fill="#000" stroke-linejoin="round"/>
<path d="M531.3 328.39L522.9 330.5" stroke="#000" stroke-width="0.85"/>
<path d="M522.57 329.18L519.3 331.39L523.23 331.81Z" stroke="#000" stroke-width="0.6" fill="#000" stroke-linejoin="round"/>
<path d="M542.55 328.39L534.15 329.79" stroke="#000" stroke-width="0.85"/>
<path d="M533.93 328.47L530.55 330.39L534.37 331.11Z" stroke="#000" stroke-width="0.6" fill="#000" stroke-linejoin="round"/>
<path d="M565.04 328.39L561.54 322.09" stroke="#000" stroke-width="0.85"/>
<path d="M562.53 321.54L560.04 319.39L560.55 322.64Z" stroke="#000" stroke-width="0.6" fill="#000" stroke-linejoin="round"/>
<path d="M576.29 328.39L567.89 328.39" stroke="#000" stroke-width="0.85"/>
<path d="M567.89 327.07L564.29 328.39L567.89 329.71Z" stroke="#000" stroke-width="0.6" fill="#000" stroke-linejoin="round"/>
<path d="M542.55 339.62L535.55 336.82" stroke="#000" stroke-width="0.85"/>
<path d="M535.99 335.72L532.55 335.62L535.11 337.93Z" stroke="#000" stroke-width="0.6" fill="#000" stroke-linejoin="round"/>
<path d="M553.8 339.62L553.8 331.23" stroke="#000" stroke-width="0.85"/>
<path d="M555.12 331.23L553.8 327.62L552.48 331.23Z" stroke="#000" stroke-width="0.6" fill="#000" stroke-linejoin="round"/>
<line x1="470.2" y1="48.5" x2="480.4" y2="48.5" stroke="#000" stroke-width="1"/>
<polygon points="466,48.5 471.2,46.3 471.2,50.7" fill="#000"/>
<text x="483" y="51.5" font-size="8.1" fill="#222">220km/s</text>
<text x="454.2" y="35.9" font-size="11.6" text-anchor="end" fill="#111">-30</text>
<text x="454.2" y="47.13" font-size="11.6" text-anchor="end" fill="#111">-28</text>
<text x="454.2" y="58.36" font-size="11.6" text-anchor="end" fill="#111">-26</text>
<text x="454.2" y="69.59" font-size="11.6" text-anchor="end" fill="#111">-24</text>
<text x="454.2" y="80.82" font-size="11.6" text-anchor="end" fill="#111">-22</text>
<text x="454.2" y="92.05" font-size="11.6" text-anchor="end" fill="#111">-20</text>
<text x="454.2" y="103.28" font-size="11.6" text-anchor="end" fill="#111">-18</text>
<text x="454.2" y="114.51" font-size="11.6" text-anchor="end" fill="#111">-16</text>
<text x="454.2" y="125.74" font-size="11.6" text-anchor="end" fill="#111">-14</text>
<text x="454.2" y="136.97" font-size="11.6" text-anchor="end" fill="#111">-12</text>
<text x="454.2" y="148.2" font-size="11.6" text-anchor="end" fill="#111">-10</text>
<text x="454.2" y="159.43" font-size="11.6" text-anchor="end" fill="#111">-8</text>
<text x="454.2" y="170.66" font-size="11.6" text-anchor="end" fill="#111">-6</text>
<text x="454.2" y="181.89" font-size="11.6" text-anchor="end" fill="#111">-4</text>
<text x="454.2" y="193.12" font-size="11.6" text-anchor="end" fill="#111">-2</text>
<text x="454.2" y="204.35" font-size="11.6" text-anchor="end" fill="#111">0</text>
<text x="454.2" y="215.58" font-size="11.6" text-anchor="end" fill="#111">2</text>
<text x="454.2" y="226.81" font-size="11.6" text-anchor="end" fill="#111">4</text>
<text x="454.2" y="238.04" font-size="11.6" text-anchor="end" fill="#111">6</text>
<text x="454.2" y="249.27" font-size="11.6" text-anchor="end" fill="#111">8</text>
<text x="454.2" y="260.5" font-size="11.6" text-anchor="end" fill="#111">10</text>
<text x="454.2" y="271.73" font-size="11.6" text-anchor="end" fill="#111">12</text>
<text x="454.2" y="282.96" font-size="11.6" text-anchor="end" fill="#111">14</text>
<text x="454.2" y="294.19" font-size="11.6" text-anchor="end" fill="#111">16</text>
<text x="454.2" y="305.42" font-size="11.6" text-anchor="end" fill="#111">18</text>
<text x="454.2" y="316.65" font-size="11.6" text-anchor="end" fill="#111">20</text>
<text x="454.2" y="327.88" font-size="11.6" text-anchor="end" fill="#111">22</text>
<text x="454.2" y="339.11" font-size="11.6" text-anchor="end" fill="#111">24</text>
<text x="454.2" y="350.34" font-size="11.6" text-anchor="end" fill="#111">26</text>
<text x="454.2" y="361.57" font-size="11.6" text-anchor="end" fill="#111">28</text>
<text x="454.2" y="372.8" font-size="11.6" text-anchor="end" fill="#111">30</text>
<text transform="translate(462.3,371.2) rotate(-90)" font-size="11.6" text-anchor="end" fill="#111">-40</text>
<text transform="translate(473.55,371.2) rotate(-90)" font-size="11.6" text-anchor="end" fill="#111">-42</text>
<text transform="translate(484.79,371.2) rotate(-90)" font-size="11.6" text-anchor="end" fill="#111">-44</text>
<text transform="translate(496.04,371.2) rotate(-90)" font-size="11.6" text-anchor="end" fill="#111">-46</text>
<text transform="translate(507.29,371.2) rotate(-90)" font-size="11.6" text-anchor="end" fill="#111">-48</text>
<text transform="translate(518.53,371.2) rotate(-90)" font-size="11.6" text-anchor="end" fill="#111">-50</text>
<text transform="translate(529.78,371.2) rotate(-90)" font-size="11.6" text-anchor="end" fill="#111">-52</text>
<text transform="translate(541.03,371.2) rotate(-90)" font-size="11.6" text-anchor="end" fill="#111">-54</text>
<text transform="translate(552.27,371.2) rotate(-90)" font-size="11.6" text-anchor="end" fill="#111">-56</text>
<text transform="translate(563.52,371.2) rotate(-90)" font-size="11.6" text-anchor="end" fill="#111">-58</text>
<text transform="translate(574.77,371.2) rotate(-90)" font-size="11.6" text-anchor="end" fill="#111">-60</text>
<text transform="translate(586.01,371.2) rotate(-90)" font-size="11.6" text-anchor="end" fill="#111">-62</text>
<text transform="translate(597.26,371.2) rotate(-90)" font-size="11.6" text-anchor="end" fill="#111">-64</text>
<text transform="translate(608.51,371.2) rotate(-90)" font-size="11.6" text-anchor="end" fill="#111">-66</text>
<text transform="translate(619.75,371.2) rotate(-90)" font-size="11.6" text-anchor="end" fill="#111">-68</text>
<text transform="translate(631,371.2) rotate(-90)" font-size="11.6" text-anchor="end" fill="#111">-70</text>
<text x="542.55" y="402.1" font-size="13.1" text-anchor="middle" fill="#1a1a1a">GSWX (R<tspan font-size="9.6" dy="6">E</tspan><tspan dy="-6">)</tspan></text>
<text transform="translate(427.2,199.25) rotate(-90)" font-size="13.1" text-anchor="middle" fill="#1a1a1a">GSWY (R<tspan font-size="9.6" dy="6">E</tspan><tspan dy="-6">)</tspan></text>
<linearGradient id="cgc" x1="0" y1="0" x2="0" y2="1">
<stop offset="0" stop-color="#ff0000"/>
<stop offset="0.17" stop-color="#ff5200"/>
<stop offset="0.33" stop-color="#fa9c00"/>
<stop offset="0.44" stop-color="#fdd000"/>
<stop offset="0.4999" stop-color="#fff200"/>
<stop offset="0.5001" stop-color="#00e68a"/>
<stop offset="0.67" stop-color="#00a8a4"/>
<stop offset="0.83" stop-color="#0066cc"/>
<stop offset="1" stop-color="#0000ff"/>
</linearGradient>
<rect x="638.7" y="30.8" width="9.1" height="336.9" fill="url(#cgc)"/>
<text x="651.1" y="35.4" font-size="10.4" fill="#333">90</text>
<line x1="645.3" y1="86.95" x2="647.8" y2="86.95" stroke="#444" stroke-width="0.8"/>
<text x="651.1" y="91.55" font-size="10.4" fill="#333">60</text>
<line x1="645.3" y1="143.1" x2="647.8" y2="143.1" stroke="#444" stroke-width="0.8"/>
<text x="651.1" y="147.7" font-size="10.4" fill="#333">30</text>
<line x1="645.3" y1="199.25" x2="647.8" y2="199.25" stroke="#444" stroke-width="0.8"/>
<text x="651.1" y="203.85" font-size="10.4" fill="#333">0</text>
<line x1="645.3" y1="255.4" x2="647.8" y2="255.4" stroke="#444" stroke-width="0.8"/>
<text x="651.1" y="260" font-size="10.4" fill="#333">-30</text>
<line x1="645.3" y1="311.55" x2="647.8" y2="311.55" stroke="#444" stroke-width="0.8"/>
<text x="651.1" y="316.15" font-size="10.4" fill="#333">-60</text>
<text x="651.1" y="372.3" font-size="10.4" fill="#333">-90</text>
<text transform="translate(680.3,199.25) rotate(-90)" font-size="12.1" text-anchor="middle" fill="#333">arctan(V⊥y/V⊥x) (°)</text>
<text x="542.55" y="27.2" font-size="12" text-anchor="middle" fill="#1e1eff">V⊥xy</text>
<rect x="208.13" y="449.55" width="11.2" height="11.17" fill="#ffde00"/>
<rect x="252.72" y="449.55" width="11.2" height="11.17" fill="#00e187"/>
<rect x="219.28" y="471.79" width="11.2" height="11.17" fill="#0088b8"/>
<rect x="241.57" y="471.79" width="11.2" height="11.17" fill="#00c196"/>
<rect x="252.72" y="471.79" width="11.2" height="11.17" fill="#f56400"/>
<rect x="230.43" y="482.92" width="11.2" height="11.17" fill="#fdc500"/>
<rect x="241.57" y="482.92" width="11.2" height="11.17" fill="#fdc500"/>
<rect x="208.13" y="494.04" width="11.2" height="11.17" fill="#fdc500"/>
<rect x="219.28" y="494.04" width="11.2" height="11.17" fill="#ffde00"/>
<rect x="230.43" y="494.04" width="11.2" height="11.17" fill="#00e187"/>
<rect x="241.57" y="494.04" width="11.2" height="11.17" fill="#fdc500"/>
<rect x="252.72" y="494.04" width="11.2" height="11.17" fill="#ffde00"/>
<rect x="263.87" y="494.04" width="11.2" height="11.17" fill="#fa9600"/>
<rect x="219.28" y="505.16" width="11.2" height="11.17" fill="#fdc500"/>
<rect x="230.43" y="505.16" width="11.2" height="11.17" fill="#006ec8"/>
<rect x="241.57" y="505.16" width="11.2" height="11.17" fill="#fdc500"/>
<rect x="252.72" y="505.16" width="11.2" height="11.17" fill="#0032e6"/>
<rect x="263.87" y="505.16" width="11.2" height="11.17" fill="#00e187"/>
<rect x="275.01" y="505.16" width="11.2" height="11.17" fill="#fa0a00"/>
<rect x="219.28" y="516.29" width="11.2" height="11.17" fill="#f57800"/>
<rect x="230.43" y="516.29" width="11.2" height="11.17" fill="#00e187"/>
<rect x="252.72" y="516.29" width="11.2" height="11.17" fill="#fdc500"/>
<rect x="263.87" y="516.29" width="11.2" height="11.17" fill="#f56400"/>
<rect x="275.01" y="516.29" width="11.2" height="11.17" fill="#fdc500"/>
<rect x="219.28" y="527.41" width="11.2" height="11.17" fill="#ffde00"/>
<rect x="230.43" y="527.41" width="11.2" height="11.17" fill="#fdc500"/>
<rect x="241.57" y="527.41" width="11.2" height="11.17" fill="#fdc500"/>
<rect x="252.72" y="527.41" width="11.2" height="11.17" fill="#fdc500"/>
<rect x="263.87" y="527.41" width="11.2" height="11.17" fill="#fdc500"/>
<rect x="275.01" y="527.41" width="11.2" height="11.17" fill="#fdc500"/>
<rect x="230.43" y="538.53" width="11.2" height="11.17" fill="#fdc500"/>
<rect x="241.57" y="538.53" width="11.2" height="11.17" fill="#fa9600"/>
<rect x="252.72" y="538.53" width="11.2" height="11.17" fill="#fa9600"/>
<rect x="263.87" y="538.53" width="11.2" height="11.17" fill="#fdc500"/>
<rect x="275.01" y="538.53" width="11.2" height="11.17" fill="#ffde00"/>
<rect x="286.16" y="538.53" width="11.2" height="11.17" fill="#006ec8"/>
<rect x="230.43" y="549.66" width="11.2" height="11.17" fill="#fa9600"/>
<rect x="241.57" y="549.66" width="11.2" height="11.17" fill="#fa9600"/>
<rect x="252.72" y="549.66" width="11.2" height="11.17" fill="#fa9600"/>
<rect x="263.87" y="549.66" width="11.2" height="11.17" fill="#00a5a5"/>
<rect x="275.01" y="549.66" width="11.2" height="11.17" fill="#ffde00"/>
<rect x="286.16" y="549.66" width="11.2" height="11.17" fill="#fdc500"/>
<rect x="230.43" y="560.78" width="11.2" height="11.17" fill="#fdc500"/>
<rect x="241.57" y="560.78" width="11.2" height="11.17" fill="#fdc500"/>
<rect x="252.72" y="560.78" width="11.2" height="11.17" fill="#fa9600"/>
<rect x="263.87" y="560.78" width="11.2" height="11.17" fill="#00a5a5"/>
<rect x="275.01" y="560.78" width="11.2" height="11.17" fill="#fff000"/>
<rect x="286.16" y="560.78" width="11.2" height="11.17" fill="#fdc500"/>
<rect x="230.43" y="571.9" width="11.2" height="11.17" fill="#fa9600"/>
<rect x="241.57" y="571.9" width="11.2" height="11.17" fill="#ffde00"/>
<rect x="252.72" y="571.9" width="11.2" height="11.17" fill="#fdc500"/>
<rect x="263.87" y="571.9" width="11.2" height="11.17" fill="#00e187"/>
<rect x="275.01" y="571.9" width="11.2" height="11.17" fill="#fdc500"/>
<rect x="286.16" y="571.9" width="11.2" height="11.17" fill="#00e187"/>
<rect x="230.43" y="583.03" width="11.2" height="11.17" fill="#00c196"/>
<rect x="241.57" y="583.03" width="11.2" height="11.17" fill="#00e187"/>
<rect x="252.72" y="583.03" width="11.2" height="11.17" fill="#fa0a00"/>
<rect x="263.87" y="583.03" width="11.2" height="11.17" fill="#00e187"/>
<rect x="275.01" y="583.03" width="11.2" height="11.17" fill="#fdc500"/>
<rect x="286.16" y="583.03" width="11.2" height="11.17" fill="#00e187"/>
<rect x="219.28" y="594.15" width="11.2" height="11.17" fill="#fa9600"/>
<rect x="230.43" y="594.15" width="11.2" height="11.17" fill="#00e187"/>
<rect x="241.57" y="594.15" width="11.2" height="11.17" fill="#fdc500"/>
<rect x="252.72" y="594.15" width="11.2" height="11.17" fill="#f56400"/>
<rect x="263.87" y="594.15" width="11.2" height="11.17" fill="#00c196"/>
<rect x="275.01" y="594.15" width="11.2" height="11.17" fill="#ffde00"/>
<rect x="286.16" y="594.15" width="11.2" height="11.17" fill="#00e187"/>
<rect x="219.28" y="605.27" width="11.2" height="11.17" fill="#00e187"/>
<rect x="230.43" y="605.27" width="11.2" height="11.17" fill="#00e187"/>
<rect x="241.57" y="605.27" width="11.2" height="11.17" fill="#00c196"/>
<rect x="252.72" y="605.27" width="11.2" height="11.17" fill="#fff000"/>
<rect x="263.87" y="605.27" width="11.2" height="11.17" fill="#fdc500"/>
<rect x="275.01" y="605.27" width="11.2" height="11.17" fill="#fdc500"/>
<rect x="286.16" y="605.27" width="11.2" height="11.17" fill="#fdc500"/>
<rect x="230.43" y="616.4" width="11.2" height="11.17" fill="#0032e6"/>
<rect x="241.57" y="616.4" width="11.2" height="11.17" fill="#ffde00"/>
<rect x="252.72" y="616.4" width="11.2" height="11.17" fill="#f56400"/>
<rect x="263.87" y="616.4" width="11.2" height="11.17" fill="#fdc500"/>
<rect x="275.01" y="616.4" width="11.2" height="11.17" fill="#ffde00"/>
<rect x="286.16" y="616.4" width="11.2" height="11.17" fill="#fdc500"/>
<rect x="230.43" y="627.52" width="11.2" height="11.17" fill="#00e187"/>
<rect x="241.57" y="627.52" width="11.2" height="11.17" fill="#fdc500"/>
<rect x="252.72" y="627.52" width="11.2" height="11.17" fill="#00c196"/>
<rect x="263.87" y="627.52" width="11.2" height="11.17" fill="#00e187"/>
<rect x="275.01" y="627.52" width="11.2" height="11.17" fill="#fdc500"/>
<rect x="286.16" y="627.52" width="11.2" height="11.17" fill="#00e187"/>
<rect x="230.43" y="638.64" width="11.2" height="11.17" fill="#fdc500"/>
<rect x="241.57" y="638.64" width="11.2" height="11.17" fill="#00e187"/>
<rect x="252.72" y="638.64" width="11.2" height="11.17" fill="#00c196"/>
<rect x="263.87" y="638.64" width="11.2" height="11.17" fill="#ffde00"/>
<rect x="275.01" y="638.64" width="11.2" height="11.17" fill="#fdc500"/>
<rect x="286.16" y="638.64" width="11.2" height="11.17" fill="#fa9600"/>
<rect x="230.43" y="649.77" width="11.2" height="11.17" fill="#00e187"/>
<rect x="241.57" y="649.77" width="11.2" height="11.17" fill="#ffde00"/>
<rect x="252.72" y="649.77" width="11.2" height="11.17" fill="#fdc500"/>
<rect x="263.87" y="649.77" width="11.2" height="11.17" fill="#fdc500"/>
<rect x="275.01" y="649.77" width="11.2" height="11.17" fill="#f56400"/>
<rect x="286.16" y="649.77" width="11.2" height="11.17" fill="#00c196"/>
<rect x="230.43" y="660.89" width="11.2" height="11.17" fill="#ffde00"/>
<rect x="241.57" y="660.89" width="11.2" height="11.17" fill="#fdc500"/>
<rect x="252.72" y="660.89" width="11.2" height="11.17" fill="#fdc500"/>
<rect x="263.87" y="660.89" width="11.2" height="11.17" fill="#fdc500"/>
<rect x="275.01" y="660.89" width="11.2" height="11.17" fill="#00e187"/>
<rect x="219.28" y="672.01" width="11.2" height="11.17" fill="#fdc500"/>
<rect x="230.43" y="672.01" width="11.2" height="11.17" fill="#fdc500"/>
<rect x="241.57" y="672.01" width="11.2" height="11.17" fill="#fa9600"/>
<rect x="252.72" y="672.01" width="11.2" height="11.17" fill="#fa9600"/>
<rect x="263.87" y="672.01" width="11.2" height="11.17" fill="#00c196"/>
<rect x="275.01" y="672.01" width="11.2" height="11.17" fill="#fdc500"/>
<rect x="230.43" y="683.14" width="11.2" height="11.17" fill="#fa9600"/>
<rect x="241.57" y="683.14" width="11.2" height="11.17" fill="#ffde00"/>
<rect x="252.72" y="683.14" width="11.2" height="11.17" fill="#00e187"/>
<rect x="263.87" y="683.14" width="11.2" height="11.17" fill="#0088b8"/>
<rect x="275.01" y="683.14" width="11.2" height="11.17" fill="#ffde00"/>
<rect x="219.28" y="694.26" width="11.2" height="11.17" fill="#f56400"/>
<rect x="230.43" y="694.26" width="11.2" height="11.17" fill="#00e187"/>
<rect x="241.57" y="694.26" width="11.2" height="11.17" fill="#00e187"/>
<rect x="275.01" y="694.26" width="11.2" height="11.17" fill="#fa9600"/>
<rect x="219.28" y="705.38" width="11.2" height="11.17" fill="#00c196"/>
<rect x="241.57" y="705.38" width="11.2" height="11.17" fill="#00e187"/>
<rect x="208.13" y="716.51" width="11.2" height="11.17" fill="#fff000"/>
<rect x="252.72" y="716.51" width="11.2" height="11.17" fill="#fff000"/>
<path d="M163.55 427.3V761M174.69 427.3V761M185.84 427.3V761M196.99 427.3V761M208.13 427.3V761M219.28 427.3V761M230.43 427.3V761M241.57 427.3V761M252.72 427.3V761M263.87 427.3V761M275.01 427.3V761M286.16 427.3V761M297.31 427.3V761M308.45 427.3V761M152.4 438.42H319.6M152.4 449.55H319.6M152.4 460.67H319.6M152.4 471.79H319.6M152.4 482.92H319.6M152.4 494.04H319.6M152.4 505.16H319.6M152.4 516.29H319.6M152.4 527.41H319.6M152.4 538.53H319.6M152.4 549.66H319.6M152.4 560.78H319.6M152.4 571.9H319.6M152.4 583.03H319.6M152.4 594.15H319.6M152.4 605.27H319.6M152.4 616.4H319.6M152.4 627.52H319.6M152.4 638.64H319.6M152.4 649.77H319.6M152.4 660.89H319.6M152.4 672.01H319.6M152.4 683.14H319.6M152.4 694.26H319.6M152.4 705.38H319.6M152.4 716.51H319.6M152.4 727.63H319.6M152.4 738.75H319.6M152.4 749.88H319.6" stroke="rgba(0,0,0,0.42)" stroke-width="1" fill="none"/>
<path d="M163.55 761v-3.4M163.55 427.3v3.4M174.69 761v-3.4M174.69 427.3v3.4M185.84 761v-3.4M185.84 427.3v3.4M196.99 761v-3.4M196.99 427.3v3.4M208.13 761v-3.4M208.13 427.3v3.4M219.28 761v-3.4M219.28 427.3v3.4M230.43 761v-3.4M230.43 427.3v3.4M241.57 761v-3.4M241.57 427.3v3.4M252.72 761v-3.4M252.72 427.3v3.4M263.87 761v-3.4M263.87 427.3v3.4M275.01 761v-3.4M275.01 427.3v3.4M286.16 761v-3.4M286.16 427.3v3.4M297.31 761v-3.4M297.31 427.3v3.4M308.45 761v-3.4M308.45 427.3v3.4M152.4 438.42h3.4M319.6 438.42h-3.4M152.4 449.55h3.4M319.6 449.55h-3.4M152.4 460.67h3.4M319.6 460.67h-3.4M152.4 471.79h3.4M319.6 471.79h-3.4M152.4 482.92h3.4M319.6 482.92h-3.4M152.4 494.04h3.4M319.6 494.04h-3.4M152.4 505.16h3.4M319.6 505.16h-3.4M152.4 516.29h3.4M319.6 516.29h-3.4M152.4 527.41h3.4M319.6 527.41h-3.4M152.4 538.53h3.4M319.6 538.53h-3.4M152.4 549.66h3.4M319.6 549.66h-3.4M152.4 560.78h3.4M319.6 560.78h-3.4M152.4 571.9h3.4M319.6 571.9h-3.4M152.4 583.03h3.4M319.6 583.03h-3.4M152.4 594.15h3.4M319.6 594.15h-3.4M152.4 605.27h3.4M319.6 605.27h-3.4M152.4 616.4h3.4M319.6 616.4h-3.4M152.4 627.52h3.4M319.6 627.52h-3.4M152.4 638.64h3.4M319.6 638.64h-3.4M152.4 649.77h3.4M319.6 649.77h-3.4M152.4 660.89h3.4M319.6 660.89h-3.4M152.4 672.01h3.4M319.6 672.01h-3.4M152.4 683.14h3.4M319.6 683.14h-3.4M152.4 694.26h3.4M319.6 694.26h-3.4M152.4 705.38h3.4M319.6 705.38h-3.4M152.4 716.51h3.4M319.6 716.51h-3.4M152.4 727.63h3.4M319.6 727.63h-3.4M152.4 738.75h3.4M319.6 738.75h-3.4M152.4 749.88h3.4M319.6 749.88h-3.4" stroke="#333" stroke-width="1" fill="none"/>
<rect x="152.4" y="427.3" width="167.2" height="333.7" fill="none" stroke="#333" stroke-width="1.05"/>
<path d="M213.71 455.11L205.31 455.81" stroke="#000" stroke-width="0.85"/>
<path d="M205.2 454.49L201.71 456.11L205.42 457.13Z" stroke="#000" stroke-width="0.6" fill="#000" stroke-linejoin="round"/>
<path d="M258.29 455.11L247.12 452.87" stroke="#000" stroke-width="0.85"/>
<path d="M247.4 451.45L243.29 452.11L246.83 454.3Z" stroke="#000" stroke-width="0.6" fill="#000" stroke-linejoin="round"/>
<path d="M224.85 477.36L219.95 473.86" stroke="#000" stroke-width="0.85"/>
<path d="M220.59 472.96L217.85 472.36L219.31 474.75Z" stroke="#000" stroke-width="0.6" fill="#000" stroke-linejoin="round"/>
<path d="M247.15 477.36L240.15 474.56" stroke="#000" stroke-width="0.85"/>
<path d="M240.59 473.45L237.15 473.36L239.71 475.66Z" stroke="#000" stroke-width="0.6" fill="#000" stroke-linejoin="round"/>
<path d="M258.29 477.36L254.09 483.66" stroke="#000" stroke-width="0.85"/>
<path d="M253.1 483L252.29 486.36L255.08 484.32Z" stroke="#000" stroke-width="0.6" fill="#000" stroke-linejoin="round"/>
<path d="M236 488.48L227.6 491.98" stroke="#000" stroke-width="0.85"/>
<path d="M227.05 490.66L224 493.48L228.15 493.3Z" stroke="#000" stroke-width="0.6" fill="#000" stroke-linejoin="round"/>
<path d="M247.15 488.48L237.87 491.33" stroke="#000" stroke-width="0.85"/>
<path d="M237.45 489.95L234.15 492.48L238.3 492.72Z" stroke="#000" stroke-width="0.6" fill="#000" stroke-linejoin="round"/>
<path d="M213.71 499.6L206.71 502.4" stroke="#000" stroke-width="0.85"/>
<path d="M206.27 501.3L203.71 503.6L207.15 503.5Z" stroke="#000" stroke-width="0.6" fill="#000" stroke-linejoin="round"/>
<path d="M224.85 499.6L216.45 501.7" stroke="#000" stroke-width="0.85"/>
<path d="M216.12 500.38L212.85 502.6L216.78 503.02Z" stroke="#000" stroke-width="0.6" fill="#000" stroke-linejoin="round"/>
<path d="M236 499.6L229.7 498.2" stroke="#000" stroke-width="0.85"/>
<path d="M229.94 497.13L227 497.6L229.46 499.28Z" stroke="#000" stroke-width="0.6" fill="#000" stroke-linejoin="round"/>
<path d="M247.15 499.6L239.45 503.1" stroke="#000" stroke-width="0.85"/>
<path d="M238.9 501.89L236.15 504.6L240 504.31Z" stroke="#000" stroke-width="0.6" fill="#000" stroke-linejoin="round"/>
<path d="M258.29 499.6L251.29 500.3" stroke="#000" stroke-width="0.85"/>
<path d="M251.18 499.2L248.29 500.6L251.4 501.4Z" stroke="#000" stroke-width="0.6" fill="#000" stroke-linejoin="round"/>
<path d="M269.44 499.6L263.14 503.8" stroke="#000" stroke-width="0.85"/>
<path d="M262.48 502.81L260.44 505.6L263.8 504.79Z" stroke="#000" stroke-width="0.6" fill="#000" stroke-linejoin="round"/>
<path d="M224.85 510.73L217.15 513.52" stroke="#000" stroke-width="0.85"/>
<path d="M216.71 512.31L213.85 514.73L217.59 514.74Z" stroke="#000" stroke-width="0.6" fill="#000" stroke-linejoin="round"/>
<path d="M236 510.73L232.5 506.53" stroke="#000" stroke-width="0.85"/>
<path d="M233.35 505.82L231 504.73L231.65 507.23Z" stroke="#000" stroke-width="0.6" fill="#000" stroke-linejoin="round"/>
<path d="M247.15 510.73L238.63 514.98" stroke="#000" stroke-width="0.85"/>
<path d="M237.99 513.68L235.15 516.73L239.28 516.28Z" stroke="#000" stroke-width="0.6" fill="#000" stroke-linejoin="round"/>
<path d="M258.29 510.73L254.61 500.4" stroke="#000" stroke-width="0.85"/>
<path d="M255.97 499.91L253.29 496.73L253.24 500.89Z" stroke="#000" stroke-width="0.6" fill="#000" stroke-linejoin="round"/>
<path d="M269.44 510.73L261.04 510.03" stroke="#000" stroke-width="0.85"/>
<path d="M261.15 508.71L257.44 509.73L260.93 511.35Z" stroke="#000" stroke-width="0.6" fill="#000" stroke-linejoin="round"/>
<path d="M280.59 510.73L279.89 518.43" stroke="#000" stroke-width="0.85"/>
<path d="M278.68 518.32L279.59 521.73L281.1 518.54Z" stroke="#000" stroke-width="0.6" fill="#000" stroke-linejoin="round"/>
<path d="M224.85 521.85L219.95 526.05" stroke="#000" stroke-width="0.85"/>
<path d="M219.24 525.21L217.85 527.85L220.67 526.88Z" stroke="#000" stroke-width="0.6" fill="#000" stroke-linejoin="round"/>
<path d="M236 521.85L231.1 521.15" stroke="#000" stroke-width="0.85"/>
<path d="M231.26 520.06L229 520.85L230.94 522.24Z" stroke="#000" stroke-width="0.6" fill="#000" stroke-linejoin="round"/>
<path d="M258.29 521.85L249.89 523.95" stroke="#000" stroke-width="0.85"/>
<path d="M249.56 522.63L246.29 524.85L250.22 525.27Z" stroke="#000" stroke-width="0.6" fill="#000" stroke-linejoin="round"/>
<path d="M269.44 521.85L265.94 527.45" stroke="#000" stroke-width="0.85"/>
<path d="M265.01 526.87L264.44 529.85L266.87 528.03Z" stroke="#000" stroke-width="0.6" fill="#000" stroke-linejoin="round"/>
<path d="M280.59 521.85L273.59 523.95" stroke="#000" stroke-width="0.85"/>
<path d="M273.26 522.85L270.59 524.85L273.92 525.05Z" stroke="#000" stroke-width="0.6" fill="#000" stroke-linejoin="round"/>
<path d="M224.85 532.97L218.55 533.67" stroke="#000" stroke-width="0.85"/>
<path d="M218.43 532.58L215.85 533.97L218.67 534.76Z" stroke="#000" stroke-width="0.6" fill="#000" stroke-linejoin="round"/>
<path d="M236 532.97L229.7 536.47" stroke="#000" stroke-width="0.85"/>
<path d="M229.15 535.48L227 537.97L230.25 537.46Z" stroke="#000" stroke-width="0.6" fill="#000" stroke-linejoin="round"/>
<path d="M247.15 532.97L236.96 535.15" stroke="#000" stroke-width="0.85"/>
<path d="M236.66 533.74L233.15 535.97L237.26 536.57Z" stroke="#000" stroke-width="0.6" fill="#000" stroke-linejoin="round"/>
<path d="M258.29 532.97L250.59 534.37" stroke="#000" stroke-width="0.85"/>
<path d="M250.37 533.16L247.29 534.97L250.81 535.58Z" stroke="#000" stroke-width="0.6" fill="#000" stroke-linejoin="round"/>
<path d="M269.44 532.97L261.74 536.47" stroke="#000" stroke-width="0.85"/>
<path d="M261.19 535.26L258.44 537.97L262.29 537.68Z" stroke="#000" stroke-width="0.6" fill="#000" stroke-linejoin="round"/>
<path d="M280.59 532.97L272.19 535.07" stroke="#000" stroke-width="0.85"/>
<path d="M271.86 533.75L268.59 535.97L272.52 536.39Z" stroke="#000" stroke-width="0.6" fill="#000" stroke-linejoin="round"/>
<path d="M236 544.1L225.75 547.02" stroke="#000" stroke-width="0.85"/>
<path d="M225.35 545.63L222 548.1L226.15 548.42Z" stroke="#000" stroke-width="0.6" fill="#000" stroke-linejoin="round"/>
<path d="M247.15 544.1L240.85 549" stroke="#000" stroke-width="0.85"/>
<path d="M240.08 548L238.15 551.1L241.62 549.99Z" stroke="#000" stroke-width="0.6" fill="#000" stroke-linejoin="round"/>
<path d="M258.29 544.1L251.29 549" stroke="#000" stroke-width="0.85"/>
<path d="M250.52 547.89L248.29 551.1L252.06 550.1Z" stroke="#000" stroke-width="0.6" fill="#000" stroke-linejoin="round"/>
<path d="M269.44 544.1L261.04 546.2" stroke="#000" stroke-width="0.85"/>
<path d="M260.71 544.88L257.44 547.1L261.37 547.52Z" stroke="#000" stroke-width="0.6" fill="#000" stroke-linejoin="round"/>
<path d="M280.59 544.1L271.44 545.5" stroke="#000" stroke-width="0.85"/>
<path d="M271.22 544.07L267.59 546.1L271.66 546.93Z" stroke="#000" stroke-width="0.6" fill="#000" stroke-linejoin="round"/>
<path d="M291.73 544.1L286.83 539.2" stroke="#000" stroke-width="0.85"/>
<path d="M287.61 538.42L284.73 537.1L286.06 539.97Z" stroke="#000" stroke-width="0.6" fill="#000" stroke-linejoin="round"/>
<path d="M236 555.22L229 558.72" stroke="#000" stroke-width="0.85"/>
<path d="M228.45 557.62L226 560.22L229.55 559.82Z" stroke="#000" stroke-width="0.6" fill="#000" stroke-linejoin="round"/>
<path d="M247.15 555.22L239.45 559.42" stroke="#000" stroke-width="0.85"/>
<path d="M238.79 558.21L236.15 561.22L240.11 560.63Z" stroke="#000" stroke-width="0.6" fill="#000" stroke-linejoin="round"/>
<path d="M258.29 555.22L250.58 560.12" stroke="#000" stroke-width="0.85"/>
<path d="M249.81 558.91L247.29 562.22L251.35 561.33Z" stroke="#000" stroke-width="0.6" fill="#000" stroke-linejoin="round"/>
<path d="M269.44 555.22L260.93 550.96" stroke="#000" stroke-width="0.85"/>
<path d="M261.58 549.67L257.44 549.22L260.28 552.26Z" stroke="#000" stroke-width="0.6" fill="#000" stroke-linejoin="round"/>
<path d="M280.59 555.22L274.99 555.92" stroke="#000" stroke-width="0.85"/>
<path d="M274.85 554.83L272.59 556.22L275.12 557.01Z" stroke="#000" stroke-width="0.6" fill="#000" stroke-linejoin="round"/>
<path d="M291.73 555.22L281.59 556.67" stroke="#000" stroke-width="0.85"/>
<path d="M281.39 555.23L277.73 557.22L281.8 558.1Z" stroke="#000" stroke-width="0.6" fill="#000" stroke-linejoin="round"/>
<path d="M236 566.34L225.81 568.52" stroke="#000" stroke-width="0.85"/>
<path d="M225.51 567.11L222 569.34L226.12 569.94Z" stroke="#000" stroke-width="0.6" fill="#000" stroke-linejoin="round"/>
<path d="M247.15 566.34L238 567.75" stroke="#000" stroke-width="0.85"/>
<path d="M237.78 566.32L234.15 568.34L238.22 569.18Z" stroke="#000" stroke-width="0.6" fill="#000" stroke-linejoin="round"/>
<path d="M258.29 566.34L251.29 571.24" stroke="#000" stroke-width="0.85"/>
<path d="M250.52 570.14L248.29 573.34L252.06 572.34Z" stroke="#000" stroke-width="0.6" fill="#000" stroke-linejoin="round"/>
<path d="M269.44 566.34L262.44 563.54" stroke="#000" stroke-width="0.85"/>
<path d="M262.88 562.44L259.44 562.34L262 564.64Z" stroke="#000" stroke-width="0.6" fill="#000" stroke-linejoin="round"/>
<path d="M280.59 566.34L272.19 566.34" stroke="#000" stroke-width="0.85"/>
<path d="M272.19 565.02L268.59 566.34L272.19 567.66Z" stroke="#000" stroke-width="0.6" fill="#000" stroke-linejoin="round"/>
<path d="M291.73 566.34L284.73 570.54" stroke="#000" stroke-width="0.85"/>
<path d="M284.07 569.44L281.73 572.34L285.39 571.64Z" stroke="#000" stroke-width="0.6" fill="#000" stroke-linejoin="round"/>
<path d="M236 577.47L229.7 583.76" stroke="#000" stroke-width="0.85"/>
<path d="M228.71 582.77L227 586.47L230.69 584.75Z" stroke="#000" stroke-width="0.6" fill="#000" stroke-linejoin="round"/>
<path d="M247.15 577.47L238.04 578.17" stroke="#000" stroke-width="0.85"/>
<path d="M237.93 576.74L234.15 578.47L238.15 579.6Z" stroke="#000" stroke-width="0.6" fill="#000" stroke-linejoin="round"/>
<path d="M258.29 577.47L250.59 580.97" stroke="#000" stroke-width="0.85"/>
<path d="M250.04 579.75L247.29 582.47L251.14 582.18Z" stroke="#000" stroke-width="0.6" fill="#000" stroke-linejoin="round"/>
<path d="M269.44 577.47L261.04 576.07" stroke="#000" stroke-width="0.85"/>
<path d="M261.26 574.75L257.44 575.47L260.82 577.39Z" stroke="#000" stroke-width="0.6" fill="#000" stroke-linejoin="round"/>
<path d="M280.59 577.47L268.37 580.52" stroke="#000" stroke-width="0.85"/>
<path d="M268.02 579.11L264.59 581.47L268.72 581.93Z" stroke="#000" stroke-width="0.6" fill="#000" stroke-linejoin="round"/>
<path d="M291.73 577.47L285.43 575.37" stroke="#000" stroke-width="0.85"/>
<path d="M285.78 574.32L282.73 574.47L285.09 576.41Z" stroke="#000" stroke-width="0.6" fill="#000" stroke-linejoin="round"/>
<path d="M236 588.59L230.4 587.19" stroke="#000" stroke-width="0.85"/>
<path d="M230.67 586.12L228 586.59L230.13 588.26Z" stroke="#000" stroke-width="0.6" fill="#000" stroke-linejoin="round"/>
<path d="M247.15 588.59L240.15 588.59" stroke="#000" stroke-width="0.85"/>
<path d="M240.15 587.49L237.15 588.59L240.15 589.69Z" stroke="#000" stroke-width="0.6" fill="#000" stroke-linejoin="round"/>
<path d="M258.29 588.59L257.57 598.7" stroke="#000" stroke-width="0.85"/>
<path d="M256.12 598.59L257.29 602.59L259.02 598.8Z" stroke="#000" stroke-width="0.6" fill="#000" stroke-linejoin="round"/>
<path d="M269.44 588.59L261.04 587.89" stroke="#000" stroke-width="0.85"/>
<path d="M261.15 586.57L257.44 587.59L260.93 589.21Z" stroke="#000" stroke-width="0.6" fill="#000" stroke-linejoin="round"/>
<path d="M280.59 588.59L270.91 594.54" stroke="#000" stroke-width="0.85"/>
<path d="M270.15 593.31L267.59 596.59L271.67 595.78Z" stroke="#000" stroke-width="0.6" fill="#000" stroke-linejoin="round"/>
<path d="M291.73 588.59L285.43 587.89" stroke="#000" stroke-width="0.85"/>
<path d="M285.55 586.8L282.73 587.59L285.31 588.98Z" stroke="#000" stroke-width="0.6" fill="#000" stroke-linejoin="round"/>
<path d="M224.85 599.71L217.15 603.91" stroke="#000" stroke-width="0.85"/>
<path d="M216.49 602.7L213.85 605.71L217.81 605.12Z" stroke="#000" stroke-width="0.6" fill="#000" stroke-linejoin="round"/>
<path d="M236 599.71L228.3 598.31" stroke="#000" stroke-width="0.85"/>
<path d="M228.52 597.1L225 597.71L228.08 599.52Z" stroke="#000" stroke-width="0.6" fill="#000" stroke-linejoin="round"/>
<path d="M247.15 599.71L238.75 602.51" stroke="#000" stroke-width="0.85"/>
<path d="M238.31 601.19L235.15 603.71L239.19 603.83Z" stroke="#000" stroke-width="0.6" fill="#000" stroke-linejoin="round"/>
<path d="M258.29 599.71L256.89 603.21" stroke="#000" stroke-width="0.85"/>
<path d="M255.87 602.8L256.29 604.71L257.91 603.62Z" stroke="#000" stroke-width="0.6" fill="#000" stroke-linejoin="round"/>
<path d="M269.44 599.71L261.04 598.31" stroke="#000" stroke-width="0.85"/>
<path d="M261.26 596.99L257.44 597.71L260.82 599.63Z" stroke="#000" stroke-width="0.6" fill="#000" stroke-linejoin="round"/>
<path d="M280.59 599.71L270.45 601.16" stroke="#000" stroke-width="0.85"/>
<path d="M270.24 599.72L266.59 601.71L270.65 602.6Z" stroke="#000" stroke-width="0.6" fill="#000" stroke-linejoin="round"/>
<path d="M291.73 599.71L285.43 599.01" stroke="#000" stroke-width="0.85"/>
<path d="M285.55 597.92L282.73 598.71L285.31 600.1Z" stroke="#000" stroke-width="0.6" fill="#000" stroke-linejoin="round"/>
<path d="M224.85 610.84L215.74 610.13" stroke="#000" stroke-width="0.85"/>
<path d="M215.85 608.7L211.85 609.84L215.63 611.56Z" stroke="#000" stroke-width="0.6" fill="#000" stroke-linejoin="round"/>
<path d="M236 610.84L225.89 610.11" stroke="#000" stroke-width="0.85"/>
<path d="M225.99 608.67L222 609.84L225.79 611.56Z" stroke="#000" stroke-width="0.6" fill="#000" stroke-linejoin="round"/>
<path d="M247.15 610.84L239.45 608.74" stroke="#000" stroke-width="0.85"/>
<path d="M239.78 607.52L236.15 607.84L239.12 609.95Z" stroke="#000" stroke-width="0.6" fill="#000" stroke-linejoin="round"/>
<path d="M258.29 610.84L251.29 610.84" stroke="#000" stroke-width="0.85"/>
<path d="M251.29 609.74L248.29 610.84L251.29 611.94Z" stroke="#000" stroke-width="0.6" fill="#000" stroke-linejoin="round"/>
<path d="M269.44 610.84L261.74 613.63" stroke="#000" stroke-width="0.85"/>
<path d="M261.3 612.42L258.44 614.84L262.18 614.85Z" stroke="#000" stroke-width="0.6" fill="#000" stroke-linejoin="round"/>
<path d="M280.59 610.84L272.89 613.63" stroke="#000" stroke-width="0.85"/>
<path d="M272.45 612.42L269.59 614.84L273.33 614.85Z" stroke="#000" stroke-width="0.6" fill="#000" stroke-linejoin="round"/>
<path d="M291.73 610.84L283.33 614.34" stroke="#000" stroke-width="0.85"/>
<path d="M282.78 613.01L279.73 615.84L283.88 615.66Z" stroke="#000" stroke-width="0.6" fill="#000" stroke-linejoin="round"/>
<path d="M236 621.96L231.8 614.26" stroke="#000" stroke-width="0.85"/>
<path d="M233.01 613.6L230 610.96L230.59 614.92Z" stroke="#000" stroke-width="0.6" fill="#000" stroke-linejoin="round"/>
<path d="M247.15 621.96L240.15 622.66" stroke="#000" stroke-width="0.85"/>
<path d="M240.04 621.56L237.15 622.96L240.26 623.76Z" stroke="#000" stroke-width="0.6" fill="#000" stroke-linejoin="round"/>
<path d="M258.29 621.96L254.79 628.26" stroke="#000" stroke-width="0.85"/>
<path d="M253.8 627.71L253.29 630.96L255.78 628.81Z" stroke="#000" stroke-width="0.6" fill="#000" stroke-linejoin="round"/>
<path d="M269.44 621.96L261.74 624.06" stroke="#000" stroke-width="0.85"/>
<path d="M261.41 622.85L258.44 624.96L262.07 625.27Z" stroke="#000" stroke-width="0.6" fill="#000" stroke-linejoin="round"/>
<path d="M280.59 621.96L267.38 625.07" stroke="#000" stroke-width="0.85"/>
<path d="M267.05 623.65L263.59 625.96L267.72 626.48Z" stroke="#000" stroke-width="0.6" fill="#000" stroke-linejoin="round"/>
<path d="M291.73 621.96L283.22 626.21" stroke="#000" stroke-width="0.85"/>
<path d="M282.57 624.92L279.73 627.96L283.87 627.51Z" stroke="#000" stroke-width="0.6" fill="#000" stroke-linejoin="round"/>
<path d="M236 633.08L227.6 631.68" stroke="#000" stroke-width="0.85"/>
<path d="M227.82 630.36L224 631.08L227.38 633Z" stroke="#000" stroke-width="0.6" fill="#000" stroke-linejoin="round"/>
<path d="M247.15 633.08L238.75 635.18" stroke="#000" stroke-width="0.85"/>
<path d="M238.42 633.86L235.15 636.08L239.08 636.5Z" stroke="#000" stroke-width="0.6" fill="#000" stroke-linejoin="round"/>
<path d="M258.29 633.08L248.83 628.72" stroke="#000" stroke-width="0.85"/>
<path d="M249.44 627.4L245.29 627.08L248.23 630.03Z" stroke="#000" stroke-width="0.6" fill="#000" stroke-linejoin="round"/>
<path d="M269.44 633.08L261.04 632.38" stroke="#000" stroke-width="0.85"/>
<path d="M261.15 631.06L257.44 632.08L260.93 633.7Z" stroke="#000" stroke-width="0.6" fill="#000" stroke-linejoin="round"/>
<path d="M280.59 633.08L272.89 635.88" stroke="#000" stroke-width="0.85"/>
<path d="M272.45 634.67L269.59 637.08L273.33 637.09Z" stroke="#000" stroke-width="0.6" fill="#000" stroke-linejoin="round"/>
<path d="M291.73 633.08L282.59 631.67" stroke="#000" stroke-width="0.85"/>
<path d="M282.81 630.24L278.73 631.08L282.37 633.1Z" stroke="#000" stroke-width="0.6" fill="#000" stroke-linejoin="round"/>
<path d="M236 644.21L224.53 649.56" stroke="#000" stroke-width="0.85"/>
<path d="M223.92 648.24L221 651.21L225.15 650.87Z" stroke="#000" stroke-width="0.6" fill="#000" stroke-linejoin="round"/>
<path d="M247.15 644.21L240.85 643.5" stroke="#000" stroke-width="0.85"/>
<path d="M240.97 642.41L238.15 643.21L240.73 644.6Z" stroke="#000" stroke-width="0.6" fill="#000" stroke-linejoin="round"/>
<path d="M258.29 644.21L250.59 642.11" stroke="#000" stroke-width="0.85"/>
<path d="M250.92 640.89L247.29 641.21L250.26 643.32Z" stroke="#000" stroke-width="0.6" fill="#000" stroke-linejoin="round"/>
<path d="M269.44 644.21L260.29 645.61" stroke="#000" stroke-width="0.85"/>
<path d="M260.07 644.18L256.44 646.21L260.51 647.04Z" stroke="#000" stroke-width="0.6" fill="#000" stroke-linejoin="round"/>
<path d="M280.59 644.21L274.29 645.61" stroke="#000" stroke-width="0.85"/>
<path d="M274.05 644.53L271.59 646.21L274.53 646.68Z" stroke="#000" stroke-width="0.6" fill="#000" stroke-linejoin="round"/>
<path d="M291.73 644.21L284.03 647.71" stroke="#000" stroke-width="0.85"/>
<path d="M283.48 646.5L280.73 649.21L284.58 648.92Z" stroke="#000" stroke-width="0.6" fill="#000" stroke-linejoin="round"/>
<path d="M236 655.33L214 652.33M220.93 650.81L214 652.33L220.27 655.65" stroke="#000" stroke-width="0.85" fill="none"/>
<path d="M247.15 655.33L240.15 656.03" stroke="#000" stroke-width="0.85"/>
<path d="M240.04 654.93L237.15 656.33L240.26 657.13Z" stroke="#000" stroke-width="0.6" fill="#000" stroke-linejoin="round"/>
<path d="M258.29 655.33L251.29 658.13" stroke="#000" stroke-width="0.85"/>
<path d="M250.85 657.03L248.29 659.33L251.73 659.23Z" stroke="#000" stroke-width="0.6" fill="#000" stroke-linejoin="round"/>
<path d="M269.44 655.33L261.04 657.43" stroke="#000" stroke-width="0.85"/>
<path d="M260.71 656.11L257.44 658.33L261.37 658.75Z" stroke="#000" stroke-width="0.6" fill="#000" stroke-linejoin="round"/>
<path d="M280.59 655.33L276.39 662.33" stroke="#000" stroke-width="0.85"/>
<path d="M275.29 661.67L274.59 665.33L277.49 662.99Z" stroke="#000" stroke-width="0.6" fill="#000" stroke-linejoin="round"/>
<path d="M291.73 655.33L282.46 652.48" stroke="#000" stroke-width="0.85"/>
<path d="M282.89 651.09L278.73 651.33L282.03 653.86Z" stroke="#000" stroke-width="0.6" fill="#000" stroke-linejoin="round"/>
<path d="M236 666.45L229.7 666.45" stroke="#000" stroke-width="0.85"/>
<path d="M229.7 665.35L227 666.45L229.7 667.55Z" stroke="#000" stroke-width="0.6" fill="#000" stroke-linejoin="round"/>
<path d="M247.15 666.45L239.45 669.25" stroke="#000" stroke-width="0.85"/>
<path d="M239.01 668.04L236.15 670.45L239.89 670.46Z" stroke="#000" stroke-width="0.6" fill="#000" stroke-linejoin="round"/>
<path d="M258.29 666.45L250.59 668.55" stroke="#000" stroke-width="0.85"/>
<path d="M250.26 667.34L247.29 669.45L250.92 669.76Z" stroke="#000" stroke-width="0.6" fill="#000" stroke-linejoin="round"/>
<path d="M269.44 666.45L261.74 669.25" stroke="#000" stroke-width="0.85"/>
<path d="M261.3 668.04L258.44 670.45L262.18 670.46Z" stroke="#000" stroke-width="0.6" fill="#000" stroke-linejoin="round"/>
<path d="M280.59 666.45L275.69 665.75" stroke="#000" stroke-width="0.85"/>
<path d="M275.84 664.66L273.59 665.45L275.53 666.84Z" stroke="#000" stroke-width="0.6" fill="#000" stroke-linejoin="round"/>
<path d="M224.85 677.58L191.85 684.58M200.98 678.85L191.85 684.58L202.52 686.11" stroke="#000" stroke-width="0.85" fill="none"/>
<path d="M236 677.58L228.3 681.08" stroke="#000" stroke-width="0.85"/>
<path d="M227.75 679.87L225 682.58L228.85 682.29Z" stroke="#000" stroke-width="0.6" fill="#000" stroke-linejoin="round"/>
<path d="M247.15 677.58L239.3 683.28" stroke="#000" stroke-width="0.85"/>
<path d="M238.45 682.11L236.15 685.58L240.15 684.45Z" stroke="#000" stroke-width="0.6" fill="#000" stroke-linejoin="round"/>
<path d="M258.29 677.58L251.29 681.78" stroke="#000" stroke-width="0.85"/>
<path d="M250.63 680.68L248.29 683.58L251.95 682.88Z" stroke="#000" stroke-width="0.6" fill="#000" stroke-linejoin="round"/>
<path d="M269.44 677.58L261.74 674.78" stroke="#000" stroke-width="0.85"/>
<path d="M262.18 673.57L258.44 673.58L261.3 675.99Z" stroke="#000" stroke-width="0.6" fill="#000" stroke-linejoin="round"/>
<path d="M280.59 677.58L270.34 680.5" stroke="#000" stroke-width="0.85"/>
<path d="M269.94 679.11L266.59 681.58L270.73 681.9Z" stroke="#000" stroke-width="0.6" fill="#000" stroke-linejoin="round"/>
<path d="M236 688.7L229.7 692.9" stroke="#000" stroke-width="0.85"/>
<path d="M229.04 691.91L227 694.7L230.36 693.89Z" stroke="#000" stroke-width="0.6" fill="#000" stroke-linejoin="round"/>
<path d="M247.15 688.7L239.45 689.4" stroke="#000" stroke-width="0.85"/>
<path d="M239.34 688.19L236.15 689.7L239.56 690.61Z" stroke="#000" stroke-width="0.6" fill="#000" stroke-linejoin="round"/>
<path d="M258.29 688.7L250.59 687.3" stroke="#000" stroke-width="0.85"/>
<path d="M250.81 686.09L247.29 686.7L250.37 688.51Z" stroke="#000" stroke-width="0.6" fill="#000" stroke-linejoin="round"/>
<path d="M269.44 688.7L259.53 681.08" stroke="#000" stroke-width="0.85"/>
<path d="M260.42 679.93L256.44 678.7L258.65 682.23Z" stroke="#000" stroke-width="0.6" fill="#000" stroke-linejoin="round"/>
<path d="M280.59 688.7L272.19 689.4" stroke="#000" stroke-width="0.85"/>
<path d="M272.08 688.08L268.59 689.7L272.3 690.72Z" stroke="#000" stroke-width="0.6" fill="#000" stroke-linejoin="round"/>
<path d="M224.85 699.82L217.75 706.21" stroke="#000" stroke-width="0.85"/>
<path d="M216.78 705.13L214.85 708.82L218.72 707.29Z" stroke="#000" stroke-width="0.6" fill="#000" stroke-linejoin="round"/>
<path d="M236 699.82L228.3 699.12" stroke="#000" stroke-width="0.85"/>
<path d="M228.41 697.91L225 698.82L228.19 700.33Z" stroke="#000" stroke-width="0.6" fill="#000" stroke-linejoin="round"/>
<path d="M247.15 699.82L238.05 699.82" stroke="#000" stroke-width="0.85"/>
<path d="M238.05 698.39L234.15 699.82L238.05 701.25Z" stroke="#000" stroke-width="0.6" fill="#000" stroke-linejoin="round"/>
<path d="M280.59 699.82L272.89 704.02" stroke="#000" stroke-width="0.85"/>
<path d="M272.23 702.81L269.59 705.82L273.55 705.23Z" stroke="#000" stroke-width="0.6" fill="#000" stroke-linejoin="round"/>
<path d="M224.85 710.94L217.85 708.84" stroke="#000" stroke-width="0.85"/>
<path d="M218.18 707.74L214.85 707.94L217.52 709.94Z" stroke="#000" stroke-width="0.6" fill="#000" stroke-linejoin="round"/>
<path d="M247.15 710.94L238.75 710.24" stroke="#000" stroke-width="0.85"/>
<path d="M238.86 708.92L235.15 709.94L238.64 711.56Z" stroke="#000" stroke-width="0.6" fill="#000" stroke-linejoin="round"/>
<path d="M213.71 722.07L206.01 722.77" stroke="#000" stroke-width="0.85"/>
<path d="M205.9 721.56L202.71 723.07L206.12 723.98Z" stroke="#000" stroke-width="0.6" fill="#000" stroke-linejoin="round"/>
<path d="M258.29 722.07L250.59 722.07" stroke="#000" stroke-width="0.85"/>
<path d="M250.59 720.86L247.29 722.07L250.59 723.28Z" stroke="#000" stroke-width="0.6" fill="#000" stroke-linejoin="round"/>
<line x1="164.4" y1="445" x2="174.6" y2="445" stroke="#000" stroke-width="1"/>
<polygon points="160.2,445 165.4,442.8 165.4,447.2" fill="#000"/>
<text x="177.2" y="448" font-size="8.1" fill="#222">220km/s</text>
<text x="148.4" y="432.4" font-size="11.6" text-anchor="end" fill="#111">-30</text>
<text x="148.4" y="443.52" font-size="11.6" text-anchor="end" fill="#111">-28</text>
<text x="148.4" y="454.65" font-size="11.6" text-anchor="end" fill="#111">-26</text>
<text x="148.4" y="465.77" font-size="11.6" text-anchor="end" fill="#111">-24</text>
<text x="148.4" y="476.89" font-size="11.6" text-anchor="end" fill="#111">-22</text>
<text x="148.4" y="488.02" font-size="11.6" text-anchor="end" fill="#111">-20</text>
<text x="148.4" y="499.14" font-size="11.6" text-anchor="end" fill="#111">-18</text>
<text x="148.4" y="510.26" font-size="11.6" text-anchor="end" fill="#111">-16</text>
<text x="148.4" y="521.39" font-size="11.6" text-anchor="end" fill="#111">-14</text>
<text x="148.4" y="532.51" font-size="11.6" text-anchor="end" fill="#111">-12</text>
<text x="148.4" y="543.63" font-size="11.6" text-anchor="end" fill="#111">-10</text>
<text x="148.4" y="554.76" font-size="11.6" text-anchor="end" fill="#111">-8</text>
<text x="148.4" y="565.88" font-size="11.6" text-anchor="end" fill="#111">-6</text>
<text x="148.4" y="577" font-size="11.6" text-anchor="end" fill="#111">-4</text>
<text x="148.4" y="588.13" font-size="11.6" text-anchor="end" fill="#111">-2</text>
<text x="148.4" y="599.25" font-size="11.6" text-anchor="end" fill="#111">0</text>
<text x="148.4" y="610.37" font-size="11.6" text-anchor="end" fill="#111">2</text>
<text x="148.4" y="621.5" font-size="11.6" text-anchor="end" fill="#111">4</text>
<text x="148.4" y="632.62" font-size="11.6" text-anchor="end" fill="#111">6</text>
<text x="148.4" y="643.74" font-size="11.6" text-anchor="end" fill="#111">8</text>
<text x="148.4" y="654.87" font-size="11.6" text-anchor="end" fill="#111">10</text>
<text x="148.4" y="665.99" font-size="11.6" text-anchor="end" fill="#111">12</text>
<text x="148.4" y="677.11" font-size="11.6" text-anchor="end" fill="#111">14</text>
<text x="148.4" y="688.24" font-size="11.6" text-anchor="end" fill="#111">16</text>
<text x="148.4" y="699.36" font-size="11.6" text-anchor="end" fill="#111">18</text>
<text x="148.4" y="710.48" font-size="11.6" text-anchor="end" fill="#111">20</text>
<text x="148.4" y="721.61" font-size="11.6" text-anchor="end" fill="#111">22</text>
<text x="148.4" y="732.73" font-size="11.6" text-anchor="end" fill="#111">24</text>
<text x="148.4" y="743.85" font-size="11.6" text-anchor="end" fill="#111">26</text>
<text x="148.4" y="754.98" font-size="11.6" text-anchor="end" fill="#111">28</text>
<text x="148.4" y="766.1" font-size="11.6" text-anchor="end" fill="#111">30</text>
<text transform="translate(156.5,764.5) rotate(-90)" font-size="11.6" text-anchor="end" fill="#111">-40</text>
<text transform="translate(167.65,764.5) rotate(-90)" font-size="11.6" text-anchor="end" fill="#111">-42</text>
<text transform="translate(178.79,764.5) rotate(-90)" font-size="11.6" text-anchor="end" fill="#111">-44</text>
<text transform="translate(189.94,764.5) rotate(-90)" font-size="11.6" text-anchor="end" fill="#111">-46</text>
<text transform="translate(201.09,764.5) rotate(-90)" font-size="11.6" text-anchor="end" fill="#111">-48</text>
<text transform="translate(212.23,764.5) rotate(-90)" font-size="11.6" text-anchor="end" fill="#111">-50</text>
<text transform="translate(223.38,764.5) rotate(-90)" font-size="11.6" text-anchor="end" fill="#111">-52</text>
<text transform="translate(234.53,764.5) rotate(-90)" font-size="11.6" text-anchor="end" fill="#111">-54</text>
<text transform="translate(245.67,764.5) rotate(-90)" font-size="11.6" text-anchor="end" fill="#111">-56</text>
<text transform="translate(256.82,764.5) rotate(-90)" font-size="11.6" text-anchor="end" fill="#111">-58</text>
<text transform="translate(267.97,764.5) rotate(-90)" font-size="11.6" text-anchor="end" fill="#111">-60</text>
<text transform="translate(279.11,764.5) rotate(-90)" font-size="11.6" text-anchor="end" fill="#111">-62</text>
<text transform="translate(290.26,764.5) rotate(-90)" font-size="11.6" text-anchor="end" fill="#111">-64</text>
<text transform="translate(301.41,764.5) rotate(-90)" font-size="11.6" text-anchor="end" fill="#111">-66</text>
<text transform="translate(312.55,764.5) rotate(-90)" font-size="11.6" text-anchor="end" fill="#111">-68</text>
<text transform="translate(323.7,764.5) rotate(-90)" font-size="11.6" text-anchor="end" fill="#111">-70</text>
<text x="236" y="795.4" font-size="13.1" text-anchor="middle" fill="#1a1a1a">GSWX (R<tspan font-size="9.6" dy="6">E</tspan><tspan dy="-6">)</tspan></text>
<text transform="translate(121.4,594.15) rotate(-90)" font-size="13.1" text-anchor="middle" fill="#1a1a1a">GSWY (R<tspan font-size="9.6" dy="6">E</tspan><tspan dy="-6">)</tspan></text>
<linearGradient id="cgb" x1="0" y1="0" x2="0" y2="1">
<stop offset="0" stop-color="#ff0000"/>
<stop offset="0.17" stop-color="#ff5200"/>
<stop offset="0.33" stop-color="#fa9c00"/>
<stop offset="0.44" stop-color="#fdd000"/>
<stop offset="0.4999" stop-color="#fff200"/>
<stop offset="0.5001" stop-color="#00e68a"/>
<stop offset="0.67" stop-color="#00a8a4"/>
<stop offset="0.83" stop-color="#0066cc"/>
<stop offset="1" stop-color="#0000ff"/>
</linearGradient>
<rect x="331.3" y="427.3" width="9.1" height="333.7" fill="url(#cgb)"/>
<text x="343.7" y="431.9" font-size="10.4" fill="#333">90</text>
<line x1="337.9" y1="482.92" x2="340.4" y2="482.92" stroke="#444" stroke-width="0.8"/>
<text x="343.7" y="487.52" font-size="10.4" fill="#333">60</text>
<line x1="337.9" y1="538.53" x2="340.4" y2="538.53" stroke="#444" stroke-width="0.8"/>
<text x="343.7" y="543.13" font-size="10.4" fill="#333">30</text>
<line x1="337.9" y1="594.15" x2="340.4" y2="594.15" stroke="#444" stroke-width="0.8"/>
<text x="343.7" y="598.75" font-size="10.4" fill="#333">0</text>
<line x1="337.9" y1="649.77" x2="340.4" y2="649.77" stroke="#444" stroke-width="0.8"/>
<text x="343.7" y="654.37" font-size="10.4" fill="#333">-30</text>
<line x1="337.9" y1="705.38" x2="340.4" y2="705.38" stroke="#444" stroke-width="0.8"/>
<text x="343.7" y="709.98" font-size="10.4" fill="#333">-60</text>
<text x="343.7" y="765.6" font-size="10.4" fill="#333">-90</text>
<text transform="translate(372.9,594.15) rotate(-90)" font-size="12.1" text-anchor="middle" fill="#333">arctan(V⊥y/V⊥x) (°)</text>
<text x="236" y="423.7" font-size="12" text-anchor="middle" fill="#1e1eff">V⊥xy</text>
<rect x="549.71" y="449.05" width="11.26" height="11.27" fill="#00a5a5"/>
<rect x="516.07" y="460.27" width="11.26" height="11.27" fill="#0088b8"/>
<rect x="527.28" y="460.27" width="11.26" height="11.27" fill="#00c196"/>
<rect x="549.71" y="460.27" width="11.26" height="11.27" fill="#f56400"/>
<rect x="560.92" y="460.27" width="11.26" height="11.27" fill="#fa9600"/>
<rect x="516.07" y="471.49" width="11.26" height="11.27" fill="#00e187"/>
<rect x="527.28" y="471.49" width="11.26" height="11.27" fill="#00c196"/>
<rect x="549.71" y="471.49" width="11.26" height="11.27" fill="#f56400"/>
<rect x="516.07" y="482.72" width="11.26" height="11.27" fill="#ffde00"/>
<rect x="527.28" y="482.72" width="11.26" height="11.27" fill="#00c196"/>
<rect x="538.49" y="482.72" width="11.26" height="11.27" fill="#ffde00"/>
<rect x="560.92" y="482.72" width="11.26" height="11.27" fill="#0032e6"/>
<rect x="527.28" y="493.94" width="11.26" height="11.27" fill="#00c196"/>
<rect x="538.49" y="493.94" width="11.26" height="11.27" fill="#f56400"/>
<rect x="549.71" y="493.94" width="11.26" height="11.27" fill="#00e187"/>
<rect x="560.92" y="493.94" width="11.26" height="11.27" fill="#ffde00"/>
<rect x="572.13" y="493.94" width="11.26" height="11.27" fill="#0032e6"/>
<rect x="527.28" y="505.16" width="11.26" height="11.27" fill="#00e187"/>
<rect x="538.49" y="505.16" width="11.26" height="11.27" fill="#00c196"/>
<rect x="549.71" y="505.16" width="11.26" height="11.27" fill="#0088b8"/>
<rect x="560.92" y="505.16" width="11.26" height="11.27" fill="#ffde00"/>
<rect x="572.13" y="505.16" width="11.26" height="11.27" fill="#fdc500"/>
<rect x="527.28" y="516.39" width="11.26" height="11.27" fill="#00c196"/>
<rect x="538.49" y="516.39" width="11.26" height="11.27" fill="#00e187"/>
<rect x="549.71" y="516.39" width="11.26" height="11.27" fill="#ffde00"/>
<rect x="560.92" y="516.39" width="11.26" height="11.27" fill="#00c196"/>
<rect x="572.13" y="516.39" width="11.26" height="11.27" fill="#00c196"/>
<rect x="583.35" y="516.39" width="11.26" height="11.27" fill="#00c196"/>
<rect x="527.28" y="527.61" width="11.26" height="11.27" fill="#00c196"/>
<rect x="538.49" y="527.61" width="11.26" height="11.27" fill="#fdc500"/>
<rect x="549.71" y="527.61" width="11.26" height="11.27" fill="#fff000"/>
<rect x="560.92" y="527.61" width="11.26" height="11.27" fill="#00c196"/>
<rect x="572.13" y="527.61" width="11.26" height="11.27" fill="#00e187"/>
<rect x="583.35" y="527.61" width="11.26" height="11.27" fill="#00c196"/>
<rect x="527.28" y="538.83" width="11.26" height="11.27" fill="#00e187"/>
<rect x="538.49" y="538.83" width="11.26" height="11.27" fill="#00e187"/>
<rect x="549.71" y="538.83" width="11.26" height="11.27" fill="#00e187"/>
<rect x="560.92" y="538.83" width="11.26" height="11.27" fill="#fdc500"/>
<rect x="572.13" y="538.83" width="11.26" height="11.27" fill="#00c196"/>
<rect x="583.35" y="538.83" width="11.26" height="11.27" fill="#006ec8"/>
<rect x="594.56" y="538.83" width="11.26" height="11.27" fill="#0088b8"/>
<rect x="527.28" y="550.06" width="11.26" height="11.27" fill="#fff000"/>
<rect x="538.49" y="550.06" width="11.26" height="11.27" fill="#00c196"/>
<rect x="549.71" y="550.06" width="11.26" height="11.27" fill="#00c196"/>
<rect x="560.92" y="550.06" width="11.26" height="11.27" fill="#00a5a5"/>
<rect x="572.13" y="550.06" width="11.26" height="11.27" fill="#00c196"/>
<rect x="583.35" y="550.06" width="11.26" height="11.27" fill="#00c196"/>
<rect x="527.28" y="561.28" width="11.26" height="11.27" fill="#00c196"/>
<rect x="538.49" y="561.28" width="11.26" height="11.27" fill="#00a5a5"/>
<rect x="549.71" y="561.28" width="11.26" height="11.27" fill="#00c196"/>
<rect x="560.92" y="561.28" width="11.26" height="11.27" fill="#00e187"/>
<rect x="572.13" y="561.28" width="11.26" height="11.27" fill="#00a5a5"/>
<rect x="583.35" y="561.28" width="11.26" height="11.27" fill="#00c196"/>
<rect x="594.56" y="561.28" width="11.26" height="11.27" fill="#00c196"/>
<rect x="527.28" y="572.5" width="11.26" height="11.27" fill="#00c196"/>
<rect x="538.49" y="572.5" width="11.26" height="11.27" fill="#00c196"/>
<rect x="549.71" y="572.5" width="11.26" height="11.27" fill="#00c196"/>
<rect x="560.92" y="572.5" width="11.26" height="11.27" fill="#0088b8"/>
<rect x="572.13" y="572.5" width="11.26" height="11.27" fill="#00a5a5"/>
<rect x="583.35" y="572.5" width="11.26" height="11.27" fill="#00e187"/>
<rect x="594.56" y="572.5" width="11.26" height="11.27" fill="#00c196"/>
<rect x="538.49" y="583.73" width="11.26" height="11.27" fill="#00a5a5"/>
<rect x="549.71" y="583.73" width="11.26" height="11.27" fill="#00a5a5"/>
<rect x="560.92" y="583.73" width="11.26" height="11.27" fill="#00a5a5"/>
<rect x="572.13" y="583.73" width="11.26" height="11.27" fill="#00c196"/>
<rect x="583.35" y="583.73" width="11.26" height="11.27" fill="#ffde00"/>
<rect x="594.56" y="583.73" width="11.26" height="11.27" fill="#fdc500"/>
<rect x="527.28" y="594.95" width="11.26" height="11.27" fill="#00a5a5"/>
<rect x="538.49" y="594.95" width="11.26" height="11.27" fill="#00e187"/>
<rect x="549.71" y="594.95" width="11.26" height="11.27" fill="#00c196"/>
<rect x="560.92" y="594.95" width="11.26" height="11.27" fill="#00c196"/>
<rect x="572.13" y="594.95" width="11.26" height="11.27" fill="#ffde00"/>
<rect x="583.35" y="594.95" width="11.26" height="11.27" fill="#00c196"/>
<rect x="594.56" y="594.95" width="11.26" height="11.27" fill="#fdc500"/>
<rect x="527.28" y="606.17" width="11.26" height="11.27" fill="#00c196"/>
<rect x="538.49" y="606.17" width="11.26" height="11.27" fill="#00c196"/>
<rect x="549.71" y="606.17" width="11.26" height="11.27" fill="#00c196"/>
<rect x="560.92" y="606.17" width="11.26" height="11.27" fill="#00a5a5"/>
<rect x="572.13" y="606.17" width="11.26" height="11.27" fill="#00c196"/>
<rect x="583.35" y="606.17" width="11.26" height="11.27" fill="#00c196"/>
<rect x="594.56" y="606.17" width="11.26" height="11.27" fill="#00e187"/>
<rect x="527.28" y="617.4" width="11.26" height="11.27" fill="#00c196"/>
<rect x="538.49" y="617.4" width="11.26" height="11.27" fill="#00c196"/>
<rect x="549.71" y="617.4" width="11.26" height="11.27" fill="#00c196"/>
<rect x="560.92" y="617.4" width="11.26" height="11.27" fill="#00a5a5"/>
<rect x="572.13" y="617.4" width="11.26" height="11.27" fill="#00e187"/>
<rect x="583.35" y="617.4" width="11.26" height="11.27" fill="#00c196"/>
<rect x="594.56" y="617.4" width="11.26" height="11.27" fill="#00a5a5"/>
<rect x="527.28" y="628.62" width="11.26" height="11.27" fill="#00e187"/>
<rect x="538.49" y="628.62" width="11.26" height="11.27" fill="#00a5a5"/>
<rect x="549.71" y="628.62" width="11.26" height="11.27" fill="#00c196"/>
<rect x="560.92" y="628.62" width="11.26" height="11.27" fill="#00c196"/>
<rect x="572.13" y="628.62" width="11.26" height="11.27" fill="#0088b8"/>
<rect x="583.35" y="628.62" width="11.26" height="11.27" fill="#00c196"/>
<rect x="527.28" y="639.84" width="11.26" height="11.27" fill="#00e187"/>
<rect x="538.49" y="639.84" width="11.26" height="11.27" fill="#00c196"/>
<rect x="549.71" y="639.84" width="11.26" height="11.27" fill="#00c196"/>
<rect x="560.92" y="639.84" width="11.26" height="11.27" fill="#00c196"/>
<rect x="572.13" y="639.84" width="11.26" height="11.27" fill="#00c196"/>
<rect x="583.35" y="639.84" width="11.26" height="11.27" fill="#00a5a5"/>
<rect x="594.56" y="639.84" width="11.26" height="11.27" fill="#fa0a00"/>
<rect x="527.28" y="651.07" width="11.26" height="11.27" fill="#fdc500"/>
<rect x="538.49" y="651.07" width="11.26" height="11.27" fill="#00c196"/>
<rect x="549.71" y="651.07" width="11.26" height="11.27" fill="#00c196"/>
<rect x="560.92" y="651.07" width="11.26" height="11.27" fill="#00c196"/>
<rect x="572.13" y="651.07" width="11.26" height="11.27" fill="#00e187"/>
<rect x="594.56" y="651.07" width="11.26" height="11.27" fill="#fff000"/>
<rect x="516.07" y="662.29" width="11.26" height="11.27" fill="#0088b8"/>
<rect x="527.28" y="662.29" width="11.26" height="11.27" fill="#00c196"/>
<rect x="538.49" y="662.29" width="11.26" height="11.27" fill="#00c196"/>
<rect x="549.71" y="662.29" width="11.26" height="11.27" fill="#00c196"/>
<rect x="560.92" y="662.29" width="11.26" height="11.27" fill="#00c196"/>
<rect x="572.13" y="662.29" width="11.26" height="11.27" fill="#00c196"/>
<rect x="583.35" y="662.29" width="11.26" height="11.27" fill="#fdc500"/>
<rect x="516.07" y="673.51" width="11.26" height="11.27" fill="#00c196"/>
<rect x="527.28" y="673.51" width="11.26" height="11.27" fill="#ffde00"/>
<rect x="538.49" y="673.51" width="11.26" height="11.27" fill="#00c196"/>
<rect x="549.71" y="673.51" width="11.26" height="11.27" fill="#00c196"/>
<rect x="560.92" y="673.51" width="11.26" height="11.27" fill="#00e187"/>
<rect x="572.13" y="673.51" width="11.26" height="11.27" fill="#00c196"/>
<rect x="516.07" y="684.74" width="11.26" height="11.27" fill="#00e187"/>
<rect x="527.28" y="684.74" width="11.26" height="11.27" fill="#00e187"/>
<rect x="538.49" y="684.74" width="11.26" height="11.27" fill="#fdc500"/>
<rect x="549.71" y="684.74" width="11.26" height="11.27" fill="#ffde00"/>
<rect x="560.92" y="684.74" width="11.26" height="11.27" fill="#00c196"/>
<rect x="572.13" y="684.74" width="11.26" height="11.27" fill="#00e187"/>
<rect x="583.35" y="684.74" width="11.26" height="11.27" fill="#00e187"/>
<rect x="504.85" y="695.96" width="11.26" height="11.27" fill="#0032e6"/>
<rect x="516.07" y="695.96" width="11.26" height="11.27" fill="#ffde00"/>
<rect x="527.28" y="695.96" width="11.26" height="11.27" fill="#00a5a5"/>
<rect x="538.49" y="695.96" width="11.26" height="11.27" fill="#00a5a5"/>
<rect x="549.71" y="695.96" width="11.26" height="11.27" fill="#00c196"/>
<rect x="560.92" y="695.96" width="11.26" height="11.27" fill="#00c196"/>
<rect x="504.85" y="707.18" width="11.26" height="11.27" fill="#fa0a00"/>
<rect x="516.07" y="707.18" width="11.26" height="11.27" fill="#00e187"/>
<rect x="527.28" y="707.18" width="11.26" height="11.27" fill="#00e187"/>
<rect x="538.49" y="707.18" width="11.26" height="11.27" fill="#fa9600"/>
<rect x="549.71" y="707.18" width="11.26" height="11.27" fill="#fff000"/>
<rect x="560.92" y="707.18" width="11.26" height="11.27" fill="#006ec8"/>
<rect x="572.13" y="707.18" width="11.26" height="11.27" fill="#0032e6"/>
<rect x="504.85" y="718.41" width="11.26" height="11.27" fill="#fa9600"/>
<rect x="516.07" y="718.41" width="11.26" height="11.27" fill="#00e187"/>
<rect x="527.28" y="718.41" width="11.26" height="11.27" fill="#fdc500"/>
<rect x="538.49" y="718.41" width="11.26" height="11.27" fill="#00e187"/>
<rect x="572.13" y="718.41" width="11.26" height="11.27" fill="#00e187"/>
<rect x="538.49" y="729.63" width="11.26" height="11.27" fill="#00e187"/>
<rect x="560.92" y="729.63" width="11.26" height="11.27" fill="#00c196"/>
<path d="M471.21 426.6V763.3M482.43 426.6V763.3M493.64 426.6V763.3M504.85 426.6V763.3M516.07 426.6V763.3M527.28 426.6V763.3M538.49 426.6V763.3M549.71 426.6V763.3M560.92 426.6V763.3M572.13 426.6V763.3M583.35 426.6V763.3M594.56 426.6V763.3M605.77 426.6V763.3M616.99 426.6V763.3M460 437.82H628.2M460 449.05H628.2M460 460.27H628.2M460 471.49H628.2M460 482.72H628.2M460 493.94H628.2M460 505.16H628.2M460 516.39H628.2M460 527.61H628.2M460 538.83H628.2M460 550.06H628.2M460 561.28H628.2M460 572.5H628.2M460 583.73H628.2M460 594.95H628.2M460 606.17H628.2M460 617.4H628.2M460 628.62H628.2M460 639.84H628.2M460 651.07H628.2M460 662.29H628.2M460 673.51H628.2M460 684.74H628.2M460 695.96H628.2M460 707.18H628.2M460 718.41H628.2M460 729.63H628.2M460 740.85H628.2M460 752.08H628.2" stroke="rgba(0,0,0,0.42)" stroke-width="1" fill="none"/>
<path d="M471.21 763.3v-3.4M471.21 426.6v3.4M482.43 763.3v-3.4M482.43 426.6v3.4M493.64 763.3v-3.4M493.64 426.6v3.4M504.85 763.3v-3.4M504.85 426.6v3.4M516.07 763.3v-3.4M516.07 426.6v3.4M527.28 763.3v-3.4M527.28 426.6v3.4M538.49 763.3v-3.4M538.49 426.6v3.4M549.71 763.3v-3.4M549.71 426.6v3.4M560.92 763.3v-3.4M560.92 426.6v3.4M572.13 763.3v-3.4M572.13 426.6v3.4M583.35 763.3v-3.4M583.35 426.6v3.4M594.56 763.3v-3.4M594.56 426.6v3.4M605.77 763.3v-3.4M605.77 426.6v3.4M616.99 763.3v-3.4M616.99 426.6v3.4M460 437.82h3.4M628.2 437.82h-3.4M460 449.05h3.4M628.2 449.05h-3.4M460 460.27h3.4M628.2 460.27h-3.4M460 471.49h3.4M628.2 471.49h-3.4M460 482.72h3.4M628.2 482.72h-3.4M460 493.94h3.4M628.2 493.94h-3.4M460 505.16h3.4M628.2 505.16h-3.4M460 516.39h3.4M628.2 516.39h-3.4M460 527.61h3.4M628.2 527.61h-3.4M460 538.83h3.4M628.2 538.83h-3.4M460 550.06h3.4M628.2 550.06h-3.4M460 561.28h3.4M628.2 561.28h-3.4M460 572.5h3.4M628.2 572.5h-3.4M460 583.73h3.4M628.2 583.73h-3.4M460 594.95h3.4M628.2 594.95h-3.4M460 606.17h3.4M628.2 606.17h-3.4M460 617.4h3.4M628.2 617.4h-3.4M460 628.62h3.4M628.2 628.62h-3.4M460 639.84h3.4M628.2 639.84h-3.4M460 651.07h3.4M628.2 651.07h-3.4M460 662.29h3.4M628.2 662.29h-3.4M460 673.51h3.4M628.2 673.51h-3.4M460 684.74h3.4M628.2 684.74h-3.4M460 695.96h3.4M628.2 695.96h-3.4M460 707.18h3.4M628.2 707.18h-3.4M460 718.41h3.4M628.2 718.41h-3.4M460 729.63h3.4M628.2 729.63h-3.4M460 740.85h3.4M628.2 740.85h-3.4M460 752.08h3.4M628.2 752.08h-3.4" stroke="#333" stroke-width="1" fill="none"/>
<rect x="460" y="426.6" width="168.2" height="336.7" fill="none" stroke="#333" stroke-width="1.05"/>
<path d="M555.31 454.66L549.01 451.16" stroke="#000" stroke-width="0.85"/>
<path d="M549.56 450.17L546.31 449.66L548.46 452.15Z" stroke="#000" stroke-width="0.6" fill="#000" stroke-linejoin="round"/>
<path d="M521.67 465.88L513.83 460.18" stroke="#000" stroke-width="0.85"/>
<path d="M514.68 459L510.67 457.88L512.97 461.35Z" stroke="#000" stroke-width="0.6" fill="#000" stroke-linejoin="round"/>
<path d="M532.89 465.88L525.89 462.38" stroke="#000" stroke-width="0.85"/>
<path d="M526.44 461.28L522.89 460.88L525.34 463.48Z" stroke="#000" stroke-width="0.6" fill="#000" stroke-linejoin="round"/>
<path d="M555.31 465.88L547.81 474.89" stroke="#000" stroke-width="0.85"/>
<path d="M546.7 473.96L545.31 477.88L548.92 475.81Z" stroke="#000" stroke-width="0.6" fill="#000" stroke-linejoin="round"/>
<path d="M566.53 465.88L551.53 481.88M554.27 475.43L551.53 481.88L557.79 478.73" stroke="#000" stroke-width="0.85" fill="none"/>
<path d="M521.67 477.11L513.27 474.31" stroke="#000" stroke-width="0.85"/>
<path d="M513.71 472.99L509.67 473.11L512.83 475.62Z" stroke="#000" stroke-width="0.6" fill="#000" stroke-linejoin="round"/>
<path d="M532.89 477.11L525.19 475.71" stroke="#000" stroke-width="0.85"/>
<path d="M525.41 474.5L521.89 475.11L524.97 476.92Z" stroke="#000" stroke-width="0.6" fill="#000" stroke-linejoin="round"/>
<path d="M555.31 477.11L551.81 483.41" stroke="#000" stroke-width="0.85"/>
<path d="M550.82 482.86L550.31 486.11L552.8 483.96Z" stroke="#000" stroke-width="0.6" fill="#000" stroke-linejoin="round"/>
<path d="M521.67 488.33L513.97 489.03" stroke="#000" stroke-width="0.85"/>
<path d="M513.86 487.82L510.67 489.33L514.08 490.24Z" stroke="#000" stroke-width="0.6" fill="#000" stroke-linejoin="round"/>
<path d="M532.89 488.33L525.89 484.83" stroke="#000" stroke-width="0.85"/>
<path d="M526.44 483.73L522.89 483.33L525.34 485.93Z" stroke="#000" stroke-width="0.6" fill="#000" stroke-linejoin="round"/>
<path d="M544.1 488.33L537.1 489.73" stroke="#000" stroke-width="0.85"/>
<path d="M536.88 488.63L534.1 490.33L537.32 490.83Z" stroke="#000" stroke-width="0.6" fill="#000" stroke-linejoin="round"/>
<path d="M566.53 488.33L563.03 480.63" stroke="#000" stroke-width="0.85"/>
<path d="M564.24 480.08L561.53 477.33L561.82 481.18Z" stroke="#000" stroke-width="0.6" fill="#000" stroke-linejoin="round"/>
<path d="M532.89 499.55L526.59 496.05" stroke="#000" stroke-width="0.85"/>
<path d="M527.14 495.06L523.89 494.55L526.04 497.04Z" stroke="#000" stroke-width="0.6" fill="#000" stroke-linejoin="round"/>
<path d="M544.1 499.55L539.2 505.15" stroke="#000" stroke-width="0.85"/>
<path d="M538.32 504.38L537.1 507.55L540.08 505.92Z" stroke="#000" stroke-width="0.6" fill="#000" stroke-linejoin="round"/>
<path d="M555.31 499.55L547.61 498.85" stroke="#000" stroke-width="0.85"/>
<path d="M547.72 497.64L544.31 498.55L547.5 500.06Z" stroke="#000" stroke-width="0.6" fill="#000" stroke-linejoin="round"/>
<path d="M566.53 499.55L560.93 499.55" stroke="#000" stroke-width="0.85"/>
<path d="M560.93 498.45L558.53 499.55L560.93 500.65Z" stroke="#000" stroke-width="0.6" fill="#000" stroke-linejoin="round"/>
<path d="M577.74 499.55L577 488.44" stroke="#000" stroke-width="0.85"/>
<path d="M578.45 488.35L576.74 484.55L575.55 488.54Z" stroke="#000" stroke-width="0.6" fill="#000" stroke-linejoin="round"/>
<path d="M532.89 510.77L525.19 510.07" stroke="#000" stroke-width="0.85"/>
<path d="M525.3 508.87L521.89 509.77L525.08 511.28Z" stroke="#000" stroke-width="0.6" fill="#000" stroke-linejoin="round"/>
<path d="M544.1 510.77L535.7 508.67" stroke="#000" stroke-width="0.85"/>
<path d="M536.03 507.35L532.1 507.77L535.37 509.99Z" stroke="#000" stroke-width="0.6" fill="#000" stroke-linejoin="round"/>
<path d="M555.31 510.77L549.01 505.17" stroke="#000" stroke-width="0.85"/>
<path d="M549.89 504.18L546.31 502.77L548.13 506.16Z" stroke="#000" stroke-width="0.6" fill="#000" stroke-linejoin="round"/>
<path d="M566.53 510.77L558.83 510.77" stroke="#000" stroke-width="0.85"/>
<path d="M558.83 509.56L555.53 510.77L558.83 511.98Z" stroke="#000" stroke-width="0.6" fill="#000" stroke-linejoin="round"/>
<path d="M577.74 510.77L568.54 512.9" stroke="#000" stroke-width="0.85"/>
<path d="M568.21 511.49L564.74 513.77L568.87 514.31Z" stroke="#000" stroke-width="0.6" fill="#000" stroke-linejoin="round"/>
<path d="M532.89 522L522.37 516.74" stroke="#000" stroke-width="0.85"/>
<path d="M523.02 515.45L518.89 515L521.73 518.04Z" stroke="#000" stroke-width="0.6" fill="#000" stroke-linejoin="round"/>
<path d="M544.1 522L534.95 520.59" stroke="#000" stroke-width="0.85"/>
<path d="M535.17 519.16L531.1 520L534.73 522.02Z" stroke="#000" stroke-width="0.6" fill="#000" stroke-linejoin="round"/>
<path d="M555.31 522L547.61 522.7" stroke="#000" stroke-width="0.85"/>
<path d="M547.5 521.49L544.31 523L547.72 523.91Z" stroke="#000" stroke-width="0.6" fill="#000" stroke-linejoin="round"/>
<path d="M566.53 522L557.17 518.4" stroke="#000" stroke-width="0.85"/>
<path d="M557.69 517.05L553.53 517L556.65 519.75Z" stroke="#000" stroke-width="0.6" fill="#000" stroke-linejoin="round"/>
<path d="M577.74 522L569.34 518.5" stroke="#000" stroke-width="0.85"/>
<path d="M569.89 517.18L565.74 517L568.79 519.82Z" stroke="#000" stroke-width="0.6" fill="#000" stroke-linejoin="round"/>
<path d="M588.95 522L576.74 518.94" stroke="#000" stroke-width="0.85"/>
<path d="M577.09 517.54L572.95 518L576.39 520.35Z" stroke="#000" stroke-width="0.6" fill="#000" stroke-linejoin="round"/>
<path d="M532.89 533.22L521.65 530.23" stroke="#000" stroke-width="0.85"/>
<path d="M522.03 528.83L517.89 529.22L521.28 531.63Z" stroke="#000" stroke-width="0.6" fill="#000" stroke-linejoin="round"/>
<path d="M544.1 533.22L536.4 535.32" stroke="#000" stroke-width="0.85"/>
<path d="M536.07 534.11L533.1 536.22L536.73 536.53Z" stroke="#000" stroke-width="0.6" fill="#000" stroke-linejoin="round"/>
<path d="M555.31 533.22L546.17 534.63" stroke="#000" stroke-width="0.85"/>
<path d="M545.95 533.2L542.31 535.22L546.39 536.06Z" stroke="#000" stroke-width="0.6" fill="#000" stroke-linejoin="round"/>
<path d="M566.53 533.22L557.25 530.37" stroke="#000" stroke-width="0.85"/>
<path d="M557.68 528.98L553.53 529.22L556.83 531.75Z" stroke="#000" stroke-width="0.6" fill="#000" stroke-linejoin="round"/>
<path d="M577.74 533.22L569.34 532.52" stroke="#000" stroke-width="0.85"/>
<path d="M569.45 531.2L565.74 532.22L569.23 533.84Z" stroke="#000" stroke-width="0.6" fill="#000" stroke-linejoin="round"/>
<path d="M588.95 533.22L580.44 528.97" stroke="#000" stroke-width="0.85"/>
<path d="M581.09 527.67L576.95 527.22L579.79 530.26Z" stroke="#000" stroke-width="0.6" fill="#000" stroke-linejoin="round"/>
<path d="M532.89 544.44L525.19 543.04" stroke="#000" stroke-width="0.85"/>
<path d="M525.41 541.83L521.89 542.44L524.97 544.25Z" stroke="#000" stroke-width="0.6" fill="#000" stroke-linejoin="round"/>
<path d="M544.1 544.44L534.99 543.74" stroke="#000" stroke-width="0.85"/>
<path d="M535.1 542.31L531.1 543.44L534.88 545.17Z" stroke="#000" stroke-width="0.6" fill="#000" stroke-linejoin="round"/>
<path d="M555.31 544.44L546.21 544.44" stroke="#000" stroke-width="0.85"/>
<path d="M546.21 543.01L542.31 544.44L546.21 545.87Z" stroke="#000" stroke-width="0.6" fill="#000" stroke-linejoin="round"/>
<path d="M566.53 544.44L558.13 545.84" stroke="#000" stroke-width="0.85"/>
<path d="M557.91 544.52L554.53 546.44L558.35 547.16Z" stroke="#000" stroke-width="0.6" fill="#000" stroke-linejoin="round"/>
<path d="M577.74 544.44L569.34 541.64" stroke="#000" stroke-width="0.85"/>
<path d="M569.78 540.32L565.74 540.44L568.9 542.97Z" stroke="#000" stroke-width="0.6" fill="#000" stroke-linejoin="round"/>
<path d="M588.95 544.44L584.75 538.84" stroke="#000" stroke-width="0.85"/>
<path d="M585.63 538.18L582.95 536.44L583.87 539.5Z" stroke="#000" stroke-width="0.6" fill="#000" stroke-linejoin="round"/>
<path d="M600.17 544.44L593.17 539.54" stroke="#000" stroke-width="0.85"/>
<path d="M593.94 538.44L590.17 537.44L592.4 540.64Z" stroke="#000" stroke-width="0.6" fill="#000" stroke-linejoin="round"/>
<path d="M532.89 555.67L523.79 555.67" stroke="#000" stroke-width="0.85"/>
<path d="M523.79 554.24L519.89 555.67L523.79 557.1Z" stroke="#000" stroke-width="0.6" fill="#000" stroke-linejoin="round"/>
<path d="M544.1 555.67L537.1 552.17" stroke="#000" stroke-width="0.85"/>
<path d="M537.65 551.07L534.1 550.67L536.55 553.27Z" stroke="#000" stroke-width="0.6" fill="#000" stroke-linejoin="round"/>
<path d="M555.31 555.67L546.11 553.55" stroke="#000" stroke-width="0.85"/>
<path d="M546.44 552.13L542.31 552.67L545.79 554.96Z" stroke="#000" stroke-width="0.6" fill="#000" stroke-linejoin="round"/>
<path d="M566.53 555.67L558.83 552.17" stroke="#000" stroke-width="0.85"/>
<path d="M559.38 550.96L555.53 550.67L558.28 553.38Z" stroke="#000" stroke-width="0.6" fill="#000" stroke-linejoin="round"/>
<path d="M577.74 555.67L569.34 554.27" stroke="#000" stroke-width="0.85"/>
<path d="M569.56 552.95L565.74 553.67L569.12 555.59Z" stroke="#000" stroke-width="0.6" fill="#000" stroke-linejoin="round"/>
<path d="M588.95 555.67L578.81 554.22" stroke="#000" stroke-width="0.85"/>
<path d="M579.02 552.78L574.95 553.67L578.61 555.66Z" stroke="#000" stroke-width="0.6" fill="#000" stroke-linejoin="round"/>
<path d="M532.89 566.89L523.69 564.77" stroke="#000" stroke-width="0.85"/>
<path d="M524.01 563.36L519.89 563.89L523.36 566.18Z" stroke="#000" stroke-width="0.6" fill="#000" stroke-linejoin="round"/>
<path d="M544.1 566.89L536.4 563.39" stroke="#000" stroke-width="0.85"/>
<path d="M536.95 562.18L533.1 561.89L535.85 564.6Z" stroke="#000" stroke-width="0.6" fill="#000" stroke-linejoin="round"/>
<path d="M555.31 566.89L546.91 564.79" stroke="#000" stroke-width="0.85"/>
<path d="M547.24 563.47L543.31 563.89L546.58 566.11Z" stroke="#000" stroke-width="0.6" fill="#000" stroke-linejoin="round"/>
<path d="M566.53 566.89L557.42 566.19" stroke="#000" stroke-width="0.85"/>
<path d="M557.53 564.76L553.53 565.89L557.31 567.62Z" stroke="#000" stroke-width="0.6" fill="#000" stroke-linejoin="round"/>
<path d="M577.74 566.89L570.04 564.09" stroke="#000" stroke-width="0.85"/>
<path d="M570.48 562.88L566.74 562.89L569.6 565.3Z" stroke="#000" stroke-width="0.6" fill="#000" stroke-linejoin="round"/>
<path d="M588.95 566.89L580.55 565.49" stroke="#000" stroke-width="0.85"/>
<path d="M580.77 564.17L576.95 564.89L580.33 566.81Z" stroke="#000" stroke-width="0.6" fill="#000" stroke-linejoin="round"/>
<path d="M600.17 566.89L590.81 563.29" stroke="#000" stroke-width="0.85"/>
<path d="M591.33 561.94L587.17 561.89L590.29 564.65Z" stroke="#000" stroke-width="0.6" fill="#000" stroke-linejoin="round"/>
<path d="M532.89 578.12L525.19 576.01" stroke="#000" stroke-width="0.85"/>
<path d="M525.52 574.8L521.89 575.12L524.86 577.23Z" stroke="#000" stroke-width="0.6" fill="#000" stroke-linejoin="round"/>
<path d="M544.1 578.12L533.68 573.65" stroke="#000" stroke-width="0.85"/>
<path d="M534.26 572.32L530.1 572.12L533.11 574.98Z" stroke="#000" stroke-width="0.6" fill="#000" stroke-linejoin="round"/>
<path d="M555.31 578.12L546.91 575.32" stroke="#000" stroke-width="0.85"/>
<path d="M547.35 574L543.31 574.12L546.47 576.64Z" stroke="#000" stroke-width="0.6" fill="#000" stroke-linejoin="round"/>
<path d="M566.53 578.12L555.49 568.65" stroke="#000" stroke-width="0.85"/>
<path d="M556.43 567.55L552.53 566.12L554.54 569.75Z" stroke="#000" stroke-width="0.6" fill="#000" stroke-linejoin="round"/>
<path d="M577.74 578.12L570.74 573.91" stroke="#000" stroke-width="0.85"/>
<path d="M571.4 572.81L567.74 572.12L570.08 575.01Z" stroke="#000" stroke-width="0.6" fill="#000" stroke-linejoin="round"/>
<path d="M588.95 578.12L581.95 575.32" stroke="#000" stroke-width="0.85"/>
<path d="M582.39 574.22L578.95 574.12L581.51 576.42Z" stroke="#000" stroke-width="0.6" fill="#000" stroke-linejoin="round"/>
<path d="M600.17 578.12L591.77 575.32" stroke="#000" stroke-width="0.85"/>
<path d="M592.21 574L588.17 574.12L591.33 576.64Z" stroke="#000" stroke-width="0.6" fill="#000" stroke-linejoin="round"/>
<path d="M544.1 589.34L537.1 585.14" stroke="#000" stroke-width="0.85"/>
<path d="M537.76 584.04L534.1 583.34L536.44 586.24Z" stroke="#000" stroke-width="0.6" fill="#000" stroke-linejoin="round"/>
<path d="M555.31 589.34L546.68 584.3" stroke="#000" stroke-width="0.85"/>
<path d="M547.41 583.05L543.31 582.34L545.95 585.56Z" stroke="#000" stroke-width="0.6" fill="#000" stroke-linejoin="round"/>
<path d="M566.53 589.34L558.68 583.63" stroke="#000" stroke-width="0.85"/>
<path d="M559.53 582.46L555.53 581.34L557.83 584.8Z" stroke="#000" stroke-width="0.6" fill="#000" stroke-linejoin="round"/>
<path d="M577.74 589.34L568.38 585.74" stroke="#000" stroke-width="0.85"/>
<path d="M568.9 584.39L564.74 584.34L567.86 587.09Z" stroke="#000" stroke-width="0.6" fill="#000" stroke-linejoin="round"/>
<path d="M588.95 589.34L578.81 590.79" stroke="#000" stroke-width="0.85"/>
<path d="M578.61 589.35L574.95 591.34L579.02 592.22Z" stroke="#000" stroke-width="0.6" fill="#000" stroke-linejoin="round"/>
<path d="M600.17 589.34L580.17 594.34M585.62 590.64L580.17 594.34L586.72 595.04" stroke="#000" stroke-width="0.85" fill="none"/>
<path d="M532.89 600.56L525.89 596.36" stroke="#000" stroke-width="0.85"/>
<path d="M526.55 595.26L522.89 594.56L525.23 597.46Z" stroke="#000" stroke-width="0.6" fill="#000" stroke-linejoin="round"/>
<path d="M544.1 600.56L534.95 599.15" stroke="#000" stroke-width="0.85"/>
<path d="M535.17 597.72L531.1 598.56L534.73 600.58Z" stroke="#000" stroke-width="0.6" fill="#000" stroke-linejoin="round"/>
<path d="M555.31 600.56L546.91 597.76" stroke="#000" stroke-width="0.85"/>
<path d="M547.35 596.44L543.31 596.56L546.47 599.08Z" stroke="#000" stroke-width="0.6" fill="#000" stroke-linejoin="round"/>
<path d="M566.53 600.56L557.33 598.44" stroke="#000" stroke-width="0.85"/>
<path d="M557.65 597.03L553.53 597.56L557 599.85Z" stroke="#000" stroke-width="0.6" fill="#000" stroke-linejoin="round"/>
<path d="M577.74 600.56L571.44 601.26" stroke="#000" stroke-width="0.85"/>
<path d="M571.32 600.17L568.74 601.56L571.56 602.35Z" stroke="#000" stroke-width="0.6" fill="#000" stroke-linejoin="round"/>
<path d="M588.95 600.56L579.59 596.96" stroke="#000" stroke-width="0.85"/>
<path d="M580.11 595.61L575.95 595.56L579.07 598.32Z" stroke="#000" stroke-width="0.6" fill="#000" stroke-linejoin="round"/>
<path d="M600.17 600.56L592.47 603.36" stroke="#000" stroke-width="0.85"/>
<path d="M592.03 602.15L589.17 604.56L592.91 604.57Z" stroke="#000" stroke-width="0.6" fill="#000" stroke-linejoin="round"/>
<path d="M532.89 611.78L523.53 608.19" stroke="#000" stroke-width="0.85"/>
<path d="M524.05 606.83L519.89 606.78L523.01 609.54Z" stroke="#000" stroke-width="0.6" fill="#000" stroke-linejoin="round"/>
<path d="M544.1 611.78L535.7 608.28" stroke="#000" stroke-width="0.85"/>
<path d="M536.25 606.96L532.1 606.78L535.15 609.61Z" stroke="#000" stroke-width="0.6" fill="#000" stroke-linejoin="round"/>
<path d="M555.31 611.78L547.61 608.28" stroke="#000" stroke-width="0.85"/>
<path d="M548.16 607.07L544.31 606.78L547.06 609.5Z" stroke="#000" stroke-width="0.6" fill="#000" stroke-linejoin="round"/>
<path d="M566.53 611.78L559.53 608.99" stroke="#000" stroke-width="0.85"/>
<path d="M559.97 607.88L556.53 607.78L559.09 610.09Z" stroke="#000" stroke-width="0.6" fill="#000" stroke-linejoin="round"/>
<path d="M577.74 611.78L570.74 608.28" stroke="#000" stroke-width="0.85"/>
<path d="M571.29 607.18L567.74 606.78L570.19 609.38Z" stroke="#000" stroke-width="0.6" fill="#000" stroke-linejoin="round"/>
<path d="M588.95 611.78L582.65 608.99" stroke="#000" stroke-width="0.85"/>
<path d="M583.1 607.98L579.95 607.78L582.21 609.99Z" stroke="#000" stroke-width="0.6" fill="#000" stroke-linejoin="round"/>
<path d="M600.17 611.78L591.77 609.68" stroke="#000" stroke-width="0.85"/>
<path d="M592.1 608.36L588.17 608.78L591.44 611Z" stroke="#000" stroke-width="0.6" fill="#000" stroke-linejoin="round"/>
<path d="M532.89 623.01L521.59 619.24" stroke="#000" stroke-width="0.85"/>
<path d="M522.05 617.87L517.89 618.01L521.13 620.62Z" stroke="#000" stroke-width="0.6" fill="#000" stroke-linejoin="round"/>
<path d="M544.1 623.01L534.83 620.16" stroke="#000" stroke-width="0.85"/>
<path d="M535.25 618.77L531.1 619.01L534.4 621.54Z" stroke="#000" stroke-width="0.6" fill="#000" stroke-linejoin="round"/>
<path d="M555.31 623.01L546.91 620.21" stroke="#000" stroke-width="0.85"/>
<path d="M547.35 618.89L543.31 619.01L546.47 621.53Z" stroke="#000" stroke-width="0.6" fill="#000" stroke-linejoin="round"/>
<path d="M566.53 623.01L555.06 617.66" stroke="#000" stroke-width="0.85"/>
<path d="M555.67 616.34L551.53 616.01L554.45 618.97Z" stroke="#000" stroke-width="0.6" fill="#000" stroke-linejoin="round"/>
<path d="M577.74 623.01L569.34 622.31" stroke="#000" stroke-width="0.85"/>
<path d="M569.45 620.99L565.74 622.01L569.23 623.63Z" stroke="#000" stroke-width="0.6" fill="#000" stroke-linejoin="round"/>
<path d="M588.95 623.01L581.25 620.21" stroke="#000" stroke-width="0.85"/>
<path d="M581.69 619L577.95 619.01L580.81 621.42Z" stroke="#000" stroke-width="0.6" fill="#000" stroke-linejoin="round"/>
<path d="M600.17 623.01L592.46 618.1" stroke="#000" stroke-width="0.85"/>
<path d="M593.23 616.89L589.17 616.01L591.69 619.31Z" stroke="#000" stroke-width="0.6" fill="#000" stroke-linejoin="round"/>
<path d="M532.89 634.23L526.59 632.83" stroke="#000" stroke-width="0.85"/>
<path d="M526.83 631.76L523.89 632.23L526.35 633.91Z" stroke="#000" stroke-width="0.6" fill="#000" stroke-linejoin="round"/>
<path d="M544.1 634.23L535.34 628.39" stroke="#000" stroke-width="0.85"/>
<path d="M536.15 627.19L532.1 626.23L534.54 629.6Z" stroke="#000" stroke-width="0.6" fill="#000" stroke-linejoin="round"/>
<path d="M555.31 634.23L546.8 629.98" stroke="#000" stroke-width="0.85"/>
<path d="M547.45 628.68L543.31 628.23L546.15 631.27Z" stroke="#000" stroke-width="0.6" fill="#000" stroke-linejoin="round"/>
<path d="M566.53 634.23L558.01 629.98" stroke="#000" stroke-width="0.85"/>
<path d="M558.66 628.68L554.53 628.23L557.37 631.27Z" stroke="#000" stroke-width="0.6" fill="#000" stroke-linejoin="round"/>
<path d="M577.74 634.23L570.74 628.63" stroke="#000" stroke-width="0.85"/>
<path d="M571.62 627.53L567.74 626.23L569.86 629.73Z" stroke="#000" stroke-width="0.6" fill="#000" stroke-linejoin="round"/>
<path d="M588.95 634.23L581.24 629.33" stroke="#000" stroke-width="0.85"/>
<path d="M582.01 628.12L577.95 627.23L580.47 630.54Z" stroke="#000" stroke-width="0.6" fill="#000" stroke-linejoin="round"/>
<path d="M532.89 645.45L523.78 644.75" stroke="#000" stroke-width="0.85"/>
<path d="M523.89 643.32L519.89 644.45L523.67 646.18Z" stroke="#000" stroke-width="0.6" fill="#000" stroke-linejoin="round"/>
<path d="M544.1 645.45L535.7 643.35" stroke="#000" stroke-width="0.85"/>
<path d="M536.03 642.03L532.1 642.45L535.37 644.67Z" stroke="#000" stroke-width="0.6" fill="#000" stroke-linejoin="round"/>
<path d="M555.31 645.45L546.68 640.42" stroke="#000" stroke-width="0.85"/>
<path d="M547.41 639.17L543.31 638.45L545.95 641.67Z" stroke="#000" stroke-width="0.6" fill="#000" stroke-linejoin="round"/>
<path d="M566.53 645.45L557.25 642.6" stroke="#000" stroke-width="0.85"/>
<path d="M557.68 641.22L553.53 641.45L556.83 643.99Z" stroke="#000" stroke-width="0.6" fill="#000" stroke-linejoin="round"/>
<path d="M577.74 645.45L570.04 642.65" stroke="#000" stroke-width="0.85"/>
<path d="M570.48 641.44L566.74 641.45L569.6 643.87Z" stroke="#000" stroke-width="0.6" fill="#000" stroke-linejoin="round"/>
<path d="M588.95 645.45L577.1 636.76" stroke="#000" stroke-width="0.85"/>
<path d="M577.96 635.59L573.95 634.45L576.24 637.93Z" stroke="#000" stroke-width="0.6" fill="#000" stroke-linejoin="round"/>
<path d="M600.17 645.45L599.43 656.56" stroke="#000" stroke-width="0.85"/>
<path d="M597.98 656.47L599.17 660.45L600.87 656.66Z" stroke="#000" stroke-width="0.6" fill="#000" stroke-linejoin="round"/>
<path d="M532.89 656.68L525.19 658.78" stroke="#000" stroke-width="0.85"/>
<path d="M524.86 657.57L521.89 659.68L525.52 659.99Z" stroke="#000" stroke-width="0.6" fill="#000" stroke-linejoin="round"/>
<path d="M544.1 656.68L535.7 653.88" stroke="#000" stroke-width="0.85"/>
<path d="M536.14 652.56L532.1 652.68L535.26 655.2Z" stroke="#000" stroke-width="0.6" fill="#000" stroke-linejoin="round"/>
<path d="M555.31 656.68L548.31 655.28" stroke="#000" stroke-width="0.85"/>
<path d="M548.53 654.18L545.31 654.68L548.09 656.38Z" stroke="#000" stroke-width="0.6" fill="#000" stroke-linejoin="round"/>
<path d="M566.53 656.68L557.17 653.08" stroke="#000" stroke-width="0.85"/>
<path d="M557.69 651.73L553.53 651.68L556.65 654.43Z" stroke="#000" stroke-width="0.6" fill="#000" stroke-linejoin="round"/>
<path d="M577.74 656.68L569.34 655.98" stroke="#000" stroke-width="0.85"/>
<path d="M569.45 654.66L565.74 655.68L569.23 657.3Z" stroke="#000" stroke-width="0.6" fill="#000" stroke-linejoin="round"/>
<path d="M600.17 656.68L591.07 656.68" stroke="#000" stroke-width="0.85"/>
<path d="M591.07 655.25L587.17 656.68L591.07 658.11Z" stroke="#000" stroke-width="0.6" fill="#000" stroke-linejoin="round"/>
<path d="M521.67 667.9L510.63 658.44" stroke="#000" stroke-width="0.85"/>
<path d="M511.58 657.34L507.67 655.9L509.69 659.54Z" stroke="#000" stroke-width="0.6" fill="#000" stroke-linejoin="round"/>
<path d="M532.89 667.9L527.29 665.1" stroke="#000" stroke-width="0.85"/>
<path d="M527.78 664.12L524.89 663.9L526.79 666.09Z" stroke="#000" stroke-width="0.6" fill="#000" stroke-linejoin="round"/>
<path d="M544.1 667.9L535.7 665.1" stroke="#000" stroke-width="0.85"/>
<path d="M536.14 663.78L532.1 663.9L535.26 666.42Z" stroke="#000" stroke-width="0.6" fill="#000" stroke-linejoin="round"/>
<path d="M555.31 667.9L546.91 664.4" stroke="#000" stroke-width="0.85"/>
<path d="M547.46 663.08L543.31 662.9L546.36 665.72Z" stroke="#000" stroke-width="0.6" fill="#000" stroke-linejoin="round"/>
<path d="M566.53 667.9L557.17 664.3" stroke="#000" stroke-width="0.85"/>
<path d="M557.69 662.95L553.53 662.9L556.65 665.66Z" stroke="#000" stroke-width="0.6" fill="#000" stroke-linejoin="round"/>
<path d="M577.74 667.9L569.34 665.1" stroke="#000" stroke-width="0.85"/>
<path d="M569.78 663.78L565.74 663.9L568.9 666.42Z" stroke="#000" stroke-width="0.6" fill="#000" stroke-linejoin="round"/>
<path d="M588.95 667.9L581.25 669.3" stroke="#000" stroke-width="0.85"/>
<path d="M581.03 668.09L577.95 669.9L581.47 670.51Z" stroke="#000" stroke-width="0.6" fill="#000" stroke-linejoin="round"/>
<path d="M521.67 679.12L513.97 675.62" stroke="#000" stroke-width="0.85"/>
<path d="M514.52 674.41L510.67 674.12L513.42 676.84Z" stroke="#000" stroke-width="0.6" fill="#000" stroke-linejoin="round"/>
<path d="M532.89 679.12L522.78 679.85" stroke="#000" stroke-width="0.85"/>
<path d="M522.67 678.4L518.89 680.12L522.88 681.29Z" stroke="#000" stroke-width="0.6" fill="#000" stroke-linejoin="round"/>
<path d="M544.1 679.12L536.4 676.33" stroke="#000" stroke-width="0.85"/>
<path d="M536.84 675.12L533.1 675.12L535.96 677.54Z" stroke="#000" stroke-width="0.6" fill="#000" stroke-linejoin="round"/>
<path d="M555.31 679.12L548.31 676.33" stroke="#000" stroke-width="0.85"/>
<path d="M548.75 675.23L545.31 675.12L547.87 677.43Z" stroke="#000" stroke-width="0.6" fill="#000" stroke-linejoin="round"/>
<path d="M566.53 679.12L557.38 677.72" stroke="#000" stroke-width="0.85"/>
<path d="M557.6 676.29L553.53 677.12L557.16 679.15Z" stroke="#000" stroke-width="0.6" fill="#000" stroke-linejoin="round"/>
<path d="M577.74 679.12L570.74 677.73" stroke="#000" stroke-width="0.85"/>
<path d="M570.96 676.62L567.74 677.12L570.52 678.83Z" stroke="#000" stroke-width="0.6" fill="#000" stroke-linejoin="round"/>
<path d="M521.67 690.35L513.97 689.65" stroke="#000" stroke-width="0.85"/>
<path d="M514.08 688.44L510.67 689.35L513.86 690.86Z" stroke="#000" stroke-width="0.6" fill="#000" stroke-linejoin="round"/>
<path d="M532.89 690.35L525.89 690.35" stroke="#000" stroke-width="0.85"/>
<path d="M525.89 689.25L522.89 690.35L525.89 691.45Z" stroke="#000" stroke-width="0.6" fill="#000" stroke-linejoin="round"/>
<path d="M544.1 690.35L534.74 693.95" stroke="#000" stroke-width="0.85"/>
<path d="M534.22 692.59L531.1 695.35L535.26 695.3Z" stroke="#000" stroke-width="0.6" fill="#000" stroke-linejoin="round"/>
<path d="M555.31 690.35L547.61 691.05" stroke="#000" stroke-width="0.85"/>
<path d="M547.5 689.84L544.31 691.35L547.72 692.26Z" stroke="#000" stroke-width="0.6" fill="#000" stroke-linejoin="round"/>
<path d="M566.53 690.35L555.29 687.35" stroke="#000" stroke-width="0.85"/>
<path d="M555.67 685.95L551.53 686.35L554.92 688.75Z" stroke="#000" stroke-width="0.6" fill="#000" stroke-linejoin="round"/>
<path d="M577.74 690.35L571.44 690.35" stroke="#000" stroke-width="0.85"/>
<path d="M571.44 689.25L568.74 690.35L571.44 691.45Z" stroke="#000" stroke-width="0.6" fill="#000" stroke-linejoin="round"/>
<path d="M588.95 690.35L580.55 688.95" stroke="#000" stroke-width="0.85"/>
<path d="M580.77 687.63L576.95 688.35L580.33 690.27Z" stroke="#000" stroke-width="0.6" fill="#000" stroke-linejoin="round"/>
<path d="M510.46 701.57L509.76 695.27" stroke="#000" stroke-width="0.85"/>
<path d="M510.85 695.15L509.46 692.57L508.67 695.39Z" stroke="#000" stroke-width="0.6" fill="#000" stroke-linejoin="round"/>
<path d="M521.67 701.57L514.67 701.57" stroke="#000" stroke-width="0.85"/>
<path d="M514.67 700.47L511.67 701.57L514.67 702.67Z" stroke="#000" stroke-width="0.6" fill="#000" stroke-linejoin="round"/>
<path d="M532.89 701.57L523.43 697.21" stroke="#000" stroke-width="0.85"/>
<path d="M524.04 695.89L519.89 695.57L522.82 698.52Z" stroke="#000" stroke-width="0.6" fill="#000" stroke-linejoin="round"/>
<path d="M544.1 701.57L537.8 698.07" stroke="#000" stroke-width="0.85"/>
<path d="M538.35 697.08L535.1 696.57L537.25 699.06Z" stroke="#000" stroke-width="0.6" fill="#000" stroke-linejoin="round"/>
<path d="M555.31 701.57L546.11 699.45" stroke="#000" stroke-width="0.85"/>
<path d="M546.44 698.04L542.31 698.57L545.79 700.86Z" stroke="#000" stroke-width="0.6" fill="#000" stroke-linejoin="round"/>
<path d="M566.53 701.57L556.2 697.88" stroke="#000" stroke-width="0.85"/>
<path d="M556.69 696.52L552.53 696.57L555.71 699.25Z" stroke="#000" stroke-width="0.6" fill="#000" stroke-linejoin="round"/>
<path d="M510.46 712.79L509.76 718.39" stroke="#000" stroke-width="0.85"/>
<path d="M508.67 718.26L509.46 720.79L510.85 718.53Z" stroke="#000" stroke-width="0.6" fill="#000" stroke-linejoin="round"/>
<path d="M521.67 712.79L513.27 711.39" stroke="#000" stroke-width="0.85"/>
<path d="M513.49 710.07L509.67 710.79L513.05 712.72Z" stroke="#000" stroke-width="0.6" fill="#000" stroke-linejoin="round"/>
<path d="M532.89 712.79L525.89 712.79" stroke="#000" stroke-width="0.85"/>
<path d="M525.89 711.69L522.89 712.79L525.89 713.89Z" stroke="#000" stroke-width="0.6" fill="#000" stroke-linejoin="round"/>
<path d="M544.1 712.79L536.39 717.7" stroke="#000" stroke-width="0.85"/>
<path d="M535.62 716.49L533.1 719.79L537.16 718.91Z" stroke="#000" stroke-width="0.6" fill="#000" stroke-linejoin="round"/>
<path d="M555.31 712.79L547.61 712.79" stroke="#000" stroke-width="0.85"/>
<path d="M547.61 711.58L544.31 712.79L547.61 714Z" stroke="#000" stroke-width="0.6" fill="#000" stroke-linejoin="round"/>
<path d="M566.53 712.79L562.33 705.09" stroke="#000" stroke-width="0.85"/>
<path d="M563.54 704.43L560.53 701.79L561.12 705.75Z" stroke="#000" stroke-width="0.6" fill="#000" stroke-linejoin="round"/>
<path d="M577.74 712.79L576.33 703.65" stroke="#000" stroke-width="0.85"/>
<path d="M577.76 703.43L575.74 699.79L574.9 703.87Z" stroke="#000" stroke-width="0.6" fill="#000" stroke-linejoin="round"/>
<path d="M510.46 724.02L505.56 728.92" stroke="#000" stroke-width="0.85"/>
<path d="M504.78 728.14L503.46 731.02L506.34 729.7Z" stroke="#000" stroke-width="0.6" fill="#000" stroke-linejoin="round"/>
<path d="M521.67 724.02L512.56 723.32" stroke="#000" stroke-width="0.85"/>
<path d="M512.67 721.89L508.67 723.02L512.45 724.75Z" stroke="#000" stroke-width="0.6" fill="#000" stroke-linejoin="round"/>
<path d="M532.89 724.02L522.37 729.27" stroke="#000" stroke-width="0.85"/>
<path d="M521.73 727.98L518.89 731.02L523.02 730.57Z" stroke="#000" stroke-width="0.6" fill="#000" stroke-linejoin="round"/>
<path d="M544.1 724.02L535.7 723.32" stroke="#000" stroke-width="0.85"/>
<path d="M535.81 722L532.1 723.02L535.59 724.64Z" stroke="#000" stroke-width="0.6" fill="#000" stroke-linejoin="round"/>
<path d="M577.74 724.02L568.64 724.02" stroke="#000" stroke-width="0.85"/>
<path d="M568.64 722.59L564.74 724.02L568.64 725.45Z" stroke="#000" stroke-width="0.6" fill="#000" stroke-linejoin="round"/>
<path d="M544.1 735.24L534.9 733.12" stroke="#000" stroke-width="0.85"/>
<path d="M535.23 731.71L531.1 732.24L534.57 734.53Z" stroke="#000" stroke-width="0.6" fill="#000" stroke-linejoin="round"/>
<path d="M566.53 735.24L558.13 733.14" stroke="#000" stroke-width="0.85"/>
<path d="M558.46 731.82L554.53 732.24L557.8 734.46Z" stroke="#000" stroke-width="0.6" fill="#000" stroke-linejoin="round"/>
<line x1="472" y1="444.3" x2="482.2" y2="444.3" stroke="#000" stroke-width="1"/>
<polygon points="467.8,444.3 473,442.1 473,446.5" fill="#000"/>
<text x="484.8" y="447.3" font-size="8.1" fill="#222">220km/s</text>
<text x="456" y="431.7" font-size="11.6" text-anchor="end" fill="#111">-30</text>
<text x="456" y="442.92" font-size="11.6" text-anchor="end" fill="#111">-28</text>
<text x="456" y="454.15" font-size="11.6" text-anchor="end" fill="#111">-26</text>
<text x="456" y="465.37" font-size="11.6" text-anchor="end" fill="#111">-24</text>
<text x="456" y="476.59" font-size="11.6" text-anchor="end" fill="#111">-22</text>
<text x="456" y="487.82" font-size="11.6" text-anchor="end" fill="#111">-20</text>
<text x="456" y="499.04" font-size="11.6" text-anchor="end" fill="#111">-18</text>
<text x="456" y="510.26" font-size="11.6" text-anchor="end" fill="#111">-16</text>
<text x="456" y="521.49" font-size="11.6" text-anchor="end" fill="#111">-14</text>
<text x="456" y="532.71" font-size="11.6" text-anchor="end" fill="#111">-12</text>
<text x="456" y="543.93" font-size="11.6" text-anchor="end" fill="#111">-10</text>
<text x="456" y="555.16" font-size="11.6" text-anchor="end" fill="#111">-8</text>
<text x="456" y="566.38" font-size="11.6" text-anchor="end" fill="#111">-6</text>
<text x="456" y="577.6" font-size="11.6" text-anchor="end" fill="#111">-4</text>
<text x="456" y="588.83" font-size="11.6" text-anchor="end" fill="#111">-2</text>
<text x="456" y="600.05" font-size="11.6" text-anchor="end" fill="#111">0</text>
<text x="456" y="611.27" font-size="11.6" text-anchor="end" fill="#111">2</text>
<text x="456" y="622.5" font-size="11.6" text-anchor="end" fill="#111">4</text>
<text x="456" y="633.72" font-size="11.6" text-anchor="end" fill="#111">6</text>
<text x="456" y="644.94" font-size="11.6" text-anchor="end" fill="#111">8</text>
<text x="456" y="656.17" font-size="11.6" text-anchor="end" fill="#111">10</text>
<text x="456" y="667.39" font-size="11.6" text-anchor="end" fill="#111">12</text>
<text x="456" y="678.61" font-size="11.6" text-anchor="end" fill="#111">14</text>
<text x="456" y="689.84" font-size="11.6" text-anchor="end" fill="#111">16</text>
<text x="456" y="701.06" font-size="11.6" text-anchor="end" fill="#111">18</text>
<text x="456" y="712.28" font-size="11.6" text-anchor="end" fill="#111">20</text>
<text x="456" y="723.51" font-size="11.6" text-anchor="end" fill="#111">22</text>
<text x="456" y="734.73" font-size="11.6" text-anchor="end" fill="#111">24</text>
<text x="456" y="745.95" font-size="11.6" text-anchor="end" fill="#111">26</text>
<text x="456" y="757.18" font-size="11.6" text-anchor="end" fill="#111">28</text>
<text x="456" y="768.4" font-size="11.6" text-anchor="end" fill="#111">30</text>
<text transform="translate(464.1,766.8) rotate(-90)" font-size="11.6" text-anchor="end" fill="#111">-40</text>
<text transform="translate(475.31,766.8) rotate(-90)" font-size="11.6" text-anchor="end" fill="#111">-42</text>
<text transform="translate(486.53,766.8) rotate(-90)" font-size="11.6" text-anchor="end" fill="#111">-44</text>
<text transform="translate(497.74,766.8) rotate(-90)" font-size="11.6" text-anchor="end" fill="#111">-46</text>
<text transform="translate(508.95,766.8) rotate(-90)" font-size="11.6" text-anchor="end" fill="#111">-48</text>
<text transform="translate(520.17,766.8) rotate(-90)" font-size="11.6" text-anchor="end" fill="#111">-50</text>
<text transform="translate(531.38,766.8) rotate(-90)" font-size="11.6" text-anchor="end" fill="#111">-52</text>
<text transform="translate(542.59,766.8) rotate(-90)" font-size="11.6" text-anchor="end" fill="#111">-54</text>
<text transform="translate(553.81,766.8) rotate(-90)" font-size="11.6" text-anchor="end" fill="#111">-56</text>
<text transform="translate(565.02,766.8) rotate(-90)" font-size="11.6" text-anchor="end" fill="#111">-58</text>
<text transform="translate(576.23,766.8) rotate(-90)" font-size="11.6" text-anchor="end" fill="#111">-60</text>
<text transform="translate(587.45,766.8) rotate(-90)" font-size="11.6" text-anchor="end" fill="#111">-62</text>
<text transform="translate(598.66,766.8) rotate(-90)" font-size="11.6" text-anchor="end" fill="#111">-64</text>
<text transform="translate(609.87,766.8) rotate(-90)" font-size="11.6" text-anchor="end" fill="#111">-66</text>
<text transform="translate(621.09,766.8) rotate(-90)" font-size="11.6" text-anchor="end" fill="#111">-68</text>
<text transform="translate(632.3,766.8) rotate(-90)" font-size="11.6" text-anchor="end" fill="#111">-70</text>
<text x="544.1" y="797.7" font-size="13.1" text-anchor="middle" fill="#1a1a1a">GSWX (R<tspan font-size="9.6" dy="6">E</tspan><tspan dy="-6">)</tspan></text>
<text transform="translate(429,594.95) rotate(-90)" font-size="13.1" text-anchor="middle" fill="#1a1a1a">GSWY (R<tspan font-size="9.6" dy="6">E</tspan><tspan dy="-6">)</tspan></text>
<linearGradient id="cgd" x1="0" y1="0" x2="0" y2="1">
<stop offset="0" stop-color="#ff0000"/>
<stop offset="0.17" stop-color="#ff5200"/>
<stop offset="0.33" stop-color="#fa9c00"/>
<stop offset="0.44" stop-color="#fdd000"/>
<stop offset="0.4999" stop-color="#fff200"/>
<stop offset="0.5001" stop-color="#00e68a"/>
<stop offset="0.67" stop-color="#00a8a4"/>
<stop offset="0.83" stop-color="#0066cc"/>
<stop offset="1" stop-color="#0000ff"/>
</linearGradient>
<rect x="640" y="426.6" width="9.1" height="336.7" fill="url(#cgd)"/>
<text x="652.4" y="431.2" font-size="10.4" fill="#333">90</text>
<line x1="646.6" y1="482.72" x2="649.1" y2="482.72" stroke="#444" stroke-width="0.8"/>
<text x="652.4" y="487.32" font-size="10.4" fill="#333">60</text>
<line x1="646.6" y1="538.83" x2="649.1" y2="538.83" stroke="#444" stroke-width="0.8"/>
<text x="652.4" y="543.43" font-size="10.4" fill="#333">30</text>
<line x1="646.6" y1="594.95" x2="649.1" y2="594.95" stroke="#444" stroke-width="0.8"/>
<text x="652.4" y="599.55" font-size="10.4" fill="#333">0</text>
<line x1="646.6" y1="651.07" x2="649.1" y2="651.07" stroke="#444" stroke-width="0.8"/>
<text x="652.4" y="655.67" font-size="10.4" fill="#333">-30</text>
<line x1="646.6" y1="707.18" x2="649.1" y2="707.18" stroke="#444" stroke-width="0.8"/>
<text x="652.4" y="711.78" font-size="10.4" fill="#333">-60</text>
<text x="652.4" y="767.9" font-size="10.4" fill="#333">-90</text>
<text transform="translate(681.6,594.95) rotate(-90)" font-size="12.1" text-anchor="middle" fill="#333">arctan(V⊥y/V⊥x) (°)</text>
<text x="544.1" y="423" font-size="12" text-anchor="middle" fill="#1e1eff">V⊥xy</text>
<text x="241.3" y="13.1" font-family='"Liberation Serif", serif' font-weight="bold" font-size="16" text-anchor="middle" fill="#000">IMF By &gt; 1nT</text>
<text x="540.9" y="10.9" font-family='"Liberation Serif", serif' font-weight="bold" font-size="16" text-anchor="middle" fill="#000">IMF By &lt; -1nT</text>
<text transform="translate(92.9,215.0) scale(0.92,1)" font-size="22" text-anchor="middle" fill="#000">(a)</text>
<text transform="translate(399.7,215.2) scale(0.92,1)" font-size="22" text-anchor="middle" fill="#000">(c)</text>
<text transform="translate(93.2,596.7) scale(0.92,1)" font-size="22" text-anchor="middle" fill="#000">(b)</text>
<text transform="translate(400.3,602.8) scale(0.92,1)" font-size="22" text-anchor="middle" fill="#000">(d)</text>
<text transform="translate(12.0,209.3) rotate(-90)" font-family='"Liberation Serif", serif' font-weight="bold" font-size="16" text-anchor="middle" fill="#000">Northern</text>
<text transform="translate(31.6,209.3) rotate(-90)" font-family='"Liberation Serif", serif' font-weight="bold" font-size="16" text-anchor="middle" fill="#000">Plasma sheet</text>
<text transform="translate(48.7,208.0) rotate(-90)" font-family='"Liberation Serif", serif' font-weight="bold" font-size="16" text-anchor="middle" fill="#000">(Bx &gt;0)</text>
<text transform="translate(12.0,584.8) rotate(-90)" font-family='"Liberation Serif", serif' font-weight="bold" font-size="16" text-anchor="middle" fill="#000">Southern</text>
<text transform="translate(31.6,584.8) rotate(-90)" font-family='"Liberation Serif", serif' font-weight="bold" font-size="16" text-anchor="middle" fill="#000">Plasma sheet</text>
<text transform="translate(48.7,583.6) rotate(-90)" font-family='"Liberation Serif", serif' font-weight="bold" font-size="16" text-anchor="middle" fill="#000">(Bx &lt;0)</text>
</svg></body></html>
